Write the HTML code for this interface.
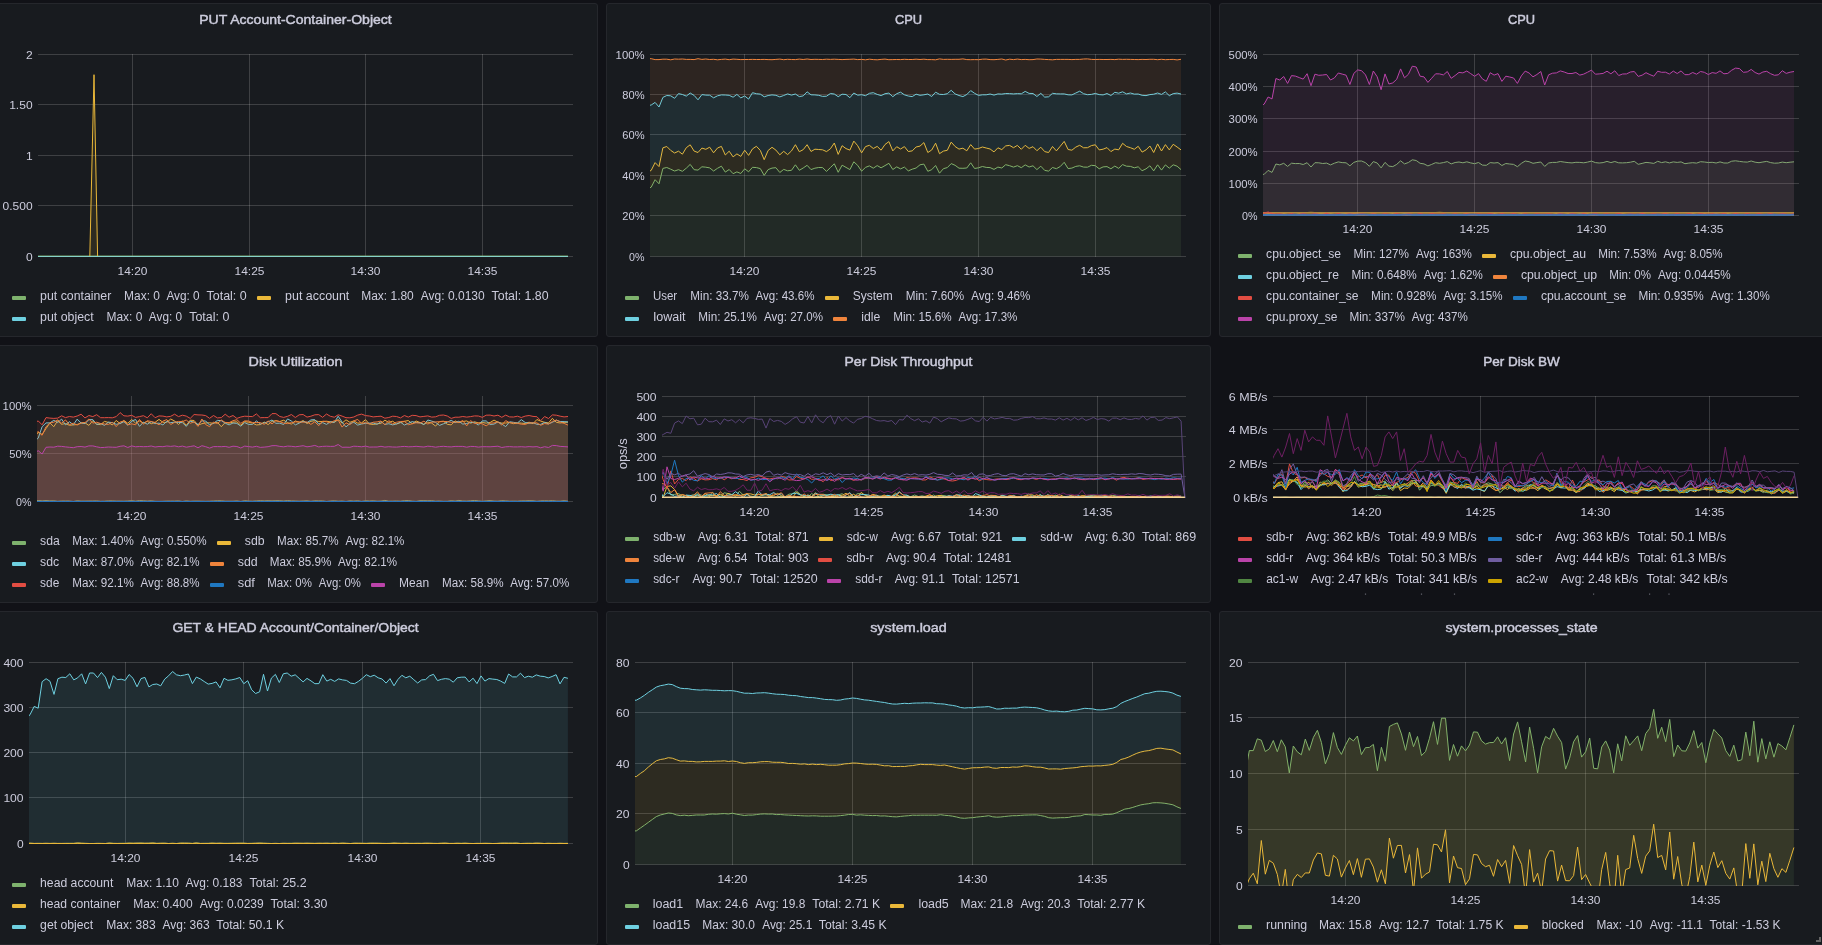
<!DOCTYPE html>
<html><head><meta charset="utf-8"><title>Dashboard</title>
<style>html,body{margin:0;padding:0;background:#111217;overflow:hidden}svg{display:block;will-change:transform}svg{font-family:"Liberation Sans",sans-serif}</style>
</head><body>
<svg width="1822" height="945" viewBox="0 0 1822 945" font-family="Liberation Sans, sans-serif" font-size="12" fill="#ccccdc">
<rect width="1822" height="945" fill="#111217"/>
<rect x="-6.5" y="3.5" width="604" height="333" rx="2.5" fill="#181b1f" stroke="#25272c"/>
<text x="295.5" y="24.4" text-anchor="middle" font-size="13.4" textLength="192.6" lengthAdjust="spacingAndGlyphs" stroke="#ccccdc" stroke-width="0.45">PUT Account-Container-Object</text>
<rect x="132" y="54" width="1" height="203" fill="rgba(255,255,255,0.165)"/>
<rect x="249" y="54" width="1" height="203" fill="rgba(255,255,255,0.165)"/>
<rect x="365" y="54" width="1" height="203" fill="rgba(255,255,255,0.165)"/>
<rect x="482" y="54" width="1" height="203" fill="rgba(255,255,255,0.165)"/>
<rect x="38" y="54" width="535" height="1" fill="rgba(255,255,255,0.165)"/>
<rect x="38" y="104" width="535" height="1" fill="rgba(255,255,255,0.165)"/>
<rect x="38" y="155" width="535" height="1" fill="rgba(255,255,255,0.165)"/>
<rect x="38" y="205" width="535" height="1" fill="rgba(255,255,255,0.165)"/>
<rect x="38" y="256" width="535" height="1" fill="rgba(255,255,255,0.165)"/>
<text x="32.6" y="58.5" text-anchor="end" font-size="11.8" textLength="6.7" lengthAdjust="spacingAndGlyphs">2</text>
<text x="32.6" y="108.5" text-anchor="end" font-size="11.8" textLength="23.4" lengthAdjust="spacingAndGlyphs">1.50</text>
<text x="32.6" y="159.5" text-anchor="end" font-size="11.8" textLength="6.7" lengthAdjust="spacingAndGlyphs">1</text>
<text x="32.6" y="209.5" text-anchor="end" font-size="11.8" textLength="30.1" lengthAdjust="spacingAndGlyphs">0.500</text>
<text x="32.6" y="260.5" text-anchor="end" font-size="11.8" textLength="6.7" lengthAdjust="spacingAndGlyphs">0</text>
<text x="132.5" y="275.1" text-anchor="middle" font-size="11.8" textLength="29.9" lengthAdjust="spacingAndGlyphs">14:20</text>
<text x="249.5" y="275.1" text-anchor="middle" font-size="11.8" textLength="29.9" lengthAdjust="spacingAndGlyphs">14:25</text>
<text x="365.5" y="275.1" text-anchor="middle" font-size="11.8" textLength="29.9" lengthAdjust="spacingAndGlyphs">14:30</text>
<text x="482.5" y="275.1" text-anchor="middle" font-size="11.8" textLength="29.9" lengthAdjust="spacingAndGlyphs">14:35</text>
<clipPath id="c1"><rect x="38" y="53" width="536" height="204"/></clipPath>
<g clip-path="url(#c1)" fill="none" stroke-width="1" stroke-linejoin="round">
<polyline points="31.5,256 568,256" stroke="#7EB26D" stroke-opacity="0.9"/>
<polygon points="31.5,256.5 35.4,256.5 39.2,256.5 43.1,256.5 47,256.5 50.9,256.5 54.8,256.5 58.7,256.5 62.6,256.5 66.5,256.5 70.4,256.5 74.2,256.5 78.1,256.5 82,256.5 85.9,256.5 89.8,256.5 94,74.7 97.6,256.5 101.5,256.5 105.3,256.5 109.2,256.5 113.1,256.5 117,256.5 120.9,256.5 124.8,256.5 128.7,256.5 132.6,256.5 136.4,256.5 140.3,256.5 144.2,256.5 148.1,256.5 152,256.5 155.9,256.5 159.8,256.5 163.7,256.5 167.6,256.5 171.4,256.5 175.3,256.5 179.2,256.5 183.1,256.5 187,256.5 190.9,256.5 194.8,256.5 198.7,256.5 202.5,256.5 206.4,256.5 210.3,256.5 214.2,256.5 218.1,256.5 222,256.5 225.9,256.5 229.8,256.5 233.6,256.5 237.5,256.5 241.4,256.5 245.3,256.5 249.2,256.5 253.1,256.5 257,256.5 260.9,256.5 264.8,256.5 268.6,256.5 272.5,256.5 276.4,256.5 280.3,256.5 284.2,256.5 288.1,256.5 292,256.5 295.9,256.5 299.7,256.5 303.6,256.5 307.5,256.5 311.4,256.5 315.3,256.5 319.2,256.5 323.1,256.5 327,256.5 330.9,256.5 334.7,256.5 338.6,256.5 342.5,256.5 346.4,256.5 350.3,256.5 354.2,256.5 358.1,256.5 362,256.5 365.8,256.5 369.7,256.5 373.6,256.5 377.5,256.5 381.4,256.5 385.3,256.5 389.2,256.5 393.1,256.5 396.9,256.5 400.8,256.5 404.7,256.5 408.6,256.5 412.5,256.5 416.4,256.5 420.3,256.5 424.2,256.5 428.1,256.5 431.9,256.5 435.8,256.5 439.7,256.5 443.6,256.5 447.5,256.5 451.4,256.5 455.3,256.5 459.2,256.5 463,256.5 466.9,256.5 470.8,256.5 474.7,256.5 478.6,256.5 482.5,256.5 486.4,256.5 490.3,256.5 494.2,256.5 498,256.5 501.9,256.5 505.8,256.5 509.7,256.5 513.6,256.5 517.5,256.5 521.4,256.5 525.3,256.5 529.1,256.5 533,256.5 536.9,256.5 540.8,256.5 544.7,256.5 548.6,256.5 552.5,256.5 556.4,256.5 560.2,256.5 564.1,256.5 568,256.5 568,256.5 31.5,256.5" fill="#EAB839" fill-opacity="0.1" stroke="none"/>
<polyline points="31.5,256.5 35.4,256.5 39.2,256.5 43.1,256.5 47,256.5 50.9,256.5 54.8,256.5 58.7,256.5 62.6,256.5 66.5,256.5 70.4,256.5 74.2,256.5 78.1,256.5 82,256.5 85.9,256.5 89.8,256.5 94,74.7 97.6,256.5 101.5,256.5 105.3,256.5 109.2,256.5 113.1,256.5 117,256.5 120.9,256.5 124.8,256.5 128.7,256.5 132.6,256.5 136.4,256.5 140.3,256.5 144.2,256.5 148.1,256.5 152,256.5 155.9,256.5 159.8,256.5 163.7,256.5 167.6,256.5 171.4,256.5 175.3,256.5 179.2,256.5 183.1,256.5 187,256.5 190.9,256.5 194.8,256.5 198.7,256.5 202.5,256.5 206.4,256.5 210.3,256.5 214.2,256.5 218.1,256.5 222,256.5 225.9,256.5 229.8,256.5 233.6,256.5 237.5,256.5 241.4,256.5 245.3,256.5 249.2,256.5 253.1,256.5 257,256.5 260.9,256.5 264.8,256.5 268.6,256.5 272.5,256.5 276.4,256.5 280.3,256.5 284.2,256.5 288.1,256.5 292,256.5 295.9,256.5 299.7,256.5 303.6,256.5 307.5,256.5 311.4,256.5 315.3,256.5 319.2,256.5 323.1,256.5 327,256.5 330.9,256.5 334.7,256.5 338.6,256.5 342.5,256.5 346.4,256.5 350.3,256.5 354.2,256.5 358.1,256.5 362,256.5 365.8,256.5 369.7,256.5 373.6,256.5 377.5,256.5 381.4,256.5 385.3,256.5 389.2,256.5 393.1,256.5 396.9,256.5 400.8,256.5 404.7,256.5 408.6,256.5 412.5,256.5 416.4,256.5 420.3,256.5 424.2,256.5 428.1,256.5 431.9,256.5 435.8,256.5 439.7,256.5 443.6,256.5 447.5,256.5 451.4,256.5 455.3,256.5 459.2,256.5 463,256.5 466.9,256.5 470.8,256.5 474.7,256.5 478.6,256.5 482.5,256.5 486.4,256.5 490.3,256.5 494.2,256.5 498,256.5 501.9,256.5 505.8,256.5 509.7,256.5 513.6,256.5 517.5,256.5 521.4,256.5 525.3,256.5 529.1,256.5 533,256.5 536.9,256.5 540.8,256.5 544.7,256.5 548.6,256.5 552.5,256.5 556.4,256.5 560.2,256.5 564.1,256.5 568,256.5" stroke="#EAB839"/>
<polyline points="31.5,256.5 568,256.5" stroke="#86d2c8"/>
</g>
<rect x="12" y="296" width="14" height="4" rx="1" fill="#7EB26D"/>
<text x="40.1" y="300" textLength="71.2" lengthAdjust="spacingAndGlyphs">put container</text>
<text x="124.1" y="300" textLength="35.8" lengthAdjust="spacingAndGlyphs">Max: 0</text>
<text x="166.4" y="300" textLength="33.3" lengthAdjust="spacingAndGlyphs">Avg: 0</text>
<text x="206.5" y="300" textLength="40.2" lengthAdjust="spacingAndGlyphs">Total: 0</text>
<rect x="257" y="296" width="14" height="4" rx="1" fill="#EAB839"/>
<text x="285.1" y="300" textLength="64.2" lengthAdjust="spacingAndGlyphs">put account</text>
<text x="361.2" y="300" textLength="52.6" lengthAdjust="spacingAndGlyphs">Max: 1.80</text>
<text x="420.8" y="300" textLength="63.9" lengthAdjust="spacingAndGlyphs">Avg: 0.0130</text>
<text x="491.6" y="300" textLength="57" lengthAdjust="spacingAndGlyphs">Total: 1.80</text>
<rect x="12" y="317" width="14" height="4" rx="1" fill="#6ED0E0"/>
<text x="40.1" y="321" textLength="53.6" lengthAdjust="spacingAndGlyphs">put object</text>
<text x="106.5" y="321" textLength="35.8" lengthAdjust="spacingAndGlyphs">Max: 0</text>
<text x="148.8" y="321" textLength="33.3" lengthAdjust="spacingAndGlyphs">Avg: 0</text>
<text x="189.2" y="321" textLength="40.2" lengthAdjust="spacingAndGlyphs">Total: 0</text>
<rect x="606.5" y="3.5" width="604" height="333" rx="2.5" fill="#181b1f" stroke="#25272c"/>
<text x="908.5" y="24.4" text-anchor="middle" font-size="13.4" textLength="27.2" lengthAdjust="spacingAndGlyphs" stroke="#ccccdc" stroke-width="0.45">CPU</text>
<rect x="744" y="54" width="1" height="203" fill="rgba(255,255,255,0.165)"/>
<rect x="861" y="54" width="1" height="203" fill="rgba(255,255,255,0.165)"/>
<rect x="978" y="54" width="1" height="203" fill="rgba(255,255,255,0.165)"/>
<rect x="1095" y="54" width="1" height="203" fill="rgba(255,255,255,0.165)"/>
<rect x="650" y="54" width="536" height="1" fill="rgba(255,255,255,0.165)"/>
<rect x="650" y="94" width="536" height="1" fill="rgba(255,255,255,0.165)"/>
<rect x="650" y="134" width="536" height="1" fill="rgba(255,255,255,0.165)"/>
<rect x="650" y="175" width="536" height="1" fill="rgba(255,255,255,0.165)"/>
<rect x="650" y="215" width="536" height="1" fill="rgba(255,255,255,0.165)"/>
<rect x="650" y="256" width="536" height="1" fill="rgba(255,255,255,0.165)"/>
<text x="644.6" y="58.5" text-anchor="end" font-size="11.8" textLength="29" lengthAdjust="spacingAndGlyphs">100%</text>
<text x="644.6" y="98.5" text-anchor="end" font-size="11.8" textLength="22.3" lengthAdjust="spacingAndGlyphs">80%</text>
<text x="644.6" y="138.5" text-anchor="end" font-size="11.8" textLength="22.3" lengthAdjust="spacingAndGlyphs">60%</text>
<text x="644.6" y="179.5" text-anchor="end" font-size="11.8" textLength="22.3" lengthAdjust="spacingAndGlyphs">40%</text>
<text x="644.6" y="219.5" text-anchor="end" font-size="11.8" textLength="22.3" lengthAdjust="spacingAndGlyphs">20%</text>
<text x="644.6" y="260.5" text-anchor="end" font-size="11.8" textLength="15.5" lengthAdjust="spacingAndGlyphs">0%</text>
<text x="744.5" y="275.1" text-anchor="middle" font-size="11.8" textLength="29.9" lengthAdjust="spacingAndGlyphs">14:20</text>
<text x="861.5" y="275.1" text-anchor="middle" font-size="11.8" textLength="29.9" lengthAdjust="spacingAndGlyphs">14:25</text>
<text x="978.5" y="275.1" text-anchor="middle" font-size="11.8" textLength="29.9" lengthAdjust="spacingAndGlyphs">14:30</text>
<text x="1095.5" y="275.1" text-anchor="middle" font-size="11.8" textLength="29.9" lengthAdjust="spacingAndGlyphs">14:35</text>
<clipPath id="c2"><rect x="650" y="53" width="537" height="204"/></clipPath>
<g clip-path="url(#c2)" fill="none" stroke-width="1" stroke-linejoin="round">
<polygon points="643.5,189.8 647.4,188.8 651.2,187.2 655.1,179.7 659,183.8 662.9,168.4 666.8,167.5 670.7,169.2 674.6,171 678.5,169.7 682.4,171.3 686.3,168.2 690.2,164.4 694.1,169.7 698,170.1 701.9,166.8 705.8,167.2 709.7,167.9 713.6,171 717.5,168.3 721.4,166.2 725.3,172.1 729.2,169.5 733.1,173.7 736.9,171.9 740.8,173.5 744.7,168.8 748.6,171.8 752.5,167.3 756.4,167.6 760.3,168.6 764.2,175.4 768.1,169.6 772,168.1 775.9,167.7 779.8,172.5 783.7,169.4 787.6,170.8 791.5,170.3 795.4,164.8 799.3,170.3 803.2,168 807.1,165.3 811,169.6 814.9,168.2 818.7,167.5 822.6,167.6 826.5,171.4 830.4,167.6 834.3,163.8 838.2,172.3 842.1,165.2 846,167.4 849.9,169.6 853.8,161.8 857.7,165.4 861.6,171.2 865.5,167.4 869.4,165.9 873.3,168.2 877.2,165.6 881.1,167.8 885,165.6 888.9,163.3 892.8,169.5 896.7,166.9 900.6,168.9 904.4,167.1 908.3,170.9 912.2,169.2 916.1,168 920,164.8 923.9,164.1 927.8,171.3 931.7,169.7 935.6,165.5 939.5,173.2 943.4,168.7 947.3,167.6 951.2,163.6 955.1,165.3 959,168.2 962.9,168.3 966.8,168 970.7,162.8 974.6,168.5 978.5,167.8 982.4,166.5 986.2,167.4 990.1,167.6 994,169.4 997.9,167.1 1001.8,168 1005.7,164.7 1009.6,165.7 1013.5,167.1 1017.4,165.7 1021.3,167.7 1025.2,164.9 1029.1,167 1033,165.8 1036.9,169.6 1040.8,166.2 1044.7,170.4 1048.6,171.1 1052.5,167.5 1056.4,168.7 1060.3,166.5 1064.2,162.3 1068.1,168.6 1071.9,168.1 1075.8,166.4 1079.7,165.8 1083.6,167.1 1087.5,167.2 1091.4,165.3 1095.3,165.7 1099.2,168.8 1103.1,166.9 1107,166.6 1110.9,168.8 1114.8,166.1 1118.7,168.4 1122.6,164.6 1126.5,166.2 1130.4,166.4 1134.3,167.8 1138.2,166.8 1142.1,170.7 1146,168.9 1149.9,165.8 1153.7,170.9 1157.6,164.8 1161.5,170.1 1165.4,164.9 1169.3,168.2 1173.2,164.8 1177.1,166.2 1181,169.6 1181,256.5 643.5,256.5" fill="#7EB26D" fill-opacity="0.1" stroke="none"/>
<polyline points="643.5,189.8 647.4,188.8 651.2,187.2 655.1,179.7 659,183.8 662.9,168.4 666.8,167.5 670.7,169.2 674.6,171 678.5,169.7 682.4,171.3 686.3,168.2 690.2,164.4 694.1,169.7 698,170.1 701.9,166.8 705.8,167.2 709.7,167.9 713.6,171 717.5,168.3 721.4,166.2 725.3,172.1 729.2,169.5 733.1,173.7 736.9,171.9 740.8,173.5 744.7,168.8 748.6,171.8 752.5,167.3 756.4,167.6 760.3,168.6 764.2,175.4 768.1,169.6 772,168.1 775.9,167.7 779.8,172.5 783.7,169.4 787.6,170.8 791.5,170.3 795.4,164.8 799.3,170.3 803.2,168 807.1,165.3 811,169.6 814.9,168.2 818.7,167.5 822.6,167.6 826.5,171.4 830.4,167.6 834.3,163.8 838.2,172.3 842.1,165.2 846,167.4 849.9,169.6 853.8,161.8 857.7,165.4 861.6,171.2 865.5,167.4 869.4,165.9 873.3,168.2 877.2,165.6 881.1,167.8 885,165.6 888.9,163.3 892.8,169.5 896.7,166.9 900.6,168.9 904.4,167.1 908.3,170.9 912.2,169.2 916.1,168 920,164.8 923.9,164.1 927.8,171.3 931.7,169.7 935.6,165.5 939.5,173.2 943.4,168.7 947.3,167.6 951.2,163.6 955.1,165.3 959,168.2 962.9,168.3 966.8,168 970.7,162.8 974.6,168.5 978.5,167.8 982.4,166.5 986.2,167.4 990.1,167.6 994,169.4 997.9,167.1 1001.8,168 1005.7,164.7 1009.6,165.7 1013.5,167.1 1017.4,165.7 1021.3,167.7 1025.2,164.9 1029.1,167 1033,165.8 1036.9,169.6 1040.8,166.2 1044.7,170.4 1048.6,171.1 1052.5,167.5 1056.4,168.7 1060.3,166.5 1064.2,162.3 1068.1,168.6 1071.9,168.1 1075.8,166.4 1079.7,165.8 1083.6,167.1 1087.5,167.2 1091.4,165.3 1095.3,165.7 1099.2,168.8 1103.1,166.9 1107,166.6 1110.9,168.8 1114.8,166.1 1118.7,168.4 1122.6,164.6 1126.5,166.2 1130.4,166.4 1134.3,167.8 1138.2,166.8 1142.1,170.7 1146,168.9 1149.9,165.8 1153.7,170.9 1157.6,164.8 1161.5,170.1 1165.4,164.9 1169.3,168.2 1173.2,164.8 1177.1,166.2 1181,169.6" stroke="#7EB26D"/>
<polygon points="643.5,173.3 647.4,172.3 651.2,170.4 655.1,162.6 659,166.6 662.9,147.8 666.8,146.5 670.7,150.4 674.6,153 678.5,151.2 682.4,154.2 686.3,147.7 690.2,144.8 694.1,151.1 698,152.5 701.9,148.1 705.8,149.3 709.7,147.2 713.6,152.8 717.5,148 721.4,146.4 725.3,155 729.2,151.2 733.1,156.9 736.9,153.9 740.8,156.4 744.7,150.2 748.6,155.4 752.5,148.9 756.4,146.3 760.3,150.4 764.2,159.7 768.1,150.5 772,147.3 775.9,150.1 779.8,154.8 783.7,151.3 787.6,154.6 791.5,150.9 795.4,144.7 799.3,151.7 803.2,149.7 807.1,144.7 811,151.5 814.9,149.2 818.7,149.5 822.6,149.8 826.5,151.6 830.4,148.8 834.3,143 838.2,154.4 842.1,145.7 846,148.6 849.9,150.1 853.8,141.1 857.7,145.7 861.6,152.9 865.5,146.6 869.4,145.3 873.3,148.5 877.2,146.4 881.1,150.2 885,144.5 888.9,141.6 892.8,150.9 896.7,146.7 900.6,149 904.4,146.6 908.3,151.5 912.2,150.9 916.1,147 920,146.1 923.9,142.6 927.8,152.5 931.7,150 935.6,143.2 939.5,153.7 943.4,151.1 947.3,150.3 951.2,142.1 955.1,146.5 959,149.1 962.9,148.2 966.8,150.8 970.7,144.6 974.6,149.1 978.5,148.5 982.4,147 986.2,148 990.1,149 994,151.9 997.9,147.8 1001.8,149.6 1005.7,145.9 1009.6,145.4 1013.5,147.7 1017.4,145.4 1021.3,149.3 1025.2,145.3 1029.1,148.4 1033,146.7 1036.9,150.7 1040.8,147.2 1044.7,151.6 1048.6,152.5 1052.5,146.5 1056.4,150.9 1060.3,146.2 1064.2,141.4 1068.1,149.5 1071.9,150.2 1075.8,147.1 1079.7,145.3 1083.6,147.8 1087.5,147.7 1091.4,145.6 1095.3,144.8 1099.2,149.9 1103.1,149.2 1107,147.6 1110.9,151.6 1114.8,149.1 1118.7,149.8 1122.6,143.3 1126.5,146.5 1130.4,147.7 1134.3,149.3 1138.2,146.3 1142.1,152.1 1146,149.9 1149.9,146 1153.7,152.5 1157.6,143.9 1161.5,151 1165.4,144.6 1169.3,149.9 1173.2,144.3 1177.1,147 1181,149.9 1181,169.6 1177.1,166.2 1173.2,164.8 1169.3,168.2 1165.4,164.9 1161.5,170.1 1157.6,164.8 1153.7,170.9 1149.9,165.8 1146,168.9 1142.1,170.7 1138.2,166.8 1134.3,167.8 1130.4,166.4 1126.5,166.2 1122.6,164.6 1118.7,168.4 1114.8,166.1 1110.9,168.8 1107,166.6 1103.1,166.9 1099.2,168.8 1095.3,165.7 1091.4,165.3 1087.5,167.2 1083.6,167.1 1079.7,165.8 1075.8,166.4 1071.9,168.1 1068.1,168.6 1064.2,162.3 1060.3,166.5 1056.4,168.7 1052.5,167.5 1048.6,171.1 1044.7,170.4 1040.8,166.2 1036.9,169.6 1033,165.8 1029.1,167 1025.2,164.9 1021.3,167.7 1017.4,165.7 1013.5,167.1 1009.6,165.7 1005.7,164.7 1001.8,168 997.9,167.1 994,169.4 990.1,167.6 986.2,167.4 982.4,166.5 978.5,167.8 974.6,168.5 970.7,162.8 966.8,168 962.9,168.3 959,168.2 955.1,165.3 951.2,163.6 947.3,167.6 943.4,168.7 939.5,173.2 935.6,165.5 931.7,169.7 927.8,171.3 923.9,164.1 920,164.8 916.1,168 912.2,169.2 908.3,170.9 904.4,167.1 900.6,168.9 896.7,166.9 892.8,169.5 888.9,163.3 885,165.6 881.1,167.8 877.2,165.6 873.3,168.2 869.4,165.9 865.5,167.4 861.6,171.2 857.7,165.4 853.8,161.8 849.9,169.6 846,167.4 842.1,165.2 838.2,172.3 834.3,163.8 830.4,167.6 826.5,171.4 822.6,167.6 818.7,167.5 814.9,168.2 811,169.6 807.1,165.3 803.2,168 799.3,170.3 795.4,164.8 791.5,170.3 787.6,170.8 783.7,169.4 779.8,172.5 775.9,167.7 772,168.1 768.1,169.6 764.2,175.4 760.3,168.6 756.4,167.6 752.5,167.3 748.6,171.8 744.7,168.8 740.8,173.5 736.9,171.9 733.1,173.7 729.2,169.5 725.3,172.1 721.4,166.2 717.5,168.3 713.6,171 709.7,167.9 705.8,167.2 701.9,166.8 698,170.1 694.1,169.7 690.2,164.4 686.3,168.2 682.4,171.3 678.5,169.7 674.6,171 670.7,169.2 666.8,167.5 662.9,168.4 659,183.8 655.1,179.7 651.2,187.2 647.4,188.8 643.5,189.8" fill="#EAB839" fill-opacity="0.1" stroke="none"/>
<polyline points="643.5,173.3 647.4,172.3 651.2,170.4 655.1,162.6 659,166.6 662.9,147.8 666.8,146.5 670.7,150.4 674.6,153 678.5,151.2 682.4,154.2 686.3,147.7 690.2,144.8 694.1,151.1 698,152.5 701.9,148.1 705.8,149.3 709.7,147.2 713.6,152.8 717.5,148 721.4,146.4 725.3,155 729.2,151.2 733.1,156.9 736.9,153.9 740.8,156.4 744.7,150.2 748.6,155.4 752.5,148.9 756.4,146.3 760.3,150.4 764.2,159.7 768.1,150.5 772,147.3 775.9,150.1 779.8,154.8 783.7,151.3 787.6,154.6 791.5,150.9 795.4,144.7 799.3,151.7 803.2,149.7 807.1,144.7 811,151.5 814.9,149.2 818.7,149.5 822.6,149.8 826.5,151.6 830.4,148.8 834.3,143 838.2,154.4 842.1,145.7 846,148.6 849.9,150.1 853.8,141.1 857.7,145.7 861.6,152.9 865.5,146.6 869.4,145.3 873.3,148.5 877.2,146.4 881.1,150.2 885,144.5 888.9,141.6 892.8,150.9 896.7,146.7 900.6,149 904.4,146.6 908.3,151.5 912.2,150.9 916.1,147 920,146.1 923.9,142.6 927.8,152.5 931.7,150 935.6,143.2 939.5,153.7 943.4,151.1 947.3,150.3 951.2,142.1 955.1,146.5 959,149.1 962.9,148.2 966.8,150.8 970.7,144.6 974.6,149.1 978.5,148.5 982.4,147 986.2,148 990.1,149 994,151.9 997.9,147.8 1001.8,149.6 1005.7,145.9 1009.6,145.4 1013.5,147.7 1017.4,145.4 1021.3,149.3 1025.2,145.3 1029.1,148.4 1033,146.7 1036.9,150.7 1040.8,147.2 1044.7,151.6 1048.6,152.5 1052.5,146.5 1056.4,150.9 1060.3,146.2 1064.2,141.4 1068.1,149.5 1071.9,150.2 1075.8,147.1 1079.7,145.3 1083.6,147.8 1087.5,147.7 1091.4,145.6 1095.3,144.8 1099.2,149.9 1103.1,149.2 1107,147.6 1110.9,151.6 1114.8,149.1 1118.7,149.8 1122.6,143.3 1126.5,146.5 1130.4,147.7 1134.3,149.3 1138.2,146.3 1142.1,152.1 1146,149.9 1149.9,146 1153.7,152.5 1157.6,143.9 1161.5,151 1165.4,144.6 1169.3,149.9 1173.2,144.3 1177.1,147 1181,149.9" stroke="#EAB839"/>
<polygon points="643.5,106.4 647.4,105.8 651.2,105 655.1,102.4 659,107 662.9,97.4 666.8,95.5 670.7,95.8 674.6,98.3 678.5,93.6 682.4,94.5 686.3,96.1 690.2,93 694.1,95.4 698,99.8 701.9,94.6 705.8,95.1 709.7,95.2 713.6,97.8 717.5,95.8 721.4,94.9 725.3,95 729.2,95.3 733.1,97.2 736.9,94.4 740.8,97.9 744.7,96 748.6,99.1 752.5,92.7 756.4,93.7 760.3,94.1 764.2,96.8 768.1,95.5 772,94.9 775.9,95.3 779.8,96.9 783.7,95.5 787.6,93.9 791.5,95.1 795.4,94 799.3,96.6 803.2,95.9 807.1,91.8 811,94.8 814.9,94.9 818.7,95.3 822.6,96.4 826.5,96.2 830.4,93.5 834.3,94 838.2,96.7 842.1,94.2 846,94.5 849.9,97.7 853.8,93 857.7,95.2 861.6,94.7 865.5,95.7 869.4,93.3 873.3,92.7 877.2,94.4 881.1,95.6 885,93.7 888.9,93.1 892.8,96.7 896.7,93.7 900.6,92.2 904.4,94.8 908.3,96 912.2,96.6 916.1,94.2 920,95.3 923.9,94.8 927.8,94 931.7,96.5 935.6,92.2 939.5,94.3 943.4,94.5 947.3,93.7 951.2,90.3 955.1,93.9 959,95.5 962.9,96.6 966.8,94.5 970.7,90.6 974.6,93.3 978.5,95.4 982.4,94.8 986.2,94.8 990.1,94 994,95.1 997.9,93.9 1001.8,94.1 1005.7,93.5 1009.6,93.6 1013.5,93.9 1017.4,93.6 1021.3,93.8 1025.2,91.4 1029.1,93.4 1033,93.5 1036.9,96.5 1040.8,93.3 1044.7,97.1 1048.6,96.8 1052.5,93.3 1056.4,93.8 1060.3,93.9 1064.2,93.9 1068.1,94.8 1071.9,94.9 1075.8,93 1079.7,91.2 1083.6,93.7 1087.5,94.7 1091.4,94.4 1095.3,93.4 1099.2,94.6 1103.1,94.9 1107,93.5 1110.9,95.5 1114.8,92.3 1118.7,93.2 1122.6,91.8 1126.5,93.9 1130.4,93 1134.3,94.1 1138.2,94 1142.1,95.3 1146,95.6 1149.9,94.6 1153.7,94.2 1157.6,93 1161.5,94.4 1165.4,91.9 1169.3,95.7 1173.2,93.6 1177.1,93.1 1181,94 1181,149.9 1177.1,147 1173.2,144.3 1169.3,149.9 1165.4,144.6 1161.5,151 1157.6,143.9 1153.7,152.5 1149.9,146 1146,149.9 1142.1,152.1 1138.2,146.3 1134.3,149.3 1130.4,147.7 1126.5,146.5 1122.6,143.3 1118.7,149.8 1114.8,149.1 1110.9,151.6 1107,147.6 1103.1,149.2 1099.2,149.9 1095.3,144.8 1091.4,145.6 1087.5,147.7 1083.6,147.8 1079.7,145.3 1075.8,147.1 1071.9,150.2 1068.1,149.5 1064.2,141.4 1060.3,146.2 1056.4,150.9 1052.5,146.5 1048.6,152.5 1044.7,151.6 1040.8,147.2 1036.9,150.7 1033,146.7 1029.1,148.4 1025.2,145.3 1021.3,149.3 1017.4,145.4 1013.5,147.7 1009.6,145.4 1005.7,145.9 1001.8,149.6 997.9,147.8 994,151.9 990.1,149 986.2,148 982.4,147 978.5,148.5 974.6,149.1 970.7,144.6 966.8,150.8 962.9,148.2 959,149.1 955.1,146.5 951.2,142.1 947.3,150.3 943.4,151.1 939.5,153.7 935.6,143.2 931.7,150 927.8,152.5 923.9,142.6 920,146.1 916.1,147 912.2,150.9 908.3,151.5 904.4,146.6 900.6,149 896.7,146.7 892.8,150.9 888.9,141.6 885,144.5 881.1,150.2 877.2,146.4 873.3,148.5 869.4,145.3 865.5,146.6 861.6,152.9 857.7,145.7 853.8,141.1 849.9,150.1 846,148.6 842.1,145.7 838.2,154.4 834.3,143 830.4,148.8 826.5,151.6 822.6,149.8 818.7,149.5 814.9,149.2 811,151.5 807.1,144.7 803.2,149.7 799.3,151.7 795.4,144.7 791.5,150.9 787.6,154.6 783.7,151.3 779.8,154.8 775.9,150.1 772,147.3 768.1,150.5 764.2,159.7 760.3,150.4 756.4,146.3 752.5,148.9 748.6,155.4 744.7,150.2 740.8,156.4 736.9,153.9 733.1,156.9 729.2,151.2 725.3,155 721.4,146.4 717.5,148 713.6,152.8 709.7,147.2 705.8,149.3 701.9,148.1 698,152.5 694.1,151.1 690.2,144.8 686.3,147.7 682.4,154.2 678.5,151.2 674.6,153 670.7,150.4 666.8,146.5 662.9,147.8 659,166.6 655.1,162.6 651.2,170.4 647.4,172.3 643.5,173.3" fill="#6ED0E0" fill-opacity="0.1" stroke="none"/>
<polyline points="643.5,106.4 647.4,105.8 651.2,105 655.1,102.4 659,107 662.9,97.4 666.8,95.5 670.7,95.8 674.6,98.3 678.5,93.6 682.4,94.5 686.3,96.1 690.2,93 694.1,95.4 698,99.8 701.9,94.6 705.8,95.1 709.7,95.2 713.6,97.8 717.5,95.8 721.4,94.9 725.3,95 729.2,95.3 733.1,97.2 736.9,94.4 740.8,97.9 744.7,96 748.6,99.1 752.5,92.7 756.4,93.7 760.3,94.1 764.2,96.8 768.1,95.5 772,94.9 775.9,95.3 779.8,96.9 783.7,95.5 787.6,93.9 791.5,95.1 795.4,94 799.3,96.6 803.2,95.9 807.1,91.8 811,94.8 814.9,94.9 818.7,95.3 822.6,96.4 826.5,96.2 830.4,93.5 834.3,94 838.2,96.7 842.1,94.2 846,94.5 849.9,97.7 853.8,93 857.7,95.2 861.6,94.7 865.5,95.7 869.4,93.3 873.3,92.7 877.2,94.4 881.1,95.6 885,93.7 888.9,93.1 892.8,96.7 896.7,93.7 900.6,92.2 904.4,94.8 908.3,96 912.2,96.6 916.1,94.2 920,95.3 923.9,94.8 927.8,94 931.7,96.5 935.6,92.2 939.5,94.3 943.4,94.5 947.3,93.7 951.2,90.3 955.1,93.9 959,95.5 962.9,96.6 966.8,94.5 970.7,90.6 974.6,93.3 978.5,95.4 982.4,94.8 986.2,94.8 990.1,94 994,95.1 997.9,93.9 1001.8,94.1 1005.7,93.5 1009.6,93.6 1013.5,93.9 1017.4,93.6 1021.3,93.8 1025.2,91.4 1029.1,93.4 1033,93.5 1036.9,96.5 1040.8,93.3 1044.7,97.1 1048.6,96.8 1052.5,93.3 1056.4,93.8 1060.3,93.9 1064.2,93.9 1068.1,94.8 1071.9,94.9 1075.8,93 1079.7,91.2 1083.6,93.7 1087.5,94.7 1091.4,94.4 1095.3,93.4 1099.2,94.6 1103.1,94.9 1107,93.5 1110.9,95.5 1114.8,92.3 1118.7,93.2 1122.6,91.8 1126.5,93.9 1130.4,93 1134.3,94.1 1138.2,94 1142.1,95.3 1146,95.6 1149.9,94.6 1153.7,94.2 1157.6,93 1161.5,94.4 1165.4,91.9 1169.3,95.7 1173.2,93.6 1177.1,93.1 1181,94" stroke="#6ED0E0"/>
<polygon points="643.5,58.5 647.4,58.5 651.2,58.7 655.1,59.6 659,59.6 662.9,59.2 666.8,59.2 670.7,59.8 674.6,59 678.5,59.2 682.4,59 686.3,59.4 690.2,59.4 694.1,59.6 698,58.7 701.9,59.4 705.8,59 709.7,59.5 713.6,59.3 717.5,59.8 721.4,59.4 725.3,59.1 729.2,59.7 733.1,59.1 736.9,59.3 740.8,59.6 744.7,59.5 748.6,59.5 752.5,59.4 756.4,59.5 760.3,59.5 764.2,59.4 768.1,59.6 772,59.7 775.9,59.4 779.8,59.1 783.7,59.7 787.6,59.3 791.5,59.5 795.4,59.6 799.3,59.1 803.2,59.5 807.1,59 811,59.5 814.9,59.3 818.7,59.4 822.6,59.5 826.5,59.2 830.4,59.4 834.3,59.2 838.2,59.4 842.1,59.6 846,59.4 849.9,59.3 853.8,59.1 857.7,59.6 861.6,59.4 865.5,59.8 869.4,59.2 873.3,59.6 877.2,59.8 881.1,59.4 885,59.1 888.9,59.7 892.8,59.6 896.7,59.5 900.6,59.6 904.4,59.3 908.3,59.5 912.2,59.5 916.1,59.2 920,59.5 923.9,59.2 927.8,59.6 931.7,59.6 935.6,59.8 939.5,58.9 943.4,59.4 947.3,59.3 951.2,59.4 955.1,59.3 959,59.3 962.9,58.9 966.8,59.6 970.7,59.7 974.6,59.6 978.5,59.7 982.4,59.2 986.2,59.1 990.1,59.6 994,59.7 997.9,59.4 1001.8,59 1005.7,60 1009.6,59.2 1013.5,59.6 1017.4,59.1 1021.3,59.6 1025.2,59.4 1029.1,59.7 1033,59.6 1036.9,59 1040.8,59.1 1044.7,59.4 1048.6,59.6 1052.5,59.8 1056.4,59.4 1060.3,59.4 1064.2,59.4 1068.1,59.4 1071.9,59.6 1075.8,59.4 1079.7,59.4 1083.6,59 1087.5,58.9 1091.4,59.4 1095.3,59.5 1099.2,59.4 1103.1,59.5 1107,59.5 1110.9,59.4 1114.8,59.6 1118.7,59.2 1122.6,59.4 1126.5,59.3 1130.4,59.4 1134.3,59.5 1138.2,59.6 1142.1,59.4 1146,59.5 1149.9,59.3 1153.7,59.3 1157.6,59.7 1161.5,59.3 1165.4,59.7 1169.3,59.5 1173.2,59.4 1177.1,59.9 1181,59.3 1181,94 1177.1,93.1 1173.2,93.6 1169.3,95.7 1165.4,91.9 1161.5,94.4 1157.6,93 1153.7,94.2 1149.9,94.6 1146,95.6 1142.1,95.3 1138.2,94 1134.3,94.1 1130.4,93 1126.5,93.9 1122.6,91.8 1118.7,93.2 1114.8,92.3 1110.9,95.5 1107,93.5 1103.1,94.9 1099.2,94.6 1095.3,93.4 1091.4,94.4 1087.5,94.7 1083.6,93.7 1079.7,91.2 1075.8,93 1071.9,94.9 1068.1,94.8 1064.2,93.9 1060.3,93.9 1056.4,93.8 1052.5,93.3 1048.6,96.8 1044.7,97.1 1040.8,93.3 1036.9,96.5 1033,93.5 1029.1,93.4 1025.2,91.4 1021.3,93.8 1017.4,93.6 1013.5,93.9 1009.6,93.6 1005.7,93.5 1001.8,94.1 997.9,93.9 994,95.1 990.1,94 986.2,94.8 982.4,94.8 978.5,95.4 974.6,93.3 970.7,90.6 966.8,94.5 962.9,96.6 959,95.5 955.1,93.9 951.2,90.3 947.3,93.7 943.4,94.5 939.5,94.3 935.6,92.2 931.7,96.5 927.8,94 923.9,94.8 920,95.3 916.1,94.2 912.2,96.6 908.3,96 904.4,94.8 900.6,92.2 896.7,93.7 892.8,96.7 888.9,93.1 885,93.7 881.1,95.6 877.2,94.4 873.3,92.7 869.4,93.3 865.5,95.7 861.6,94.7 857.7,95.2 853.8,93 849.9,97.7 846,94.5 842.1,94.2 838.2,96.7 834.3,94 830.4,93.5 826.5,96.2 822.6,96.4 818.7,95.3 814.9,94.9 811,94.8 807.1,91.8 803.2,95.9 799.3,96.6 795.4,94 791.5,95.1 787.6,93.9 783.7,95.5 779.8,96.9 775.9,95.3 772,94.9 768.1,95.5 764.2,96.8 760.3,94.1 756.4,93.7 752.5,92.7 748.6,99.1 744.7,96 740.8,97.9 736.9,94.4 733.1,97.2 729.2,95.3 725.3,95 721.4,94.9 717.5,95.8 713.6,97.8 709.7,95.2 705.8,95.1 701.9,94.6 698,99.8 694.1,95.4 690.2,93 686.3,96.1 682.4,94.5 678.5,93.6 674.6,98.3 670.7,95.8 666.8,95.5 662.9,97.4 659,107 655.1,102.4 651.2,105 647.4,105.8 643.5,106.4" fill="#EF843C" fill-opacity="0.1" stroke="none"/>
<polyline points="643.5,58.5 647.4,58.5 651.2,58.7 655.1,59.6 659,59.6 662.9,59.2 666.8,59.2 670.7,59.8 674.6,59 678.5,59.2 682.4,59 686.3,59.4 690.2,59.4 694.1,59.6 698,58.7 701.9,59.4 705.8,59 709.7,59.5 713.6,59.3 717.5,59.8 721.4,59.4 725.3,59.1 729.2,59.7 733.1,59.1 736.9,59.3 740.8,59.6 744.7,59.5 748.6,59.5 752.5,59.4 756.4,59.5 760.3,59.5 764.2,59.4 768.1,59.6 772,59.7 775.9,59.4 779.8,59.1 783.7,59.7 787.6,59.3 791.5,59.5 795.4,59.6 799.3,59.1 803.2,59.5 807.1,59 811,59.5 814.9,59.3 818.7,59.4 822.6,59.5 826.5,59.2 830.4,59.4 834.3,59.2 838.2,59.4 842.1,59.6 846,59.4 849.9,59.3 853.8,59.1 857.7,59.6 861.6,59.4 865.5,59.8 869.4,59.2 873.3,59.6 877.2,59.8 881.1,59.4 885,59.1 888.9,59.7 892.8,59.6 896.7,59.5 900.6,59.6 904.4,59.3 908.3,59.5 912.2,59.5 916.1,59.2 920,59.5 923.9,59.2 927.8,59.6 931.7,59.6 935.6,59.8 939.5,58.9 943.4,59.4 947.3,59.3 951.2,59.4 955.1,59.3 959,59.3 962.9,58.9 966.8,59.6 970.7,59.7 974.6,59.6 978.5,59.7 982.4,59.2 986.2,59.1 990.1,59.6 994,59.7 997.9,59.4 1001.8,59 1005.7,60 1009.6,59.2 1013.5,59.6 1017.4,59.1 1021.3,59.6 1025.2,59.4 1029.1,59.7 1033,59.6 1036.9,59 1040.8,59.1 1044.7,59.4 1048.6,59.6 1052.5,59.8 1056.4,59.4 1060.3,59.4 1064.2,59.4 1068.1,59.4 1071.9,59.6 1075.8,59.4 1079.7,59.4 1083.6,59 1087.5,58.9 1091.4,59.4 1095.3,59.5 1099.2,59.4 1103.1,59.5 1107,59.5 1110.9,59.4 1114.8,59.6 1118.7,59.2 1122.6,59.4 1126.5,59.3 1130.4,59.4 1134.3,59.5 1138.2,59.6 1142.1,59.4 1146,59.5 1149.9,59.3 1153.7,59.3 1157.6,59.7 1161.5,59.3 1165.4,59.7 1169.3,59.5 1173.2,59.4 1177.1,59.9 1181,59.3" stroke="#EF843C"/>
</g>
<rect x="625" y="296" width="14" height="4" rx="1" fill="#7EB26D"/>
<text x="652.9" y="300" textLength="24.2" lengthAdjust="spacingAndGlyphs">User</text>
<text x="690.3" y="300" textLength="58.5" lengthAdjust="spacingAndGlyphs">Min: 33.7%</text>
<text x="755.5" y="300" textLength="59" lengthAdjust="spacingAndGlyphs">Avg: 43.6%</text>
<rect x="825" y="296" width="14" height="4" rx="1" fill="#EAB839"/>
<text x="852.8" y="300" textLength="39.9" lengthAdjust="spacingAndGlyphs">System</text>
<text x="905.7" y="300" textLength="58.5" lengthAdjust="spacingAndGlyphs">Min: 7.60%</text>
<text x="971.2" y="300" textLength="59" lengthAdjust="spacingAndGlyphs">Avg: 9.46%</text>
<rect x="625" y="317" width="14" height="4" rx="1" fill="#6ED0E0"/>
<text x="652.9" y="321" textLength="32.7" lengthAdjust="spacingAndGlyphs">Iowait</text>
<text x="698.3" y="321" textLength="58.5" lengthAdjust="spacingAndGlyphs">Min: 25.1%</text>
<text x="764" y="321" textLength="59" lengthAdjust="spacingAndGlyphs">Avg: 27.0%</text>
<rect x="833" y="317" width="14" height="4" rx="1" fill="#EF843C"/>
<text x="861.3" y="321" textLength="19" lengthAdjust="spacingAndGlyphs">idle</text>
<text x="893.2" y="321" textLength="58.5" lengthAdjust="spacingAndGlyphs">Min: 15.6%</text>
<text x="958.4" y="321" textLength="59" lengthAdjust="spacingAndGlyphs">Avg: 17.3%</text>
<rect x="1219.5" y="3.5" width="604" height="333" rx="2.5" fill="#181b1f" stroke="#25272c"/>
<text x="1521.5" y="24.4" text-anchor="middle" font-size="13.4" textLength="27.2" lengthAdjust="spacingAndGlyphs" stroke="#ccccdc" stroke-width="0.45">CPU</text>
<rect x="1357" y="54" width="1" height="162" fill="rgba(255,255,255,0.165)"/>
<rect x="1474" y="54" width="1" height="162" fill="rgba(255,255,255,0.165)"/>
<rect x="1591" y="54" width="1" height="162" fill="rgba(255,255,255,0.165)"/>
<rect x="1708" y="54" width="1" height="162" fill="rgba(255,255,255,0.165)"/>
<rect x="1263" y="54" width="536" height="1" fill="rgba(255,255,255,0.165)"/>
<rect x="1263" y="86" width="536" height="1" fill="rgba(255,255,255,0.165)"/>
<rect x="1263" y="118" width="536" height="1" fill="rgba(255,255,255,0.165)"/>
<rect x="1263" y="151" width="536" height="1" fill="rgba(255,255,255,0.165)"/>
<rect x="1263" y="183" width="536" height="1" fill="rgba(255,255,255,0.165)"/>
<rect x="1263" y="215" width="536" height="1" fill="rgba(255,255,255,0.165)"/>
<text x="1257.6" y="58.5" text-anchor="end" font-size="11.8" textLength="29" lengthAdjust="spacingAndGlyphs">500%</text>
<text x="1257.6" y="90.5" text-anchor="end" font-size="11.8" textLength="29" lengthAdjust="spacingAndGlyphs">400%</text>
<text x="1257.6" y="122.5" text-anchor="end" font-size="11.8" textLength="29" lengthAdjust="spacingAndGlyphs">300%</text>
<text x="1257.6" y="155.5" text-anchor="end" font-size="11.8" textLength="29" lengthAdjust="spacingAndGlyphs">200%</text>
<text x="1257.6" y="187.5" text-anchor="end" font-size="11.8" textLength="29" lengthAdjust="spacingAndGlyphs">100%</text>
<text x="1257.6" y="219.5" text-anchor="end" font-size="11.8" textLength="15.5" lengthAdjust="spacingAndGlyphs">0%</text>
<text x="1357.5" y="233.1" text-anchor="middle" font-size="11.8" textLength="29.9" lengthAdjust="spacingAndGlyphs">14:20</text>
<text x="1474.5" y="233.1" text-anchor="middle" font-size="11.8" textLength="29.9" lengthAdjust="spacingAndGlyphs">14:25</text>
<text x="1591.5" y="233.1" text-anchor="middle" font-size="11.8" textLength="29.9" lengthAdjust="spacingAndGlyphs">14:30</text>
<text x="1708.5" y="233.1" text-anchor="middle" font-size="11.8" textLength="29.9" lengthAdjust="spacingAndGlyphs">14:35</text>
<clipPath id="c3"><rect x="1263" y="53" width="537" height="163"/></clipPath>
<g clip-path="url(#c3)" fill="none" stroke-width="1" stroke-linejoin="round">
<polygon points="1256.5,174.9 1260.4,174.6 1264.2,174.3 1268.1,170.4 1272,172.4 1275.9,164 1279.8,164.9 1283.7,163.3 1287.6,166.4 1291.5,163.2 1295.4,163.6 1299.3,163.5 1303.2,164.5 1307.1,162.7 1311,167 1314.9,162.7 1318.8,162.8 1322.7,163.5 1326.6,163.1 1330.5,164.9 1334.4,163.2 1338.3,161.9 1342.2,162.6 1346.1,162.8 1349.9,165.8 1353.8,162.4 1357.7,161.1 1361.6,161 1365.5,162.7 1369.4,166.3 1373.3,161.6 1377.2,163 1381.1,167.9 1385,162.4 1388.9,166.1 1392.8,166.6 1396.7,164.4 1400.6,160.8 1404.5,163.9 1408.4,162.5 1412.3,159.8 1416.2,160.5 1420.1,163.3 1424,163.9 1427.9,165.9 1431.7,164.4 1435.6,162.7 1439.5,163.3 1443.4,162.6 1447.3,161.6 1451.2,163.9 1455.1,162.5 1459,162 1462.9,162.8 1466.8,161.8 1470.7,162.9 1474.6,163.7 1478.5,162.5 1482.4,165.1 1486.3,165.3 1490.2,162.6 1494.1,163 1498,162.6 1501.9,165.5 1505.8,163.5 1509.7,164 1513.6,164.4 1517.4,166.7 1521.3,163.4 1525.2,161 1529.1,161.7 1533,163.3 1536.9,162.6 1540.8,162 1544.7,166.4 1548.6,163 1552.5,162.4 1556.4,162.4 1560.3,161.5 1564.2,162.1 1568.1,162.6 1572,162.9 1575.9,162.3 1579.8,162.4 1583.7,162.8 1587.6,162.1 1591.5,161.1 1595.4,162.6 1599.2,163 1603.1,162.6 1607,161.4 1610.9,162.6 1614.8,161.5 1618.7,162.8 1622.6,162.9 1626.5,162.7 1630.4,162.2 1634.3,161.3 1638.2,164.3 1642.1,163.4 1646,162.4 1649.9,162.8 1653.8,163.4 1657.7,161.3 1661.6,162.6 1665.5,161.8 1669.4,162.9 1673.3,161.9 1677.2,162.4 1681.1,161.9 1684.9,163.7 1688.8,163.1 1692.7,162.7 1696.6,163.1 1700.5,161.7 1704.4,162 1708.3,162.5 1712.2,162.3 1716.1,163 1720,161.9 1723.9,163 1727.8,163 1731.7,161.2 1735.6,160.8 1739.5,161.4 1743.4,161.9 1747.3,162.1 1751.2,161 1755.1,162.2 1759,162.7 1762.9,162 1766.7,161.4 1770.6,162.6 1774.5,163.2 1778.4,163 1782.3,162.1 1786.2,162.7 1790.1,162.2 1794,161.8 1794,215.5 1256.5,215.5" fill="#7EB26D" fill-opacity="0.1" stroke="none"/>
<polyline points="1256.5,174.9 1260.4,174.6 1264.2,174.3 1268.1,170.4 1272,172.4 1275.9,164 1279.8,164.9 1283.7,163.3 1287.6,166.4 1291.5,163.2 1295.4,163.6 1299.3,163.5 1303.2,164.5 1307.1,162.7 1311,167 1314.9,162.7 1318.8,162.8 1322.7,163.5 1326.6,163.1 1330.5,164.9 1334.4,163.2 1338.3,161.9 1342.2,162.6 1346.1,162.8 1349.9,165.8 1353.8,162.4 1357.7,161.1 1361.6,161 1365.5,162.7 1369.4,166.3 1373.3,161.6 1377.2,163 1381.1,167.9 1385,162.4 1388.9,166.1 1392.8,166.6 1396.7,164.4 1400.6,160.8 1404.5,163.9 1408.4,162.5 1412.3,159.8 1416.2,160.5 1420.1,163.3 1424,163.9 1427.9,165.9 1431.7,164.4 1435.6,162.7 1439.5,163.3 1443.4,162.6 1447.3,161.6 1451.2,163.9 1455.1,162.5 1459,162 1462.9,162.8 1466.8,161.8 1470.7,162.9 1474.6,163.7 1478.5,162.5 1482.4,165.1 1486.3,165.3 1490.2,162.6 1494.1,163 1498,162.6 1501.9,165.5 1505.8,163.5 1509.7,164 1513.6,164.4 1517.4,166.7 1521.3,163.4 1525.2,161 1529.1,161.7 1533,163.3 1536.9,162.6 1540.8,162 1544.7,166.4 1548.6,163 1552.5,162.4 1556.4,162.4 1560.3,161.5 1564.2,162.1 1568.1,162.6 1572,162.9 1575.9,162.3 1579.8,162.4 1583.7,162.8 1587.6,162.1 1591.5,161.1 1595.4,162.6 1599.2,163 1603.1,162.6 1607,161.4 1610.9,162.6 1614.8,161.5 1618.7,162.8 1622.6,162.9 1626.5,162.7 1630.4,162.2 1634.3,161.3 1638.2,164.3 1642.1,163.4 1646,162.4 1649.9,162.8 1653.8,163.4 1657.7,161.3 1661.6,162.6 1665.5,161.8 1669.4,162.9 1673.3,161.9 1677.2,162.4 1681.1,161.9 1684.9,163.7 1688.8,163.1 1692.7,162.7 1696.6,163.1 1700.5,161.7 1704.4,162 1708.3,162.5 1712.2,162.3 1716.1,163 1720,161.9 1723.9,163 1727.8,163 1731.7,161.2 1735.6,160.8 1739.5,161.4 1743.4,161.9 1747.3,162.1 1751.2,161 1755.1,162.2 1759,162.7 1762.9,162 1766.7,161.4 1770.6,162.6 1774.5,163.2 1778.4,163 1782.3,162.1 1786.2,162.7 1790.1,162.2 1794,161.8" stroke="#7EB26D"/>
<polygon points="1256.5,213 1260.4,212.8 1264.2,212.9 1268.1,213 1272,213 1275.9,212.9 1279.8,212.9 1283.7,213 1287.6,212.9 1291.5,212.9 1295.4,212.9 1299.3,213 1303.2,212.9 1307.1,212.8 1311,212.7 1314.9,213 1318.8,212.9 1322.7,213 1326.6,212.9 1330.5,213 1334.4,212.9 1338.3,212.9 1342.2,213 1346.1,213 1349.9,212.9 1353.8,213 1357.7,213 1361.6,212.9 1365.5,212.9 1369.4,212.9 1373.3,213 1377.2,212.9 1381.1,212.9 1385,212.9 1388.9,212.9 1392.8,213 1396.7,212.9 1400.6,212.9 1404.5,213 1408.4,213 1412.3,212.8 1416.2,212.9 1420.1,212.8 1424,212.9 1427.9,212.8 1431.7,212.9 1435.6,212.9 1439.5,212.7 1443.4,212.9 1447.3,212.9 1451.2,212.9 1455.1,212.9 1459,212.8 1462.9,212.9 1466.8,213 1470.7,212.9 1474.6,212.9 1478.5,212.9 1482.4,212.8 1486.3,212.9 1490.2,212.9 1494.1,213 1498,212.9 1501.9,212.8 1505.8,212.9 1509.7,212.9 1513.6,212.9 1517.4,212.8 1521.3,213 1525.2,212.9 1529.1,212.9 1533,212.9 1536.9,212.9 1540.8,212.9 1544.7,212.9 1548.6,212.9 1552.5,212.9 1556.4,213 1560.3,212.9 1564.2,212.9 1568.1,213 1572,212.9 1575.9,212.9 1579.8,213 1583.7,212.9 1587.6,213 1591.5,212.8 1595.4,212.8 1599.2,212.8 1603.1,212.9 1607,212.9 1610.9,212.9 1614.8,212.9 1618.7,212.8 1622.6,213 1626.5,212.8 1630.4,212.9 1634.3,212.8 1638.2,212.9 1642.1,213 1646,212.9 1649.9,212.9 1653.8,212.9 1657.7,212.9 1661.6,212.9 1665.5,213 1669.4,212.8 1673.3,212.9 1677.2,212.9 1681.1,212.9 1684.9,212.8 1688.8,212.9 1692.7,213 1696.6,212.9 1700.5,212.8 1704.4,213 1708.3,212.8 1712.2,212.9 1716.1,213 1720,212.8 1723.9,212.9 1727.8,213 1731.7,212.9 1735.6,212.8 1739.5,212.8 1743.4,212.9 1747.3,212.9 1751.2,212.9 1755.1,212.9 1759,212.9 1762.9,212.9 1766.7,212.9 1770.6,212.9 1774.5,212.9 1778.4,212.9 1782.3,212.9 1786.2,212.9 1790.1,212.8 1794,212.9 1794,215.5 1256.5,215.5" fill="#EAB839" fill-opacity="0.1" stroke="none"/>
<polyline points="1256.5,213 1260.4,212.8 1264.2,212.9 1268.1,213 1272,213 1275.9,212.9 1279.8,212.9 1283.7,213 1287.6,212.9 1291.5,212.9 1295.4,212.9 1299.3,213 1303.2,212.9 1307.1,212.8 1311,212.7 1314.9,213 1318.8,212.9 1322.7,213 1326.6,212.9 1330.5,213 1334.4,212.9 1338.3,212.9 1342.2,213 1346.1,213 1349.9,212.9 1353.8,213 1357.7,213 1361.6,212.9 1365.5,212.9 1369.4,212.9 1373.3,213 1377.2,212.9 1381.1,212.9 1385,212.9 1388.9,212.9 1392.8,213 1396.7,212.9 1400.6,212.9 1404.5,213 1408.4,213 1412.3,212.8 1416.2,212.9 1420.1,212.8 1424,212.9 1427.9,212.8 1431.7,212.9 1435.6,212.9 1439.5,212.7 1443.4,212.9 1447.3,212.9 1451.2,212.9 1455.1,212.9 1459,212.8 1462.9,212.9 1466.8,213 1470.7,212.9 1474.6,212.9 1478.5,212.9 1482.4,212.8 1486.3,212.9 1490.2,212.9 1494.1,213 1498,212.9 1501.9,212.8 1505.8,212.9 1509.7,212.9 1513.6,212.9 1517.4,212.8 1521.3,213 1525.2,212.9 1529.1,212.9 1533,212.9 1536.9,212.9 1540.8,212.9 1544.7,212.9 1548.6,212.9 1552.5,212.9 1556.4,213 1560.3,212.9 1564.2,212.9 1568.1,213 1572,212.9 1575.9,212.9 1579.8,213 1583.7,212.9 1587.6,213 1591.5,212.8 1595.4,212.8 1599.2,212.8 1603.1,212.9 1607,212.9 1610.9,212.9 1614.8,212.9 1618.7,212.8 1622.6,213 1626.5,212.8 1630.4,212.9 1634.3,212.8 1638.2,212.9 1642.1,213 1646,212.9 1649.9,212.9 1653.8,212.9 1657.7,212.9 1661.6,212.9 1665.5,213 1669.4,212.8 1673.3,212.9 1677.2,212.9 1681.1,212.9 1684.9,212.8 1688.8,212.9 1692.7,213 1696.6,212.9 1700.5,212.8 1704.4,213 1708.3,212.8 1712.2,212.9 1716.1,213 1720,212.8 1723.9,212.9 1727.8,213 1731.7,212.9 1735.6,212.8 1739.5,212.8 1743.4,212.9 1747.3,212.9 1751.2,212.9 1755.1,212.9 1759,212.9 1762.9,212.9 1766.7,212.9 1770.6,212.9 1774.5,212.9 1778.4,212.9 1782.3,212.9 1786.2,212.9 1790.1,212.8 1794,212.9" stroke="#EAB839" stroke-width="1.8" stroke-opacity="0.72"/>
<polygon points="1256.5,214.9 1260.4,214.9 1264.2,214.9 1268.1,214.8 1272,215.1 1275.9,214.9 1279.8,215 1283.7,214.8 1287.6,214.8 1291.5,215.2 1295.4,215.1 1299.3,214.9 1303.2,214.9 1307.1,214.9 1311,215 1314.9,214.9 1318.8,214.9 1322.7,215 1326.6,214.9 1330.5,215.2 1334.4,214.9 1338.3,215.1 1342.2,214.9 1346.1,215 1349.9,215.1 1353.8,214.9 1357.7,215.1 1361.6,215.1 1365.5,215.1 1369.4,215 1373.3,214.9 1377.2,214.9 1381.1,215 1385,214.9 1388.9,215 1392.8,215 1396.7,214.9 1400.6,214.9 1404.5,215 1408.4,215 1412.3,215 1416.2,215 1420.1,215.1 1424,214.9 1427.9,215 1431.7,214.9 1435.6,215.1 1439.5,214.9 1443.4,214.9 1447.3,215 1451.2,214.8 1455.1,214.9 1459,214.8 1462.9,214.9 1466.8,215 1470.7,215 1474.6,214.9 1478.5,215 1482.4,215 1486.3,215 1490.2,215.2 1494.1,215 1498,215.2 1501.9,214.9 1505.8,215 1509.7,215 1513.6,215 1517.4,215 1521.3,215.1 1525.2,215.1 1529.1,215.1 1533,215.2 1536.9,215.1 1540.8,214.8 1544.7,215.1 1548.6,214.9 1552.5,215.1 1556.4,214.9 1560.3,215 1564.2,215 1568.1,214.9 1572,214.8 1575.9,215 1579.8,215 1583.7,215.1 1587.6,214.9 1591.5,215 1595.4,214.9 1599.2,215 1603.1,214.8 1607,215.2 1610.9,215 1614.8,214.9 1618.7,215 1622.6,215.1 1626.5,215 1630.4,215.1 1634.3,215 1638.2,214.7 1642.1,214.9 1646,215.1 1649.9,215.1 1653.8,215 1657.7,214.9 1661.6,215.1 1665.5,215 1669.4,214.9 1673.3,214.9 1677.2,215 1681.1,215.1 1684.9,215.1 1688.8,215 1692.7,215.2 1696.6,214.9 1700.5,215 1704.4,214.9 1708.3,214.8 1712.2,214.9 1716.1,215.1 1720,214.9 1723.9,214.9 1727.8,215.1 1731.7,215.1 1735.6,215 1739.5,215.1 1743.4,214.8 1747.3,215.2 1751.2,215.1 1755.1,215 1759,215 1762.9,215 1766.7,215 1770.6,215 1774.5,214.9 1778.4,215.2 1782.3,215 1786.2,215 1790.1,215 1794,215 1794,215.5 1256.5,215.5" fill="#6ED0E0" fill-opacity="0.1" stroke="none"/>
<polyline points="1256.5,214.9 1260.4,214.9 1264.2,214.9 1268.1,214.8 1272,215.1 1275.9,214.9 1279.8,215 1283.7,214.8 1287.6,214.8 1291.5,215.2 1295.4,215.1 1299.3,214.9 1303.2,214.9 1307.1,214.9 1311,215 1314.9,214.9 1318.8,214.9 1322.7,215 1326.6,214.9 1330.5,215.2 1334.4,214.9 1338.3,215.1 1342.2,214.9 1346.1,215 1349.9,215.1 1353.8,214.9 1357.7,215.1 1361.6,215.1 1365.5,215.1 1369.4,215 1373.3,214.9 1377.2,214.9 1381.1,215 1385,214.9 1388.9,215 1392.8,215 1396.7,214.9 1400.6,214.9 1404.5,215 1408.4,215 1412.3,215 1416.2,215 1420.1,215.1 1424,214.9 1427.9,215 1431.7,214.9 1435.6,215.1 1439.5,214.9 1443.4,214.9 1447.3,215 1451.2,214.8 1455.1,214.9 1459,214.8 1462.9,214.9 1466.8,215 1470.7,215 1474.6,214.9 1478.5,215 1482.4,215 1486.3,215 1490.2,215.2 1494.1,215 1498,215.2 1501.9,214.9 1505.8,215 1509.7,215 1513.6,215 1517.4,215 1521.3,215.1 1525.2,215.1 1529.1,215.1 1533,215.2 1536.9,215.1 1540.8,214.8 1544.7,215.1 1548.6,214.9 1552.5,215.1 1556.4,214.9 1560.3,215 1564.2,215 1568.1,214.9 1572,214.8 1575.9,215 1579.8,215 1583.7,215.1 1587.6,214.9 1591.5,215 1595.4,214.9 1599.2,215 1603.1,214.8 1607,215.2 1610.9,215 1614.8,214.9 1618.7,215 1622.6,215.1 1626.5,215 1630.4,215.1 1634.3,215 1638.2,214.7 1642.1,214.9 1646,215.1 1649.9,215.1 1653.8,215 1657.7,214.9 1661.6,215.1 1665.5,215 1669.4,214.9 1673.3,214.9 1677.2,215 1681.1,215.1 1684.9,215.1 1688.8,215 1692.7,215.2 1696.6,214.9 1700.5,215 1704.4,214.9 1708.3,214.8 1712.2,214.9 1716.1,215.1 1720,214.9 1723.9,214.9 1727.8,215.1 1731.7,215.1 1735.6,215 1739.5,215.1 1743.4,214.8 1747.3,215.2 1751.2,215.1 1755.1,215 1759,215 1762.9,215 1766.7,215 1770.6,215 1774.5,214.9 1778.4,215.2 1782.3,215 1786.2,215 1790.1,215 1794,215" stroke="#6ED0E0"/>
<polygon points="1256.5,215.5 1260.4,215.5 1264.2,215.5 1268.1,215.5 1272,215.5 1275.9,215.5 1279.8,215.4 1283.7,215.5 1287.6,215.5 1291.5,215.4 1295.4,215.5 1299.3,215.5 1303.2,215.5 1307.1,215.5 1311,215.5 1314.9,215.5 1318.8,215.5 1322.7,215.5 1326.6,215.5 1330.5,215.5 1334.4,215.5 1338.3,215.5 1342.2,215.5 1346.1,215.5 1349.9,215.5 1353.8,215.5 1357.7,215.5 1361.6,215.5 1365.5,215.5 1369.4,215.5 1373.3,215.5 1377.2,215.5 1381.1,215.5 1385,215.5 1388.9,215.5 1392.8,215.5 1396.7,215.5 1400.6,215.5 1404.5,215.5 1408.4,215.5 1412.3,215.5 1416.2,215.5 1420.1,215.5 1424,215.5 1427.9,215.5 1431.7,215.5 1435.6,215.5 1439.5,215.5 1443.4,215.5 1447.3,215.5 1451.2,215.5 1455.1,215.5 1459,215.5 1462.9,215.4 1466.8,215.5 1470.7,215.5 1474.6,215.5 1478.5,215.5 1482.4,215.5 1486.3,215.5 1490.2,215.5 1494.1,215.5 1498,215.5 1501.9,215.5 1505.8,215.4 1509.7,215.5 1513.6,215.5 1517.4,215.5 1521.3,215.5 1525.2,215.5 1529.1,215.5 1533,215.5 1536.9,215.5 1540.8,215.5 1544.7,215.5 1548.6,215.5 1552.5,215.5 1556.4,215.5 1560.3,215.5 1564.2,215.5 1568.1,215.5 1572,215.5 1575.9,215.5 1579.8,215.5 1583.7,215.5 1587.6,215.5 1591.5,215.5 1595.4,215.5 1599.2,215.5 1603.1,215.5 1607,215.5 1610.9,215.5 1614.8,215.5 1618.7,215.5 1622.6,215.5 1626.5,215.5 1630.4,215.5 1634.3,215.5 1638.2,215.5 1642.1,215.5 1646,215.5 1649.9,215.5 1653.8,215.5 1657.7,215.5 1661.6,215.5 1665.5,215.5 1669.4,215.5 1673.3,215.5 1677.2,215.5 1681.1,215.5 1684.9,215.5 1688.8,215.5 1692.7,215.5 1696.6,215.5 1700.5,215.5 1704.4,215.5 1708.3,215.5 1712.2,215.5 1716.1,215.5 1720,215.5 1723.9,215.5 1727.8,215.5 1731.7,215.5 1735.6,215.5 1739.5,215.5 1743.4,215.5 1747.3,215.5 1751.2,215.5 1755.1,215.5 1759,215.5 1762.9,215.5 1766.7,215.5 1770.6,215.5 1774.5,215.5 1778.4,215.5 1782.3,215.5 1786.2,215.5 1790.1,215.5 1794,215.5 1794,215.5 1256.5,215.5" fill="#EF843C" fill-opacity="0.1" stroke="none"/>
<polyline points="1256.5,215.5 1260.4,215.5 1264.2,215.5 1268.1,215.5 1272,215.5 1275.9,215.5 1279.8,215.4 1283.7,215.5 1287.6,215.5 1291.5,215.4 1295.4,215.5 1299.3,215.5 1303.2,215.5 1307.1,215.5 1311,215.5 1314.9,215.5 1318.8,215.5 1322.7,215.5 1326.6,215.5 1330.5,215.5 1334.4,215.5 1338.3,215.5 1342.2,215.5 1346.1,215.5 1349.9,215.5 1353.8,215.5 1357.7,215.5 1361.6,215.5 1365.5,215.5 1369.4,215.5 1373.3,215.5 1377.2,215.5 1381.1,215.5 1385,215.5 1388.9,215.5 1392.8,215.5 1396.7,215.5 1400.6,215.5 1404.5,215.5 1408.4,215.5 1412.3,215.5 1416.2,215.5 1420.1,215.5 1424,215.5 1427.9,215.5 1431.7,215.5 1435.6,215.5 1439.5,215.5 1443.4,215.5 1447.3,215.5 1451.2,215.5 1455.1,215.5 1459,215.5 1462.9,215.4 1466.8,215.5 1470.7,215.5 1474.6,215.5 1478.5,215.5 1482.4,215.5 1486.3,215.5 1490.2,215.5 1494.1,215.5 1498,215.5 1501.9,215.5 1505.8,215.4 1509.7,215.5 1513.6,215.5 1517.4,215.5 1521.3,215.5 1525.2,215.5 1529.1,215.5 1533,215.5 1536.9,215.5 1540.8,215.5 1544.7,215.5 1548.6,215.5 1552.5,215.5 1556.4,215.5 1560.3,215.5 1564.2,215.5 1568.1,215.5 1572,215.5 1575.9,215.5 1579.8,215.5 1583.7,215.5 1587.6,215.5 1591.5,215.5 1595.4,215.5 1599.2,215.5 1603.1,215.5 1607,215.5 1610.9,215.5 1614.8,215.5 1618.7,215.5 1622.6,215.5 1626.5,215.5 1630.4,215.5 1634.3,215.5 1638.2,215.5 1642.1,215.5 1646,215.5 1649.9,215.5 1653.8,215.5 1657.7,215.5 1661.6,215.5 1665.5,215.5 1669.4,215.5 1673.3,215.5 1677.2,215.5 1681.1,215.5 1684.9,215.5 1688.8,215.5 1692.7,215.5 1696.6,215.5 1700.5,215.5 1704.4,215.5 1708.3,215.5 1712.2,215.5 1716.1,215.5 1720,215.5 1723.9,215.5 1727.8,215.5 1731.7,215.5 1735.6,215.5 1739.5,215.5 1743.4,215.5 1747.3,215.5 1751.2,215.5 1755.1,215.5 1759,215.5 1762.9,215.5 1766.7,215.5 1770.6,215.5 1774.5,215.5 1778.4,215.5 1782.3,215.5 1786.2,215.5 1790.1,215.5 1794,215.5" stroke="#EF843C"/>
<polygon points="1256.5,214.5 1260.4,214.5 1264.2,213.2 1268.1,212 1272,213.6 1275.9,214.5 1279.8,213.8 1283.7,214.6 1287.6,214.6 1291.5,213.7 1295.4,214.6 1299.3,214.5 1303.2,213.6 1307.1,214.6 1311,214.6 1314.9,213.7 1318.8,214.5 1322.7,214.6 1326.6,213.5 1330.5,214.6 1334.4,214.6 1338.3,213.7 1342.2,214.6 1346.1,214.5 1349.9,213.8 1353.8,214.5 1357.7,214.4 1361.6,213.8 1365.5,214.5 1369.4,214.6 1373.3,213.8 1377.2,214.6 1381.1,214.6 1385,213.8 1388.9,214.5 1392.8,214.6 1396.7,213.7 1400.6,214.6 1404.5,214.6 1408.4,213.8 1412.3,214.3 1416.2,214.6 1420.1,213.6 1424,214.7 1427.9,214.6 1431.7,213.7 1435.6,214.5 1439.5,214.5 1443.4,213.8 1447.3,214.6 1451.2,214.6 1455.1,213.8 1459,214.6 1462.9,214.5 1466.8,213.8 1470.7,214.5 1474.6,214.5 1478.5,213.8 1482.4,214.5 1486.3,214.5 1490.2,213.6 1494.1,214.5 1498,214.6 1501.9,213.7 1505.8,214.6 1509.7,214.4 1513.6,213.7 1517.4,214.6 1521.3,214.6 1525.2,213.8 1529.1,214.6 1533,214.6 1536.9,213.8 1540.8,214.5 1544.7,214.4 1548.6,213.8 1552.5,214.5 1556.4,214.6 1560.3,213.7 1564.2,214.7 1568.1,214.6 1572,213.6 1575.9,214.5 1579.8,214.6 1583.7,213.7 1587.6,214.6 1591.5,214.3 1595.4,213.7 1599.2,214.6 1603.1,214.5 1607,213.8 1610.9,214.6 1614.8,214.5 1618.7,213.6 1622.6,214.4 1626.5,214.7 1630.4,213.8 1634.3,214.5 1638.2,214.5 1642.1,213.5 1646,214.6 1649.9,214.5 1653.8,213.8 1657.7,214.5 1661.6,214.5 1665.5,213.7 1669.4,214.6 1673.3,214.6 1677.2,213.7 1681.1,214.6 1684.9,214.6 1688.8,213.7 1692.7,214.5 1696.6,214.7 1700.5,213.7 1704.4,214.5 1708.3,214.5 1712.2,213.8 1716.1,214.4 1720,214.5 1723.9,213.6 1727.8,214.6 1731.7,214.6 1735.6,213.6 1739.5,214.5 1743.4,214.6 1747.3,213.7 1751.2,214.6 1755.1,214.6 1759,213.6 1762.9,214.6 1766.7,214.5 1770.6,213.7 1774.5,214.6 1778.4,214.6 1782.3,213.6 1786.2,214.5 1790.1,214.6 1794,213.8 1794,215.5 1256.5,215.5" fill="#E24D42" fill-opacity="0.1" stroke="none"/>
<polyline points="1256.5,214.5 1260.4,214.5 1264.2,213.2 1268.1,212 1272,213.6 1275.9,214.5 1279.8,213.8 1283.7,214.6 1287.6,214.6 1291.5,213.7 1295.4,214.6 1299.3,214.5 1303.2,213.6 1307.1,214.6 1311,214.6 1314.9,213.7 1318.8,214.5 1322.7,214.6 1326.6,213.5 1330.5,214.6 1334.4,214.6 1338.3,213.7 1342.2,214.6 1346.1,214.5 1349.9,213.8 1353.8,214.5 1357.7,214.4 1361.6,213.8 1365.5,214.5 1369.4,214.6 1373.3,213.8 1377.2,214.6 1381.1,214.6 1385,213.8 1388.9,214.5 1392.8,214.6 1396.7,213.7 1400.6,214.6 1404.5,214.6 1408.4,213.8 1412.3,214.3 1416.2,214.6 1420.1,213.6 1424,214.7 1427.9,214.6 1431.7,213.7 1435.6,214.5 1439.5,214.5 1443.4,213.8 1447.3,214.6 1451.2,214.6 1455.1,213.8 1459,214.6 1462.9,214.5 1466.8,213.8 1470.7,214.5 1474.6,214.5 1478.5,213.8 1482.4,214.5 1486.3,214.5 1490.2,213.6 1494.1,214.5 1498,214.6 1501.9,213.7 1505.8,214.6 1509.7,214.4 1513.6,213.7 1517.4,214.6 1521.3,214.6 1525.2,213.8 1529.1,214.6 1533,214.6 1536.9,213.8 1540.8,214.5 1544.7,214.4 1548.6,213.8 1552.5,214.5 1556.4,214.6 1560.3,213.7 1564.2,214.7 1568.1,214.6 1572,213.6 1575.9,214.5 1579.8,214.6 1583.7,213.7 1587.6,214.6 1591.5,214.3 1595.4,213.7 1599.2,214.6 1603.1,214.5 1607,213.8 1610.9,214.6 1614.8,214.5 1618.7,213.6 1622.6,214.4 1626.5,214.7 1630.4,213.8 1634.3,214.5 1638.2,214.5 1642.1,213.5 1646,214.6 1649.9,214.5 1653.8,213.8 1657.7,214.5 1661.6,214.5 1665.5,213.7 1669.4,214.6 1673.3,214.6 1677.2,213.7 1681.1,214.6 1684.9,214.6 1688.8,213.7 1692.7,214.5 1696.6,214.7 1700.5,213.7 1704.4,214.5 1708.3,214.5 1712.2,213.8 1716.1,214.4 1720,214.5 1723.9,213.6 1727.8,214.6 1731.7,214.6 1735.6,213.6 1739.5,214.5 1743.4,214.6 1747.3,213.7 1751.2,214.6 1755.1,214.6 1759,213.6 1762.9,214.6 1766.7,214.5 1770.6,213.7 1774.5,214.6 1778.4,214.6 1782.3,213.6 1786.2,214.5 1790.1,214.6 1794,213.8" stroke="#E24D42" stroke-width="1.3" stroke-opacity="0.85"/>
<polygon points="1256.5,214.9 1260.4,214.9 1264.2,214.9 1268.1,214.9 1272,214.9 1275.9,214.9 1279.8,214.9 1283.7,215 1287.6,214.9 1291.5,214.9 1295.4,214.8 1299.3,215 1303.2,214.8 1307.1,214.9 1311,214.9 1314.9,214.8 1318.8,214.9 1322.7,214.9 1326.6,214.9 1330.5,214.9 1334.4,214.9 1338.3,215 1342.2,214.8 1346.1,214.9 1349.9,214.8 1353.8,214.9 1357.7,214.8 1361.6,214.8 1365.5,214.8 1369.4,214.9 1373.3,214.9 1377.2,214.9 1381.1,215 1385,214.9 1388.9,214.9 1392.8,214.9 1396.7,214.9 1400.6,214.9 1404.5,214.8 1408.4,214.8 1412.3,214.9 1416.2,214.8 1420.1,214.9 1424,214.9 1427.9,214.9 1431.7,214.9 1435.6,214.9 1439.5,214.9 1443.4,214.9 1447.3,214.8 1451.2,214.9 1455.1,214.9 1459,214.9 1462.9,214.9 1466.8,214.9 1470.7,214.8 1474.6,214.8 1478.5,214.9 1482.4,214.9 1486.3,214.9 1490.2,214.9 1494.1,214.9 1498,214.9 1501.9,214.9 1505.8,214.9 1509.7,214.9 1513.6,214.9 1517.4,214.9 1521.3,214.9 1525.2,214.9 1529.1,214.9 1533,214.9 1536.9,214.9 1540.8,214.9 1544.7,214.9 1548.6,214.9 1552.5,214.9 1556.4,214.9 1560.3,214.8 1564.2,214.9 1568.1,214.9 1572,214.8 1575.9,214.9 1579.8,214.8 1583.7,214.9 1587.6,215 1591.5,214.8 1595.4,214.8 1599.2,214.9 1603.1,214.9 1607,214.9 1610.9,214.9 1614.8,214.9 1618.7,214.9 1622.6,214.9 1626.5,214.9 1630.4,214.8 1634.3,214.9 1638.2,214.8 1642.1,214.9 1646,214.9 1649.9,214.9 1653.8,214.9 1657.7,214.8 1661.6,214.9 1665.5,214.9 1669.4,214.9 1673.3,214.9 1677.2,214.9 1681.1,214.9 1684.9,214.9 1688.8,214.9 1692.7,214.9 1696.6,214.9 1700.5,214.9 1704.4,214.9 1708.3,214.9 1712.2,214.9 1716.1,214.8 1720,214.9 1723.9,214.9 1727.8,214.9 1731.7,214.9 1735.6,214.9 1739.5,214.9 1743.4,214.9 1747.3,214.9 1751.2,214.9 1755.1,214.9 1759,214.9 1762.9,214.9 1766.7,214.8 1770.6,214.9 1774.5,214.8 1778.4,214.9 1782.3,214.8 1786.2,214.9 1790.1,214.9 1794,214.8 1794,215.5 1256.5,215.5" fill="#1F78C1" fill-opacity="0.1" stroke="none"/>
<polyline points="1256.5,214.9 1260.4,214.9 1264.2,214.9 1268.1,214.9 1272,214.9 1275.9,214.9 1279.8,214.9 1283.7,215 1287.6,214.9 1291.5,214.9 1295.4,214.8 1299.3,215 1303.2,214.8 1307.1,214.9 1311,214.9 1314.9,214.8 1318.8,214.9 1322.7,214.9 1326.6,214.9 1330.5,214.9 1334.4,214.9 1338.3,215 1342.2,214.8 1346.1,214.9 1349.9,214.8 1353.8,214.9 1357.7,214.8 1361.6,214.8 1365.5,214.8 1369.4,214.9 1373.3,214.9 1377.2,214.9 1381.1,215 1385,214.9 1388.9,214.9 1392.8,214.9 1396.7,214.9 1400.6,214.9 1404.5,214.8 1408.4,214.8 1412.3,214.9 1416.2,214.8 1420.1,214.9 1424,214.9 1427.9,214.9 1431.7,214.9 1435.6,214.9 1439.5,214.9 1443.4,214.9 1447.3,214.8 1451.2,214.9 1455.1,214.9 1459,214.9 1462.9,214.9 1466.8,214.9 1470.7,214.8 1474.6,214.8 1478.5,214.9 1482.4,214.9 1486.3,214.9 1490.2,214.9 1494.1,214.9 1498,214.9 1501.9,214.9 1505.8,214.9 1509.7,214.9 1513.6,214.9 1517.4,214.9 1521.3,214.9 1525.2,214.9 1529.1,214.9 1533,214.9 1536.9,214.9 1540.8,214.9 1544.7,214.9 1548.6,214.9 1552.5,214.9 1556.4,214.9 1560.3,214.8 1564.2,214.9 1568.1,214.9 1572,214.8 1575.9,214.9 1579.8,214.8 1583.7,214.9 1587.6,215 1591.5,214.8 1595.4,214.8 1599.2,214.9 1603.1,214.9 1607,214.9 1610.9,214.9 1614.8,214.9 1618.7,214.9 1622.6,214.9 1626.5,214.9 1630.4,214.8 1634.3,214.9 1638.2,214.8 1642.1,214.9 1646,214.9 1649.9,214.9 1653.8,214.9 1657.7,214.8 1661.6,214.9 1665.5,214.9 1669.4,214.9 1673.3,214.9 1677.2,214.9 1681.1,214.9 1684.9,214.9 1688.8,214.9 1692.7,214.9 1696.6,214.9 1700.5,214.9 1704.4,214.9 1708.3,214.9 1712.2,214.9 1716.1,214.8 1720,214.9 1723.9,214.9 1727.8,214.9 1731.7,214.9 1735.6,214.9 1739.5,214.9 1743.4,214.9 1747.3,214.9 1751.2,214.9 1755.1,214.9 1759,214.9 1762.9,214.9 1766.7,214.8 1770.6,214.9 1774.5,214.8 1778.4,214.9 1782.3,214.8 1786.2,214.9 1790.1,214.9 1794,214.8" stroke="#1F78C1" stroke-width="2" stroke-opacity="0.8"/>
<polygon points="1256.5,107.6 1260.4,106 1264.2,104.1 1268.1,97 1272,98.9 1275.9,78.5 1279.8,80 1283.7,76.5 1287.6,83.4 1291.5,75.6 1295.4,76.1 1299.3,77.6 1303.2,79.1 1307.1,73.7 1311,85.7 1314.9,74.2 1318.8,75.3 1322.7,75 1326.6,74.5 1330.5,80 1334.4,77.9 1338.3,73 1342.2,74.1 1346.1,75.2 1349.9,84.5 1353.8,73.4 1357.7,69.9 1361.6,70.7 1365.5,74.9 1369.4,84.5 1373.3,71 1377.2,76.8 1381.1,89.7 1385,73.9 1388.9,84 1392.8,82.9 1396.7,79.3 1400.6,68.9 1404.5,77.8 1408.4,74.3 1412.3,66.2 1416.2,67 1420.1,76.2 1424,76.9 1427.9,82.4 1431.7,78.2 1435.6,73.8 1439.5,73.9 1443.4,74.9 1447.3,71.5 1451.2,78.3 1455.1,75.5 1459,72.4 1462.9,72.9 1466.8,71 1470.7,73.6 1474.6,76.3 1478.5,73.6 1482.4,78.9 1486.3,81.3 1490.2,72.7 1494.1,75.1 1498,73.6 1501.9,81.4 1505.8,76.2 1509.7,77 1513.6,78 1517.4,83.4 1521.3,75.9 1525.2,71.1 1529.1,73 1533,76.8 1536.9,74.5 1540.8,71.5 1544.7,85 1548.6,74.8 1552.5,73.2 1556.4,72.9 1560.3,70.9 1564.2,72 1568.1,73.5 1572,73.5 1575.9,72.5 1579.8,75.1 1583.7,74.1 1587.6,72.2 1591.5,70.1 1595.4,74.2 1599.2,73.9 1603.1,73.4 1607,71.2 1610.9,73.8 1614.8,70.8 1618.7,75.5 1622.6,74 1626.5,73.9 1630.4,72 1634.3,71.5 1638.2,76.4 1642.1,75.2 1646,72.7 1649.9,74.6 1653.8,76.2 1657.7,71.2 1661.6,72.3 1665.5,72.2 1669.4,74 1673.3,71.1 1677.2,73.5 1681.1,70.9 1684.9,74.7 1688.8,74.6 1692.7,72.5 1696.6,74.2 1700.5,71.5 1704.4,72.3 1708.3,74.5 1712.2,72.6 1716.1,73.3 1720,70.9 1723.9,73.8 1727.8,73.4 1731.7,70.2 1735.6,68.1 1739.5,68.6 1743.4,72.3 1747.3,71.9 1751.2,69.4 1755.1,72.5 1759,74.1 1762.9,72 1766.7,71.3 1770.6,73.7 1774.5,75.3 1778.4,74.8 1782.3,70.7 1786.2,73.4 1790.1,72.2 1794,71.5 1794,215.5 1256.5,215.5" fill="#BA43A9" fill-opacity="0.1" stroke="none"/>
<polyline points="1256.5,107.6 1260.4,106 1264.2,104.1 1268.1,97 1272,98.9 1275.9,78.5 1279.8,80 1283.7,76.5 1287.6,83.4 1291.5,75.6 1295.4,76.1 1299.3,77.6 1303.2,79.1 1307.1,73.7 1311,85.7 1314.9,74.2 1318.8,75.3 1322.7,75 1326.6,74.5 1330.5,80 1334.4,77.9 1338.3,73 1342.2,74.1 1346.1,75.2 1349.9,84.5 1353.8,73.4 1357.7,69.9 1361.6,70.7 1365.5,74.9 1369.4,84.5 1373.3,71 1377.2,76.8 1381.1,89.7 1385,73.9 1388.9,84 1392.8,82.9 1396.7,79.3 1400.6,68.9 1404.5,77.8 1408.4,74.3 1412.3,66.2 1416.2,67 1420.1,76.2 1424,76.9 1427.9,82.4 1431.7,78.2 1435.6,73.8 1439.5,73.9 1443.4,74.9 1447.3,71.5 1451.2,78.3 1455.1,75.5 1459,72.4 1462.9,72.9 1466.8,71 1470.7,73.6 1474.6,76.3 1478.5,73.6 1482.4,78.9 1486.3,81.3 1490.2,72.7 1494.1,75.1 1498,73.6 1501.9,81.4 1505.8,76.2 1509.7,77 1513.6,78 1517.4,83.4 1521.3,75.9 1525.2,71.1 1529.1,73 1533,76.8 1536.9,74.5 1540.8,71.5 1544.7,85 1548.6,74.8 1552.5,73.2 1556.4,72.9 1560.3,70.9 1564.2,72 1568.1,73.5 1572,73.5 1575.9,72.5 1579.8,75.1 1583.7,74.1 1587.6,72.2 1591.5,70.1 1595.4,74.2 1599.2,73.9 1603.1,73.4 1607,71.2 1610.9,73.8 1614.8,70.8 1618.7,75.5 1622.6,74 1626.5,73.9 1630.4,72 1634.3,71.5 1638.2,76.4 1642.1,75.2 1646,72.7 1649.9,74.6 1653.8,76.2 1657.7,71.2 1661.6,72.3 1665.5,72.2 1669.4,74 1673.3,71.1 1677.2,73.5 1681.1,70.9 1684.9,74.7 1688.8,74.6 1692.7,72.5 1696.6,74.2 1700.5,71.5 1704.4,72.3 1708.3,74.5 1712.2,72.6 1716.1,73.3 1720,70.9 1723.9,73.8 1727.8,73.4 1731.7,70.2 1735.6,68.1 1739.5,68.6 1743.4,72.3 1747.3,71.9 1751.2,69.4 1755.1,72.5 1759,74.1 1762.9,72 1766.7,71.3 1770.6,73.7 1774.5,75.3 1778.4,74.8 1782.3,70.7 1786.2,73.4 1790.1,72.2 1794,71.5" stroke="#BA43A9"/>
</g>
<rect x="1238" y="254" width="14" height="4" rx="1" fill="#7EB26D"/>
<text x="1266.1" y="258" textLength="74.9" lengthAdjust="spacingAndGlyphs">cpu.object_se</text>
<text x="1353.5" y="258" textLength="55.5" lengthAdjust="spacingAndGlyphs">Min: 127%</text>
<text x="1415.9" y="258" textLength="56" lengthAdjust="spacingAndGlyphs">Avg: 163%</text>
<rect x="1482" y="254" width="14" height="4" rx="1" fill="#EAB839"/>
<text x="1509.9" y="258" textLength="76.2" lengthAdjust="spacingAndGlyphs">cpu.object_au</text>
<text x="1598.2" y="258" textLength="58.5" lengthAdjust="spacingAndGlyphs">Min: 7.53%</text>
<text x="1663.6" y="258" textLength="59" lengthAdjust="spacingAndGlyphs">Avg: 8.05%</text>
<rect x="1238" y="275" width="14" height="4" rx="1" fill="#6ED0E0"/>
<text x="1266.1" y="279" textLength="72.8" lengthAdjust="spacingAndGlyphs">cpu.object_re</text>
<text x="1351.4" y="279" textLength="65.4" lengthAdjust="spacingAndGlyphs">Min: 0.648%</text>
<text x="1423.8" y="279" textLength="59" lengthAdjust="spacingAndGlyphs">Avg: 1.62%</text>
<rect x="1493" y="275" width="14" height="4" rx="1" fill="#EF843C"/>
<text x="1520.9" y="279" textLength="76.3" lengthAdjust="spacingAndGlyphs">cpu.object_up</text>
<text x="1609.3" y="279" textLength="41.7" lengthAdjust="spacingAndGlyphs">Min: 0%</text>
<text x="1657.9" y="279" textLength="72.8" lengthAdjust="spacingAndGlyphs">Avg: 0.0445%</text>
<rect x="1238" y="296" width="14" height="4" rx="1" fill="#E24D42"/>
<text x="1266.1" y="300" textLength="92.5" lengthAdjust="spacingAndGlyphs">cpu.container_se</text>
<text x="1371.1" y="300" textLength="65.4" lengthAdjust="spacingAndGlyphs">Min: 0.928%</text>
<text x="1443.6" y="300" textLength="59" lengthAdjust="spacingAndGlyphs">Avg: 3.15%</text>
<rect x="1513" y="296" width="14" height="4" rx="1" fill="#1F78C1"/>
<text x="1540.9" y="300" textLength="85.4" lengthAdjust="spacingAndGlyphs">cpu.account_se</text>
<text x="1638.4" y="300" textLength="65.4" lengthAdjust="spacingAndGlyphs">Min: 0.935%</text>
<text x="1710.8" y="300" textLength="59" lengthAdjust="spacingAndGlyphs">Avg: 1.30%</text>
<rect x="1238" y="317" width="14" height="4" rx="1" fill="#BA43A9"/>
<text x="1266.1" y="321" textLength="71.4" lengthAdjust="spacingAndGlyphs">cpu.proxy_se</text>
<text x="1349.4" y="321" textLength="55.5" lengthAdjust="spacingAndGlyphs">Min: 337%</text>
<text x="1411.8" y="321" textLength="56" lengthAdjust="spacingAndGlyphs">Avg: 437%</text>
<rect x="-6.5" y="345.5" width="604" height="257" rx="2.5" fill="#181b1f" stroke="#25272c"/>
<text x="295.5" y="366.4" text-anchor="middle" font-size="13.4" textLength="93.9" lengthAdjust="spacingAndGlyphs" stroke="#ccccdc" stroke-width="0.45">Disk Utilization</text>
<rect x="131" y="396" width="1" height="106" fill="rgba(255,255,255,0.165)"/>
<rect x="248" y="396" width="1" height="106" fill="rgba(255,255,255,0.165)"/>
<rect x="365" y="396" width="1" height="106" fill="rgba(255,255,255,0.165)"/>
<rect x="482" y="396" width="1" height="106" fill="rgba(255,255,255,0.165)"/>
<rect x="37" y="405" width="536" height="1" fill="rgba(255,255,255,0.165)"/>
<rect x="37" y="453" width="536" height="1" fill="rgba(255,255,255,0.165)"/>
<rect x="37" y="501" width="536" height="1" fill="rgba(255,255,255,0.165)"/>
<text x="31.6" y="409.5" text-anchor="end" font-size="11.8" textLength="29" lengthAdjust="spacingAndGlyphs">100%</text>
<text x="31.6" y="457.5" text-anchor="end" font-size="11.8" textLength="22.3" lengthAdjust="spacingAndGlyphs">50%</text>
<text x="31.6" y="505.5" text-anchor="end" font-size="11.8" textLength="15.5" lengthAdjust="spacingAndGlyphs">0%</text>
<text x="131.5" y="520.1" text-anchor="middle" font-size="11.8" textLength="29.9" lengthAdjust="spacingAndGlyphs">14:20</text>
<text x="248.5" y="520.1" text-anchor="middle" font-size="11.8" textLength="29.9" lengthAdjust="spacingAndGlyphs">14:25</text>
<text x="365.5" y="520.1" text-anchor="middle" font-size="11.8" textLength="29.9" lengthAdjust="spacingAndGlyphs">14:30</text>
<text x="482.5" y="520.1" text-anchor="middle" font-size="11.8" textLength="29.9" lengthAdjust="spacingAndGlyphs">14:35</text>
<clipPath id="c4"><rect x="37" y="395" width="537" height="107"/></clipPath>
<g clip-path="url(#c4)" fill="none" stroke-width="1" stroke-linejoin="round">
<polygon points="30.5,500.8 34.4,500.9 38.2,500.5 42.1,500.9 46,500.6 49.9,500.9 53.8,500.8 57.7,501.3 61.6,501 65.5,501 69.4,501 73.3,501.5 77.2,500.8 81.1,501.1 85,501.1 88.9,501 92.8,501 96.7,500.9 100.6,501.3 104.5,501.2 108.4,500.9 112.3,500.9 116.2,501.1 120.1,501.1 123.9,501.2 127.8,501 131.7,500.7 135.6,501.2 139.5,500.6 143.4,500.8 147.3,501.1 151.2,500.8 155.1,501.3 159,501.4 162.9,501.3 166.8,501.1 170.7,501.1 174.6,501.1 178.5,500.9 182.4,501.5 186.3,500.9 190.2,501.3 194.1,501.1 198,501.1 201.9,501.2 205.7,501.3 209.6,501.2 213.5,501 217.4,500.8 221.3,500.8 225.2,501.2 229.1,501.2 233,501.2 236.9,500.9 240.8,501.5 244.7,500.7 248.6,501.1 252.5,501.2 256.4,500.9 260.3,500.7 264.2,500.9 268.1,500.7 272,500.9 275.9,500.7 279.8,500.7 283.7,501 287.6,500.6 291.4,500.9 295.3,501 299.2,501.2 303.1,501 307,500.8 310.9,501.3 314.8,500.8 318.7,500.9 322.6,500.9 326.5,501.5 330.4,501 334.3,500.8 338.2,501.2 342.1,501 346,501.5 349.9,500.8 353.8,501.1 357.7,500.8 361.6,501.4 365.5,500.8 369.4,501 373.2,500.8 377.1,501.2 381,501.1 384.9,500.4 388.8,501.2 392.7,501.1 396.6,501 400.5,501.2 404.4,500.7 408.3,500.6 412.2,501.1 416.1,501.4 420,500.7 423.9,500.7 427.8,500.8 431.7,500.7 435.6,501.2 439.5,501 443.4,501.3 447.3,501.3 451.2,500.7 455.1,501.1 458.9,500.4 462.8,501 466.7,501.1 470.6,500.8 474.5,500.5 478.4,500.9 482.3,501.3 486.2,500.9 490.1,500.6 494,501.1 497.9,501.2 501.8,500.7 505.7,500.9 509.6,501.2 513.5,501.1 517.4,501.2 521.3,500.9 525.2,500.9 529.1,500.7 533,500.8 536.9,501.3 540.7,500.9 544.6,500.8 548.5,500.9 552.4,500.7 556.3,501.1 560.2,501.2 564.1,500.7 568,501.2 568,501.5 30.5,501.5" fill="#7EB26D" fill-opacity="0.1" stroke="none"/>
<polyline points="30.5,500.8 34.4,500.9 38.2,500.5 42.1,500.9 46,500.6 49.9,500.9 53.8,500.8 57.7,501.3 61.6,501 65.5,501 69.4,501 73.3,501.5 77.2,500.8 81.1,501.1 85,501.1 88.9,501 92.8,501 96.7,500.9 100.6,501.3 104.5,501.2 108.4,500.9 112.3,500.9 116.2,501.1 120.1,501.1 123.9,501.2 127.8,501 131.7,500.7 135.6,501.2 139.5,500.6 143.4,500.8 147.3,501.1 151.2,500.8 155.1,501.3 159,501.4 162.9,501.3 166.8,501.1 170.7,501.1 174.6,501.1 178.5,500.9 182.4,501.5 186.3,500.9 190.2,501.3 194.1,501.1 198,501.1 201.9,501.2 205.7,501.3 209.6,501.2 213.5,501 217.4,500.8 221.3,500.8 225.2,501.2 229.1,501.2 233,501.2 236.9,500.9 240.8,501.5 244.7,500.7 248.6,501.1 252.5,501.2 256.4,500.9 260.3,500.7 264.2,500.9 268.1,500.7 272,500.9 275.9,500.7 279.8,500.7 283.7,501 287.6,500.6 291.4,500.9 295.3,501 299.2,501.2 303.1,501 307,500.8 310.9,501.3 314.8,500.8 318.7,500.9 322.6,500.9 326.5,501.5 330.4,501 334.3,500.8 338.2,501.2 342.1,501 346,501.5 349.9,500.8 353.8,501.1 357.7,500.8 361.6,501.4 365.5,500.8 369.4,501 373.2,500.8 377.1,501.2 381,501.1 384.9,500.4 388.8,501.2 392.7,501.1 396.6,501 400.5,501.2 404.4,500.7 408.3,500.6 412.2,501.1 416.1,501.4 420,500.7 423.9,500.7 427.8,500.8 431.7,500.7 435.6,501.2 439.5,501 443.4,501.3 447.3,501.3 451.2,500.7 455.1,501.1 458.9,500.4 462.8,501 466.7,501.1 470.6,500.8 474.5,500.5 478.4,500.9 482.3,501.3 486.2,500.9 490.1,500.6 494,501.1 497.9,501.2 501.8,500.7 505.7,500.9 509.6,501.2 513.5,501.1 517.4,501.2 521.3,500.9 525.2,500.9 529.1,500.7 533,500.8 536.9,501.3 540.7,500.9 544.6,500.8 548.5,500.9 552.4,500.7 556.3,501.1 560.2,501.2 564.1,500.7 568,501.2" stroke="#7EB26D"/>
<polygon points="30.5,438.2 34.4,437.2 38.2,432.4 42.1,434.4 46,428.6 49.9,422.9 53.8,426.7 57.7,420.6 61.6,424.3 65.5,423.5 69.4,425.3 73.3,424.9 77.2,424.5 81.1,422.9 85,422.8 88.9,425.4 92.8,420.6 96.7,424.2 100.6,424.6 104.5,421.4 108.4,422.4 112.3,425 116.2,420.4 120.1,423.6 123.9,420.4 127.8,423.3 131.7,419.5 135.6,423.1 139.5,420.9 143.4,423 147.3,421.3 151.2,423.8 155.1,422.3 159,419.4 162.9,422.3 166.8,422.3 170.7,419 174.6,421 178.5,424.5 182.4,420.8 186.3,425.3 190.2,420.2 194.1,420.5 198,425.1 201.9,423.7 205.7,422.9 209.6,422.8 213.5,423.3 217.4,422.2 221.3,426.7 225.2,422.5 229.1,423.2 233,422.1 236.9,421.8 240.8,425.2 244.7,421.6 248.6,422.2 252.5,423.1 256.4,424.9 260.3,424.6 264.2,422 268.1,424.6 272,421.3 275.9,420.7 279.8,421.5 283.7,420.2 287.6,422.6 291.4,424.1 295.3,420.9 299.2,422.4 303.1,420.6 307,423.5 310.9,421.3 314.8,420.6 318.7,421.6 322.6,421.5 326.5,421.2 330.4,421.8 334.3,422.2 338.2,419.6 342.1,423.1 346,419.8 349.9,422.3 353.8,420.9 357.7,423.1 361.6,422.9 365.5,419.7 369.4,424 373.2,424.5 377.1,423.8 381,423.3 384.9,420.2 388.8,422.4 392.7,421.2 396.6,424 400.5,422.6 404.4,421.3 408.3,420.5 412.2,423.7 416.1,421 420,422.5 423.9,424.3 427.8,422.1 431.7,423.1 435.6,426.1 439.5,421.6 443.4,421.2 447.3,424.3 451.2,424.9 455.1,420.9 458.9,422.7 462.8,421.5 466.7,420.9 470.6,423.2 474.5,421.8 478.4,422.9 482.3,422.5 486.2,423.1 490.1,422.5 494,420.1 497.9,422.2 501.8,423.1 505.7,423 509.6,422.5 513.5,423.7 517.4,422.9 521.3,423.1 525.2,423.5 529.1,422.2 533,423.7 536.9,419.5 540.7,421.1 544.6,422.3 548.5,422.9 552.4,418.3 556.3,422.3 560.2,423 564.1,422.4 568,422.2 568,501.5 30.5,501.5" fill="#EAB839" fill-opacity="0.1" stroke="none"/>
<polyline points="30.5,438.2 34.4,437.2 38.2,432.4 42.1,434.4 46,428.6 49.9,422.9 53.8,426.7 57.7,420.6 61.6,424.3 65.5,423.5 69.4,425.3 73.3,424.9 77.2,424.5 81.1,422.9 85,422.8 88.9,425.4 92.8,420.6 96.7,424.2 100.6,424.6 104.5,421.4 108.4,422.4 112.3,425 116.2,420.4 120.1,423.6 123.9,420.4 127.8,423.3 131.7,419.5 135.6,423.1 139.5,420.9 143.4,423 147.3,421.3 151.2,423.8 155.1,422.3 159,419.4 162.9,422.3 166.8,422.3 170.7,419 174.6,421 178.5,424.5 182.4,420.8 186.3,425.3 190.2,420.2 194.1,420.5 198,425.1 201.9,423.7 205.7,422.9 209.6,422.8 213.5,423.3 217.4,422.2 221.3,426.7 225.2,422.5 229.1,423.2 233,422.1 236.9,421.8 240.8,425.2 244.7,421.6 248.6,422.2 252.5,423.1 256.4,424.9 260.3,424.6 264.2,422 268.1,424.6 272,421.3 275.9,420.7 279.8,421.5 283.7,420.2 287.6,422.6 291.4,424.1 295.3,420.9 299.2,422.4 303.1,420.6 307,423.5 310.9,421.3 314.8,420.6 318.7,421.6 322.6,421.5 326.5,421.2 330.4,421.8 334.3,422.2 338.2,419.6 342.1,423.1 346,419.8 349.9,422.3 353.8,420.9 357.7,423.1 361.6,422.9 365.5,419.7 369.4,424 373.2,424.5 377.1,423.8 381,423.3 384.9,420.2 388.8,422.4 392.7,421.2 396.6,424 400.5,422.6 404.4,421.3 408.3,420.5 412.2,423.7 416.1,421 420,422.5 423.9,424.3 427.8,422.1 431.7,423.1 435.6,426.1 439.5,421.6 443.4,421.2 447.3,424.3 451.2,424.9 455.1,420.9 458.9,422.7 462.8,421.5 466.7,420.9 470.6,423.2 474.5,421.8 478.4,422.9 482.3,422.5 486.2,423.1 490.1,422.5 494,420.1 497.9,422.2 501.8,423.1 505.7,423 509.6,422.5 513.5,423.7 517.4,422.9 521.3,423.1 525.2,423.5 529.1,422.2 533,423.7 536.9,419.5 540.7,421.1 544.6,422.3 548.5,422.9 552.4,418.3 556.3,422.3 560.2,423 564.1,422.4 568,422.2" stroke="#EAB839"/>
<polygon points="30.5,440.1 34.4,441.1 38.2,438.2 42.1,426.7 46,422.9 49.9,422.9 53.8,420.3 57.7,422.5 61.6,419.1 65.5,424.8 69.4,421.7 73.3,424.7 77.2,419.1 81.1,423 85,423.6 88.9,419.7 92.8,419.6 96.7,424.4 100.6,423.5 104.5,425.4 108.4,422.1 112.3,422.6 116.2,424.3 120.1,423.5 123.9,421.7 127.8,425.2 131.7,421.1 135.6,419.5 139.5,426.4 143.4,422.1 147.3,424.2 151.2,421.6 155.1,423.6 159,423.1 162.9,424.9 166.8,421.3 170.7,422.7 174.6,422.1 178.5,422.5 182.4,422.6 186.3,426.4 190.2,421.1 194.1,422.2 198,424.5 201.9,420.8 205.7,421 209.6,425 213.5,423.3 217.4,420.4 221.3,420.6 225.2,423.2 229.1,424.9 233,423 236.9,423.4 240.8,426.2 244.7,422.6 248.6,424.4 252.5,424.4 256.4,420.9 260.3,423.9 264.2,422.9 268.1,421.8 272,420 275.9,423.3 279.8,423.2 283.7,424.5 287.6,418.9 291.4,421 295.3,424.9 299.2,423.1 303.1,421.3 307,422.7 310.9,419.9 314.8,419.6 318.7,424 322.6,422.6 326.5,424.4 330.4,421.8 334.3,422.4 338.2,416.2 342.1,422.1 346,426.9 349.9,423.5 353.8,422.3 357.7,425.1 361.6,424 365.5,423.3 369.4,423.1 373.2,423 377.1,424.3 381,421.6 384.9,424.4 388.8,423.7 392.7,424.9 396.6,423.9 400.5,422.2 404.4,425 408.3,423.4 412.2,421.6 416.1,422.6 420,422.6 423.9,424.7 427.8,420 431.7,421.1 435.6,422.4 439.5,425.4 443.4,423.8 447.3,422.2 451.2,420.3 455.1,422.7 458.9,421.2 462.8,424.1 466.7,423.4 470.6,422.5 474.5,422.4 478.4,425.1 482.3,420.9 486.2,420.9 490.1,424.5 494,424.1 497.9,421.9 501.8,424 505.7,426.6 509.6,421.8 513.5,422.3 517.4,423 521.3,419.6 525.2,422.5 529.1,423.3 533,422.7 536.9,424.3 540.7,424.4 544.6,422.4 548.5,423.8 552.4,422.3 556.3,420.1 560.2,421.5 564.1,421.6 568,421.9 568,501.5 30.5,501.5" fill="#6ED0E0" fill-opacity="0.1" stroke="none"/>
<polyline points="30.5,440.1 34.4,441.1 38.2,438.2 42.1,426.7 46,422.9 49.9,422.9 53.8,420.3 57.7,422.5 61.6,419.1 65.5,424.8 69.4,421.7 73.3,424.7 77.2,419.1 81.1,423 85,423.6 88.9,419.7 92.8,419.6 96.7,424.4 100.6,423.5 104.5,425.4 108.4,422.1 112.3,422.6 116.2,424.3 120.1,423.5 123.9,421.7 127.8,425.2 131.7,421.1 135.6,419.5 139.5,426.4 143.4,422.1 147.3,424.2 151.2,421.6 155.1,423.6 159,423.1 162.9,424.9 166.8,421.3 170.7,422.7 174.6,422.1 178.5,422.5 182.4,422.6 186.3,426.4 190.2,421.1 194.1,422.2 198,424.5 201.9,420.8 205.7,421 209.6,425 213.5,423.3 217.4,420.4 221.3,420.6 225.2,423.2 229.1,424.9 233,423 236.9,423.4 240.8,426.2 244.7,422.6 248.6,424.4 252.5,424.4 256.4,420.9 260.3,423.9 264.2,422.9 268.1,421.8 272,420 275.9,423.3 279.8,423.2 283.7,424.5 287.6,418.9 291.4,421 295.3,424.9 299.2,423.1 303.1,421.3 307,422.7 310.9,419.9 314.8,419.6 318.7,424 322.6,422.6 326.5,424.4 330.4,421.8 334.3,422.4 338.2,416.2 342.1,422.1 346,426.9 349.9,423.5 353.8,422.3 357.7,425.1 361.6,424 365.5,423.3 369.4,423.1 373.2,423 377.1,424.3 381,421.6 384.9,424.4 388.8,423.7 392.7,424.9 396.6,423.9 400.5,422.2 404.4,425 408.3,423.4 412.2,421.6 416.1,422.6 420,422.6 423.9,424.7 427.8,420 431.7,421.1 435.6,422.4 439.5,425.4 443.4,423.8 447.3,422.2 451.2,420.3 455.1,422.7 458.9,421.2 462.8,424.1 466.7,423.4 470.6,422.5 474.5,422.4 478.4,425.1 482.3,420.9 486.2,420.9 490.1,424.5 494,424.1 497.9,421.9 501.8,424 505.7,426.6 509.6,421.8 513.5,422.3 517.4,423 521.3,419.6 525.2,422.5 529.1,423.3 533,422.7 536.9,424.3 540.7,424.4 544.6,422.4 548.5,423.8 552.4,422.3 556.3,420.1 560.2,421.5 564.1,421.6 568,421.9" stroke="#6ED0E0"/>
<polygon points="30.5,439.2 34.4,434.4 38.2,431.5 42.1,435.3 46,426.7 49.9,422.9 53.8,422.2 57.7,419.9 61.6,423.2 65.5,419.9 69.4,424.7 73.3,423.2 77.2,425 81.1,423 85,422.6 88.9,419 92.8,423.1 96.7,422.2 100.6,423.5 104.5,424 108.4,424.4 112.3,422.3 116.2,426.6 120.1,422 123.9,420.9 127.8,424.9 131.7,423.8 135.6,424.8 139.5,419.5 143.4,424.2 147.3,420.7 151.2,421.5 155.1,422.4 159,424.8 162.9,421.1 166.8,419.6 170.7,424.5 174.6,422.3 178.5,421.4 182.4,421.6 186.3,420 190.2,423.3 194.1,421.8 198,426.4 201.9,419 205.7,424.6 209.6,426.7 213.5,422 217.4,423.6 221.3,420 225.2,422.4 229.1,422.6 233,420.7 236.9,419.7 240.8,423.3 244.7,420.9 248.6,421 252.5,422.6 256.4,422.5 260.3,422.6 264.2,424.3 268.1,420.9 272,423.9 275.9,420.6 279.8,421.7 283.7,423.1 287.6,423.6 291.4,422.7 295.3,421.9 299.2,421.8 303.1,422.2 307,421.9 310.9,424.4 314.8,421.8 318.7,425.7 322.6,421.1 326.5,421.7 330.4,423 334.3,420.6 338.2,420.2 342.1,427.1 346,422.8 349.9,424.7 353.8,420.9 357.7,419.4 361.6,423.4 365.5,422.6 369.4,424 373.2,422.2 377.1,421.9 381,421 384.9,424.9 388.8,420.5 392.7,424 396.6,422.2 400.5,421.5 404.4,421.3 408.3,424.7 412.2,423.8 416.1,422.7 420,423.1 423.9,421.2 427.8,424 431.7,422.2 435.6,421.9 439.5,421.7 443.4,421.5 447.3,421.5 451.2,422.4 455.1,421.9 458.9,422.4 462.8,420.5 466.7,425.9 470.6,420.6 474.5,423.5 478.4,423 482.3,423.9 486.2,425.8 490.1,423.2 494,422.9 497.9,421.8 501.8,425.1 505.7,420.6 509.6,422.7 513.5,422.9 517.4,423.3 521.3,424.2 525.2,424.4 529.1,422.9 533,422.9 536.9,422.8 540.7,425.3 544.6,423.5 548.5,424.2 552.4,421.4 556.3,420.1 560.2,422 564.1,423.4 568,425.1 568,501.5 30.5,501.5" fill="#EF843C" fill-opacity="0.1" stroke="none"/>
<polyline points="30.5,439.2 34.4,434.4 38.2,431.5 42.1,435.3 46,426.7 49.9,422.9 53.8,422.2 57.7,419.9 61.6,423.2 65.5,419.9 69.4,424.7 73.3,423.2 77.2,425 81.1,423 85,422.6 88.9,419 92.8,423.1 96.7,422.2 100.6,423.5 104.5,424 108.4,424.4 112.3,422.3 116.2,426.6 120.1,422 123.9,420.9 127.8,424.9 131.7,423.8 135.6,424.8 139.5,419.5 143.4,424.2 147.3,420.7 151.2,421.5 155.1,422.4 159,424.8 162.9,421.1 166.8,419.6 170.7,424.5 174.6,422.3 178.5,421.4 182.4,421.6 186.3,420 190.2,423.3 194.1,421.8 198,426.4 201.9,419 205.7,424.6 209.6,426.7 213.5,422 217.4,423.6 221.3,420 225.2,422.4 229.1,422.6 233,420.7 236.9,419.7 240.8,423.3 244.7,420.9 248.6,421 252.5,422.6 256.4,422.5 260.3,422.6 264.2,424.3 268.1,420.9 272,423.9 275.9,420.6 279.8,421.7 283.7,423.1 287.6,423.6 291.4,422.7 295.3,421.9 299.2,421.8 303.1,422.2 307,421.9 310.9,424.4 314.8,421.8 318.7,425.7 322.6,421.1 326.5,421.7 330.4,423 334.3,420.6 338.2,420.2 342.1,427.1 346,422.8 349.9,424.7 353.8,420.9 357.7,419.4 361.6,423.4 365.5,422.6 369.4,424 373.2,422.2 377.1,421.9 381,421 384.9,424.9 388.8,420.5 392.7,424 396.6,422.2 400.5,421.5 404.4,421.3 408.3,424.7 412.2,423.8 416.1,422.7 420,423.1 423.9,421.2 427.8,424 431.7,422.2 435.6,421.9 439.5,421.7 443.4,421.5 447.3,421.5 451.2,422.4 455.1,421.9 458.9,422.4 462.8,420.5 466.7,425.9 470.6,420.6 474.5,423.5 478.4,423 482.3,423.9 486.2,425.8 490.1,423.2 494,422.9 497.9,421.8 501.8,425.1 505.7,420.6 509.6,422.7 513.5,422.9 517.4,423.3 521.3,424.2 525.2,424.4 529.1,422.9 533,422.9 536.9,422.8 540.7,425.3 544.6,423.5 548.5,424.2 552.4,421.4 556.3,420.1 560.2,422 564.1,423.4 568,425.1" stroke="#EF843C"/>
<polygon points="30.5,424.8 34.4,422.9 38.2,420.9 42.1,424.8 46,417.6 49.9,418.1 53.8,418.4 57.7,418.1 61.6,415.8 65.5,417.6 69.4,416.5 73.3,417.1 77.2,416 81.1,414.2 85,417.9 88.9,415.5 92.8,416.6 96.7,414.7 100.6,417.7 104.5,417.7 108.4,417.6 112.3,417.8 116.2,416.6 120.1,412.6 123.9,415.8 127.8,416.1 131.7,415.3 135.6,417.4 139.5,416.6 143.4,415.7 147.3,417.8 151.2,413.7 155.1,417.7 159,415.9 162.9,416.1 166.8,416.9 170.7,416.3 174.6,414.2 178.5,416.6 182.4,415.2 186.3,416.1 190.2,418.4 194.1,414.5 198,414.9 201.9,415 205.7,415.6 209.6,418.3 213.5,415.5 217.4,417.9 221.3,417.6 225.2,414.2 229.1,417.2 233,415.5 236.9,418.4 240.8,417 244.7,416.2 248.6,416.4 252.5,416.6 256.4,413.9 260.3,417.7 264.2,417.6 268.1,417.6 272,413.6 275.9,413.6 279.8,416.5 283.7,417.4 287.6,416.3 291.4,414.5 295.3,417.5 299.2,414.8 303.1,414.5 307,417.1 310.9,416.2 314.8,414.8 318.7,414.6 322.6,417.3 326.5,414 330.4,416.3 334.3,417.2 338.2,414.8 342.1,416.1 346,417.7 349.9,417.8 353.8,417 357.7,415.1 361.6,414.1 365.5,415.6 369.4,416 373.2,416.9 377.1,416.5 381,416.2 384.9,418.2 388.8,417.5 392.7,416.2 396.6,416.5 400.5,417.9 404.4,415.5 408.3,417.1 412.2,415.3 416.1,415.6 420,416.9 423.9,416.4 427.8,415.9 431.7,417.1 435.6,416.8 439.5,415.3 443.4,415 447.3,416 451.2,418.4 455.1,417.2 458.9,417.2 462.8,416.5 466.7,417.1 470.6,416.6 474.5,415.9 478.4,416 482.3,417.3 486.2,415.2 490.1,415.1 494,416 497.9,415.2 501.8,417.3 505.7,415.1 509.6,416.9 513.5,417 517.4,416.2 521.3,417.5 525.2,416.1 529.1,415.5 533,416.4 536.9,416.7 540.7,420.6 544.6,416.5 548.5,418.5 552.4,414.9 556.3,415.2 560.2,416.2 564.1,416.9 568,416.5 568,501.5 30.5,501.5" fill="#E24D42" fill-opacity="0.1" stroke="none"/>
<polyline points="30.5,424.8 34.4,422.9 38.2,420.9 42.1,424.8 46,417.6 49.9,418.1 53.8,418.4 57.7,418.1 61.6,415.8 65.5,417.6 69.4,416.5 73.3,417.1 77.2,416 81.1,414.2 85,417.9 88.9,415.5 92.8,416.6 96.7,414.7 100.6,417.7 104.5,417.7 108.4,417.6 112.3,417.8 116.2,416.6 120.1,412.6 123.9,415.8 127.8,416.1 131.7,415.3 135.6,417.4 139.5,416.6 143.4,415.7 147.3,417.8 151.2,413.7 155.1,417.7 159,415.9 162.9,416.1 166.8,416.9 170.7,416.3 174.6,414.2 178.5,416.6 182.4,415.2 186.3,416.1 190.2,418.4 194.1,414.5 198,414.9 201.9,415 205.7,415.6 209.6,418.3 213.5,415.5 217.4,417.9 221.3,417.6 225.2,414.2 229.1,417.2 233,415.5 236.9,418.4 240.8,417 244.7,416.2 248.6,416.4 252.5,416.6 256.4,413.9 260.3,417.7 264.2,417.6 268.1,417.6 272,413.6 275.9,413.6 279.8,416.5 283.7,417.4 287.6,416.3 291.4,414.5 295.3,417.5 299.2,414.8 303.1,414.5 307,417.1 310.9,416.2 314.8,414.8 318.7,414.6 322.6,417.3 326.5,414 330.4,416.3 334.3,417.2 338.2,414.8 342.1,416.1 346,417.7 349.9,417.8 353.8,417 357.7,415.1 361.6,414.1 365.5,415.6 369.4,416 373.2,416.9 377.1,416.5 381,416.2 384.9,418.2 388.8,417.5 392.7,416.2 396.6,416.5 400.5,417.9 404.4,415.5 408.3,417.1 412.2,415.3 416.1,415.6 420,416.9 423.9,416.4 427.8,415.9 431.7,417.1 435.6,416.8 439.5,415.3 443.4,415 447.3,416 451.2,418.4 455.1,417.2 458.9,417.2 462.8,416.5 466.7,417.1 470.6,416.6 474.5,415.9 478.4,416 482.3,417.3 486.2,415.2 490.1,415.1 494,416 497.9,415.2 501.8,417.3 505.7,415.1 509.6,416.9 513.5,417 517.4,416.2 521.3,417.5 525.2,416.1 529.1,415.5 533,416.4 536.9,416.7 540.7,420.6 544.6,416.5 548.5,418.5 552.4,414.9 556.3,415.2 560.2,416.2 564.1,416.9 568,416.5" stroke="#E24D42"/>
<polygon points="30.5,501.5 34.4,501.5 38.2,501.5 42.1,501.5 46,501.5 49.9,501.5 53.8,501.5 57.7,501.5 61.6,501.5 65.5,501.5 69.4,501.5 73.3,501.5 77.2,501.5 81.1,501.5 85,501.5 88.9,501.5 92.8,501.5 96.7,501.5 100.6,501.5 104.5,501.5 108.4,501.5 112.3,501.5 116.2,501.5 120.1,501.5 123.9,501.5 127.8,501.5 131.7,501.5 135.6,501.5 139.5,501.5 143.4,501.5 147.3,501.5 151.2,501.5 155.1,501.5 159,501.5 162.9,501.5 166.8,501.5 170.7,501.5 174.6,501.5 178.5,501.5 182.4,501.5 186.3,501.5 190.2,501.5 194.1,501.5 198,501.5 201.9,501.5 205.7,501.5 209.6,501.5 213.5,501.5 217.4,501.5 221.3,501.5 225.2,501.5 229.1,501.5 233,501.5 236.9,501.5 240.8,501.5 244.7,501.5 248.6,501.5 252.5,501.5 256.4,501.5 260.3,501.5 264.2,501.5 268.1,501.5 272,501.5 275.9,501.5 279.8,501.5 283.7,501.5 287.6,501.5 291.4,501.5 295.3,501.5 299.2,501.5 303.1,501.5 307,501.5 310.9,501.5 314.8,501.5 318.7,501.5 322.6,501.5 326.5,501.5 330.4,501.5 334.3,501.5 338.2,501.5 342.1,501.5 346,501.5 349.9,501.5 353.8,501.5 357.7,501.5 361.6,501.5 365.5,501.5 369.4,501.5 373.2,501.5 377.1,501.5 381,501.5 384.9,501.5 388.8,501.5 392.7,501.5 396.6,501.5 400.5,501.5 404.4,501.5 408.3,501.5 412.2,501.5 416.1,501.5 420,501.5 423.9,501.5 427.8,501.5 431.7,501.5 435.6,501.5 439.5,501.5 443.4,501.5 447.3,501.5 451.2,501.5 455.1,501.5 458.9,501.5 462.8,501.5 466.7,501.5 470.6,501.5 474.5,501.5 478.4,501.5 482.3,501.5 486.2,501.5 490.1,501.5 494,501.5 497.9,501.5 501.8,501.5 505.7,501.5 509.6,501.5 513.5,501.5 517.4,501.5 521.3,501.5 525.2,501.5 529.1,501.5 533,501.5 536.9,501.5 540.7,501.5 544.6,501.5 548.5,501.5 552.4,501.5 556.3,501.5 560.2,501.5 564.1,501.5 568,501.5 568,501.5 30.5,501.5" fill="#1F78C1" fill-opacity="0.1" stroke="none"/>
<polyline points="30.5,501.5 34.4,501.5 38.2,501.5 42.1,501.5 46,501.5 49.9,501.5 53.8,501.5 57.7,501.5 61.6,501.5 65.5,501.5 69.4,501.5 73.3,501.5 77.2,501.5 81.1,501.5 85,501.5 88.9,501.5 92.8,501.5 96.7,501.5 100.6,501.5 104.5,501.5 108.4,501.5 112.3,501.5 116.2,501.5 120.1,501.5 123.9,501.5 127.8,501.5 131.7,501.5 135.6,501.5 139.5,501.5 143.4,501.5 147.3,501.5 151.2,501.5 155.1,501.5 159,501.5 162.9,501.5 166.8,501.5 170.7,501.5 174.6,501.5 178.5,501.5 182.4,501.5 186.3,501.5 190.2,501.5 194.1,501.5 198,501.5 201.9,501.5 205.7,501.5 209.6,501.5 213.5,501.5 217.4,501.5 221.3,501.5 225.2,501.5 229.1,501.5 233,501.5 236.9,501.5 240.8,501.5 244.7,501.5 248.6,501.5 252.5,501.5 256.4,501.5 260.3,501.5 264.2,501.5 268.1,501.5 272,501.5 275.9,501.5 279.8,501.5 283.7,501.5 287.6,501.5 291.4,501.5 295.3,501.5 299.2,501.5 303.1,501.5 307,501.5 310.9,501.5 314.8,501.5 318.7,501.5 322.6,501.5 326.5,501.5 330.4,501.5 334.3,501.5 338.2,501.5 342.1,501.5 346,501.5 349.9,501.5 353.8,501.5 357.7,501.5 361.6,501.5 365.5,501.5 369.4,501.5 373.2,501.5 377.1,501.5 381,501.5 384.9,501.5 388.8,501.5 392.7,501.5 396.6,501.5 400.5,501.5 404.4,501.5 408.3,501.5 412.2,501.5 416.1,501.5 420,501.5 423.9,501.5 427.8,501.5 431.7,501.5 435.6,501.5 439.5,501.5 443.4,501.5 447.3,501.5 451.2,501.5 455.1,501.5 458.9,501.5 462.8,501.5 466.7,501.5 470.6,501.5 474.5,501.5 478.4,501.5 482.3,501.5 486.2,501.5 490.1,501.5 494,501.5 497.9,501.5 501.8,501.5 505.7,501.5 509.6,501.5 513.5,501.5 517.4,501.5 521.3,501.5 525.2,501.5 529.1,501.5 533,501.5 536.9,501.5 540.7,501.5 544.6,501.5 548.5,501.5 552.4,501.5 556.3,501.5 560.2,501.5 564.1,501.5 568,501.5" stroke="#1F78C1"/>
<polygon points="30.5,454 34.4,453.1 38.2,450.7 42.1,454 46,447.3 49.9,447 53.8,447.2 57.7,446.2 61.6,446.4 65.5,446.9 69.4,447.3 73.3,447.7 77.2,446.7 81.1,446.5 85,447.1 88.9,445.9 92.8,445.9 96.7,446.8 100.6,447.6 104.5,447.4 108.4,447 112.3,447.2 116.2,447.3 120.1,446.3 123.9,445.8 127.8,447.5 131.7,445.9 135.6,446.8 139.5,446.5 143.4,446.7 147.3,446.6 151.2,446 155.1,447 159,446.5 162.9,446.7 166.8,446 170.7,446.4 174.6,445.9 178.5,446.8 182.4,446.1 186.3,447.2 190.2,446.5 194.1,445.8 198,447.8 201.9,445.7 205.7,446.7 209.6,448.1 213.5,446.6 217.4,446.6 221.3,446.7 225.2,446.4 229.1,447.3 233,446.2 236.9,446.5 240.8,448 244.7,446.1 248.6,446.6 252.5,447.1 256.4,446.3 260.3,447.4 264.2,447.1 268.1,446.7 272,445.7 275.9,445.6 279.8,446.4 283.7,446.8 287.6,446.1 291.4,446.3 295.3,446.8 299.2,446.3 303.1,445.7 307,446.8 310.9,446.3 314.8,445.4 318.7,446.9 322.6,446.4 326.5,446.2 330.4,446.4 334.3,446.3 338.2,444.5 342.1,447.3 346,447.2 349.9,447.3 353.8,446.2 357.7,446.4 361.6,446.8 365.5,446.1 369.4,447.1 373.2,447 377.1,447 381,446.3 384.9,447.1 388.8,446.7 392.7,447 396.6,447.1 400.5,446.7 404.4,446.4 408.3,446.8 412.2,446.7 416.1,446.3 420,446.7 423.9,447 427.8,446.2 431.7,446.5 435.6,447.2 439.5,446.6 443.4,446.3 447.3,446.7 451.2,446.9 455.1,446.4 458.9,446.4 462.8,446.4 466.7,447.2 470.6,446.4 474.5,446.5 478.4,447.1 482.3,446.7 486.2,446.7 490.1,446.8 494,446.5 497.9,446.2 501.8,447.5 505.7,446.8 509.6,446.6 513.5,446.9 517.4,446.9 521.3,446.7 525.2,447 529.1,446.6 533,446.9 536.9,446.6 540.7,447.8 544.6,446.7 548.5,447.5 552.4,445.4 556.3,445.6 560.2,446.4 564.1,446.6 568,446.9 568,501.5 30.5,501.5" fill="#BA43A9" fill-opacity="0.1" stroke="none"/>
<polyline points="30.5,454 34.4,453.1 38.2,450.7 42.1,454 46,447.3 49.9,447 53.8,447.2 57.7,446.2 61.6,446.4 65.5,446.9 69.4,447.3 73.3,447.7 77.2,446.7 81.1,446.5 85,447.1 88.9,445.9 92.8,445.9 96.7,446.8 100.6,447.6 104.5,447.4 108.4,447 112.3,447.2 116.2,447.3 120.1,446.3 123.9,445.8 127.8,447.5 131.7,445.9 135.6,446.8 139.5,446.5 143.4,446.7 147.3,446.6 151.2,446 155.1,447 159,446.5 162.9,446.7 166.8,446 170.7,446.4 174.6,445.9 178.5,446.8 182.4,446.1 186.3,447.2 190.2,446.5 194.1,445.8 198,447.8 201.9,445.7 205.7,446.7 209.6,448.1 213.5,446.6 217.4,446.6 221.3,446.7 225.2,446.4 229.1,447.3 233,446.2 236.9,446.5 240.8,448 244.7,446.1 248.6,446.6 252.5,447.1 256.4,446.3 260.3,447.4 264.2,447.1 268.1,446.7 272,445.7 275.9,445.6 279.8,446.4 283.7,446.8 287.6,446.1 291.4,446.3 295.3,446.8 299.2,446.3 303.1,445.7 307,446.8 310.9,446.3 314.8,445.4 318.7,446.9 322.6,446.4 326.5,446.2 330.4,446.4 334.3,446.3 338.2,444.5 342.1,447.3 346,447.2 349.9,447.3 353.8,446.2 357.7,446.4 361.6,446.8 365.5,446.1 369.4,447.1 373.2,447 377.1,447 381,446.3 384.9,447.1 388.8,446.7 392.7,447 396.6,447.1 400.5,446.7 404.4,446.4 408.3,446.8 412.2,446.7 416.1,446.3 420,446.7 423.9,447 427.8,446.2 431.7,446.5 435.6,447.2 439.5,446.6 443.4,446.3 447.3,446.7 451.2,446.9 455.1,446.4 458.9,446.4 462.8,446.4 466.7,447.2 470.6,446.4 474.5,446.5 478.4,447.1 482.3,446.7 486.2,446.7 490.1,446.8 494,446.5 497.9,446.2 501.8,447.5 505.7,446.8 509.6,446.6 513.5,446.9 517.4,446.9 521.3,446.7 525.2,447 529.1,446.6 533,446.9 536.9,446.6 540.7,447.8 544.6,446.7 548.5,447.5 552.4,445.4 556.3,445.6 560.2,446.4 564.1,446.6 568,446.9" stroke="#BA43A9"/>
</g>
<rect x="12" y="541" width="14" height="4" rx="1" fill="#7EB26D"/>
<text x="40.1" y="545" textLength="19.7" lengthAdjust="spacingAndGlyphs">sda</text>
<text x="72.3" y="545" textLength="61.5" lengthAdjust="spacingAndGlyphs">Max: 1.40%</text>
<text x="140.6" y="545" textLength="65.9" lengthAdjust="spacingAndGlyphs">Avg: 0.550%</text>
<rect x="217" y="541" width="14" height="4" rx="1" fill="#EAB839"/>
<text x="244.8" y="545" textLength="19.8" lengthAdjust="spacingAndGlyphs">sdb</text>
<text x="277.1" y="545" textLength="61.5" lengthAdjust="spacingAndGlyphs">Max: 85.7%</text>
<text x="345.4" y="545" textLength="59" lengthAdjust="spacingAndGlyphs">Avg: 82.1%</text>
<rect x="12" y="562" width="14" height="4" rx="1" fill="#6ED0E0"/>
<text x="40.1" y="566" textLength="19.1" lengthAdjust="spacingAndGlyphs">sdc</text>
<text x="72.3" y="566" textLength="61.5" lengthAdjust="spacingAndGlyphs">Max: 87.0%</text>
<text x="140.6" y="566" textLength="59" lengthAdjust="spacingAndGlyphs">Avg: 82.1%</text>
<rect x="210" y="562" width="14" height="4" rx="1" fill="#EF843C"/>
<text x="237.8" y="566" textLength="19.9" lengthAdjust="spacingAndGlyphs">sdd</text>
<text x="269.8" y="566" textLength="61.5" lengthAdjust="spacingAndGlyphs">Max: 85.9%</text>
<text x="338.1" y="566" textLength="59" lengthAdjust="spacingAndGlyphs">Avg: 82.1%</text>
<rect x="12" y="583" width="14" height="4" rx="1" fill="#E24D42"/>
<text x="40.1" y="587" textLength="19.2" lengthAdjust="spacingAndGlyphs">sde</text>
<text x="72.3" y="587" textLength="61.5" lengthAdjust="spacingAndGlyphs">Max: 92.1%</text>
<text x="140.6" y="587" textLength="59" lengthAdjust="spacingAndGlyphs">Avg: 88.8%</text>
<rect x="210" y="583" width="14" height="4" rx="1" fill="#1F78C1"/>
<text x="237.8" y="587" textLength="17.1" lengthAdjust="spacingAndGlyphs">sdf</text>
<text x="267.2" y="587" textLength="44.7" lengthAdjust="spacingAndGlyphs">Max: 0%</text>
<text x="318.8" y="587" textLength="42.2" lengthAdjust="spacingAndGlyphs">Avg: 0%</text>
<rect x="371" y="583" width="14" height="4" rx="1" fill="#BA43A9"/>
<text x="399.1" y="587" textLength="30" lengthAdjust="spacingAndGlyphs">Mean</text>
<text x="442" y="587" textLength="61.5" lengthAdjust="spacingAndGlyphs">Max: 58.9%</text>
<text x="510.2" y="587" textLength="59" lengthAdjust="spacingAndGlyphs">Avg: 57.0%</text>
<rect x="606.5" y="345.5" width="604" height="257" rx="2.5" fill="#181b1f" stroke="#25272c"/>
<text x="908.5" y="366.4" text-anchor="middle" font-size="13.4" textLength="127.9" lengthAdjust="spacingAndGlyphs" stroke="#ccccdc" stroke-width="0.45">Per Disk Throughput</text>
<rect x="754" y="396" width="1" height="102" fill="rgba(255,255,255,0.165)"/>
<rect x="868" y="396" width="1" height="102" fill="rgba(255,255,255,0.165)"/>
<rect x="983" y="396" width="1" height="102" fill="rgba(255,255,255,0.165)"/>
<rect x="1097" y="396" width="1" height="102" fill="rgba(255,255,255,0.165)"/>
<rect x="662" y="396" width="524" height="1" fill="rgba(255,255,255,0.165)"/>
<rect x="662" y="416" width="524" height="1" fill="rgba(255,255,255,0.165)"/>
<rect x="662" y="436" width="524" height="1" fill="rgba(255,255,255,0.165)"/>
<rect x="662" y="456" width="524" height="1" fill="rgba(255,255,255,0.165)"/>
<rect x="662" y="476" width="524" height="1" fill="rgba(255,255,255,0.165)"/>
<rect x="662" y="497" width="524" height="1" fill="rgba(255,255,255,0.165)"/>
<text x="656.6" y="400.5" text-anchor="end" font-size="11.8" textLength="20.2" lengthAdjust="spacingAndGlyphs">500</text>
<text x="656.6" y="420.5" text-anchor="end" font-size="11.8" textLength="20.2" lengthAdjust="spacingAndGlyphs">400</text>
<text x="656.6" y="440.5" text-anchor="end" font-size="11.8" textLength="20.2" lengthAdjust="spacingAndGlyphs">300</text>
<text x="656.6" y="460.5" text-anchor="end" font-size="11.8" textLength="20.2" lengthAdjust="spacingAndGlyphs">200</text>
<text x="656.6" y="480.5" text-anchor="end" font-size="11.8" textLength="20.2" lengthAdjust="spacingAndGlyphs">100</text>
<text x="656.6" y="501.5" text-anchor="end" font-size="11.8" textLength="6.7" lengthAdjust="spacingAndGlyphs">0</text>
<text x="754.5" y="516.1" text-anchor="middle" font-size="11.8" textLength="29.9" lengthAdjust="spacingAndGlyphs">14:20</text>
<text x="868.5" y="516.1" text-anchor="middle" font-size="11.8" textLength="29.9" lengthAdjust="spacingAndGlyphs">14:25</text>
<text x="983.5" y="516.1" text-anchor="middle" font-size="11.8" textLength="29.9" lengthAdjust="spacingAndGlyphs">14:30</text>
<text x="1097.5" y="516.1" text-anchor="middle" font-size="11.8" textLength="29.9" lengthAdjust="spacingAndGlyphs">14:35</text>
<text x="626.8" y="453.8" text-anchor="middle" textLength="30.9" lengthAdjust="spacingAndGlyphs" transform="rotate(-90 626.8 453.8)">ops/s</text>
<clipPath id="c5"><rect x="662" y="395" width="525" height="103"/></clipPath>
<g clip-path="url(#c5)" fill="none" stroke-width="1" stroke-linejoin="round">
<polyline points="655.6,486.2 659.4,489.2 663.2,489.3 667,486.7 670.8,495.1 674.6,494.4 678.5,493.5 682.3,496 686.1,495.3 689.9,495.8 693.7,494.6 697.5,493.9 701.3,495.1 705.1,496.9 708.9,497.1 712.7,492.3 716.5,496.1 720.3,496.1 724.2,492.8 728,493.5 731.8,494.6 735.6,496.4 739.4,491.3 743.2,494.9 747,494.7 750.8,496 754.6,496.7 758.4,496.9 762.2,495 766,495 769.8,496.2 773.7,497.2 777.5,496.7 781.3,496.3 785.1,496.7 788.9,494.2 792.7,493.8 796.5,491 800.3,494.3 804.1,496.8 807.9,497.3 811.7,493.4 815.5,496.8 819.4,496.2 823.2,494.3 827,494.9 830.8,495 834.6,495.6 838.4,494.9 842.2,493.7 846,497.4 849.8,496.7 853.6,496.9 857.4,493.5 861.2,494 865.1,494.9 868.9,497.2 872.7,495.8 876.5,496.4 880.3,495.9 884.1,496.3 887.9,495.3 891.7,496.6 895.5,494.9 899.3,495.8 903.1,496.5 906.9,496.3 910.7,496.7 914.6,495 918.4,496.5 922.2,495.8 926,496.7 929.8,496.9 933.6,495 937.4,497.4 941.2,495.3 945,495.7 948.8,496.7 952.6,497.4 956.4,496.9 960.3,497.3 964.1,497.3 967.9,495.4 971.7,496.6 975.5,495.9 979.3,496.8 983.1,496 986.9,497.2 990.7,496.4 994.5,495.7 998.3,496.3 1002.1,496.9 1006,497.4 1009.8,496.2 1013.6,496 1017.4,496.7 1021.2,497.3 1025,495.9 1028.8,493.9 1032.6,496.8 1036.4,496.1 1040.2,496.1 1044,495.9 1047.8,496.4 1051.7,497.2 1055.5,495.2 1059.3,496.8 1063.1,497.3 1066.9,496.8 1070.7,496.4 1074.5,497.1 1078.3,496.7 1082.1,497.2 1085.9,496.8 1089.7,496 1093.5,495 1097.3,496.1 1101.2,496.4 1105,495.7 1108.8,495.9 1112.6,495.4 1116.4,495.9 1120.2,496.8 1124,496.5 1127.8,496.6 1131.6,496.5 1135.4,496.6 1139.2,497.3 1143,496.7 1146.9,497.3 1150.7,496.8 1154.5,496.8 1158.3,496.8 1162.1,497.1 1165.9,496.4 1169.7,496.3 1173.5,496.8 1177.3,495.9 1181.1,495.8" stroke="#7EB26D"/>
<polyline points="655.6,487.4 659.4,494.7 663.2,497.3 667,486.4 670.8,485.9 674.6,489.6 678.5,495.6 682.3,494.7 686.1,495.7 689.9,497.1 693.7,496.6 697.5,495.5 701.3,496.7 705.1,493.7 708.9,495.7 712.7,495.5 716.5,495.5 720.3,494.2 724.2,496.5 728,493.5 731.8,494.7 735.6,495.3 739.4,495.6 743.2,494.7 747,493.8 750.8,493.9 754.6,495 758.4,494.1 762.2,495.5 766,493.5 769.8,495.8 773.7,495.6 777.5,493.4 781.3,495.6 785.1,497.2 788.9,496.1 792.7,497.3 796.5,492.2 800.3,495 804.1,496.5 807.9,494.9 811.7,496.5 815.5,492.7 819.4,497.4 823.2,495.5 827,495.8 830.8,496.5 834.6,496.6 838.4,495.7 842.2,495.3 846,493.3 849.8,496.1 853.6,494.2 857.4,496.8 861.2,492.4 865.1,495.3 868.9,496.3 872.7,494.4 876.5,495.3 880.3,496.9 884.1,495 887.9,496.8 891.7,496.4 895.5,493.2 899.3,496.6 903.1,497 906.9,495.6 910.7,496.7 914.6,497 918.4,496.8 922.2,496.9 926,496.1 929.8,494.7 933.6,496.8 937.4,495.6 941.2,495.4 945,497.4 948.8,495.9 952.6,497.4 956.4,494.9 960.3,495.7 964.1,496.3 967.9,497.1 971.7,496.2 975.5,497.2 979.3,495.5 983.1,496.5 986.9,497.3 990.7,495.3 994.5,495.5 998.3,497 1002.1,495.1 1006,496.7 1009.8,496.7 1013.6,496.3 1017.4,497.2 1021.2,496.9 1025,496.6 1028.8,494.9 1032.6,494.9 1036.4,496.7 1040.2,494.9 1044,496.6 1047.8,496.1 1051.7,495.7 1055.5,496.3 1059.3,494.3 1063.1,496.3 1066.9,497.3 1070.7,495.4 1074.5,497 1078.3,496.9 1082.1,495.7 1085.9,495.8 1089.7,495.9 1093.5,496 1097.3,495.8 1101.2,495.3 1105,496.7 1108.8,495.9 1112.6,497.3 1116.4,497 1120.2,495.9 1124,496.4 1127.8,497.2 1131.6,496.5 1135.4,496.9 1139.2,497.4 1143,496.5 1146.9,497.1 1150.7,497.1 1154.5,497.4 1158.3,495.7 1162.1,497.2 1165.9,496.7 1169.7,496.5 1173.5,496.5 1177.3,497.4 1181.1,497.1" stroke="#EAB839"/>
<polyline points="655.6,490.3 659.4,490.3 663.2,496.5 667,492.7 670.8,494.1 674.6,496.3 678.5,495.8 682.3,497.3 686.1,495.1 689.9,495.4 693.7,496.3 697.5,494.7 701.3,496.7 705.1,495.6 708.9,494.7 712.7,495 716.5,493.5 720.3,497.1 724.2,496.5 728,495.2 731.8,494.8 735.6,491.7 739.4,494.5 743.2,497.3 747,494.2 750.8,497.2 754.6,496.6 758.4,491 762.2,495.1 766,494.4 769.8,494.7 773.7,492.5 777.5,495.2 781.3,493.6 785.1,497.5 788.9,496.8 792.7,493.4 796.5,493.3 800.3,494.9 804.1,495.4 807.9,495.6 811.7,497 815.5,493.3 819.4,494.8 823.2,495.1 827,495.3 830.8,494.2 834.6,495.1 838.4,494.7 842.2,497.2 846,495.1 849.8,492.6 853.6,496.8 857.4,496.2 861.2,494.6 865.1,494.6 868.9,495.1 872.7,496.6 876.5,495.3 880.3,497.2 884.1,497.2 887.9,495.3 891.7,496.5 895.5,494.9 899.3,491.7 903.1,495 906.9,495.1 910.7,497.4 914.6,497 918.4,497.4 922.2,496.9 926,497.4 929.8,497.1 933.6,496.5 937.4,497.5 941.2,497 945,497 948.8,495.7 952.6,496.2 956.4,495 960.3,495 964.1,496.7 967.9,495.5 971.7,497 975.5,493.6 979.3,494.9 983.1,496.6 986.9,497.3 990.7,495.9 994.5,496.5 998.3,497.3 1002.1,495.6 1006,496.3 1009.8,496.9 1013.6,495.4 1017.4,497.5 1021.2,496.1 1025,497 1028.8,497.3 1032.6,496 1036.4,497.5 1040.2,494.6 1044,497.1 1047.8,494.6 1051.7,497.4 1055.5,496 1059.3,497.3 1063.1,497.2 1066.9,496.4 1070.7,496 1074.5,497.3 1078.3,495.5 1082.1,497.3 1085.9,496.5 1089.7,496.3 1093.5,496.1 1097.3,496.8 1101.2,495.3 1105,496.2 1108.8,497 1112.6,497.5 1116.4,497 1120.2,497.2 1124,496.3 1127.8,497 1131.6,497.4 1135.4,497.2 1139.2,495.7 1143,497 1146.9,497.2 1150.7,495.9 1154.5,496.5 1158.3,496.8 1162.1,497.2 1165.9,497.1 1169.7,497.4 1173.5,497.2 1177.3,497 1181.1,496.7" stroke="#6ED0E0"/>
<polyline points="655.6,490.5 659.4,484.2 663.2,483.6 667,486.8 670.8,492.6 674.6,489.6 678.5,496.8 682.3,494.5 686.1,495.9 689.9,497.5 693.7,495.4 697.5,491.8 701.3,496.9 705.1,493.3 708.9,492.9 712.7,492.7 716.5,497.2 720.3,491.7 724.2,495.4 728,496.1 731.8,496.1 735.6,494.5 739.4,495.5 743.2,496 747,493.3 750.8,497 754.6,497.4 758.4,494.3 762.2,494.4 766,493.8 769.8,497.4 773.7,493.8 777.5,494.9 781.3,492.7 785.1,497.1 788.9,495.4 792.7,496.3 796.5,496.5 800.3,497 804.1,493.9 807.9,496.6 811.7,497 815.5,494.4 819.4,494.3 823.2,494.3 827,497.2 830.8,496 834.6,494.3 838.4,497 842.2,497.1 846,494.7 849.8,493.5 853.6,497.3 857.4,495.1 861.2,496.8 865.1,497.5 868.9,496.2 872.7,495.1 876.5,496.2 880.3,497.1 884.1,495.8 887.9,497.4 891.7,496.1 895.5,497 899.3,492.3 903.1,495 906.9,497.3 910.7,497.5 914.6,496.7 918.4,496.6 922.2,497.1 926,497.2 929.8,495 933.6,496.8 937.4,497.2 941.2,497.1 945,497.3 948.8,496.3 952.6,496.5 956.4,494.8 960.3,497 964.1,495 967.9,496 971.7,496.3 975.5,496.3 979.3,497.2 983.1,495.5 986.9,494.7 990.7,496.1 994.5,495.5 998.3,496.8 1002.1,496.8 1006,497.1 1009.8,495.3 1013.6,496.1 1017.4,496.7 1021.2,496.8 1025,495.9 1028.8,496.1 1032.6,497.3 1036.4,494.7 1040.2,496.2 1044,496.5 1047.8,495.1 1051.7,495.5 1055.5,496.6 1059.3,496 1063.1,497.4 1066.9,497.2 1070.7,496.3 1074.5,495.5 1078.3,496.7 1082.1,496 1085.9,497.4 1089.7,497.5 1093.5,496.8 1097.3,496.4 1101.2,496.2 1105,495.2 1108.8,496.4 1112.6,496 1116.4,497.2 1120.2,496.2 1124,496.6 1127.8,497.1 1131.6,496.8 1135.4,496.8 1139.2,496.6 1143,496.5 1146.9,497.2 1150.7,497.3 1154.5,496.3 1158.3,497 1162.1,497.2 1165.9,495.9 1169.7,496.4 1173.5,497.3 1177.3,496.5 1181.1,497.1" stroke="#EF843C"/>
<polyline points="655.6,487 659.4,467.6 663.2,479.7 667,488.5 670.8,470.9 674.6,484 678.5,479.3 682.3,478.5 686.1,480.7 689.9,476.9 693.7,478.2 697.5,481 701.3,478.8 705.1,479.9 708.9,479.7 712.7,478.6 716.5,479.8 720.3,477.3 724.2,479.8 728,477.2 731.8,478.8 735.6,477.4 739.4,479.5 743.2,479.5 747,480.5 750.8,477.8 754.6,477.3 758.4,475.5 762.2,476.8 766,478.3 769.8,479 773.7,478.1 777.5,478.8 781.3,476.5 785.1,477.3 788.9,480 792.7,479.8 796.5,476.6 800.3,478.2 804.1,479.1 807.9,476.9 811.7,479.3 815.5,479.1 819.4,479.4 823.2,481.7 827,477.4 830.8,480.5 834.6,479.6 838.4,479.8 842.2,477.6 846,478.8 849.8,478.7 853.6,480.4 857.4,478.8 861.2,480.2 865.1,478.4 868.9,478.3 872.7,478.7 876.5,476.7 880.3,478.2 884.1,478.1 887.9,478.6 891.7,478.9 895.5,477.7 899.3,477.6 903.1,480 906.9,477.6 910.7,478.2 914.6,477.7 918.4,478.2 922.2,480 926,479.9 929.8,476.9 933.6,478.5 937.4,480.1 941.2,478.4 945,479.1 948.8,480.6 952.6,481 956.4,480.3 960.3,478.4 964.1,478.8 967.9,479 971.7,478.4 975.5,478.1 979.3,480.8 983.1,479 986.9,479.6 990.7,480 994.5,479.3 998.3,478.8 1002.1,478.9 1006,479.6 1009.8,479 1013.6,477.5 1017.4,479.4 1021.2,479.7 1025,478.5 1028.8,478.4 1032.6,478.4 1036.4,479.4 1040.2,478.1 1044,479.2 1047.8,479.4 1051.7,479.1 1055.5,478.8 1059.3,478.3 1063.1,478.3 1066.9,478.7 1070.7,478.1 1074.5,478.7 1078.3,478.2 1082.1,479.6 1085.9,479.7 1089.7,478.2 1093.5,479.6 1097.3,478.9 1101.2,478.8 1105,479 1108.8,479 1112.6,477.9 1116.4,480.2 1120.2,478.2 1124,477.3 1127.8,478.7 1131.6,478.7 1135.4,478.3 1139.2,477.6 1143,479.4 1146.9,478.7 1150.7,478.8 1154.5,478.4 1158.3,478.6 1162.1,478.3 1165.9,479 1169.7,478.7 1173.5,479.1 1177.3,479.1 1181.1,478.8" stroke="#E24D42"/>
<polyline points="655.6,477.2 659.4,474.1 663.2,472.2 667,483.7 670.8,475.2 674.6,460.2 678.5,475.6 682.3,482.1 686.1,478.6 689.9,478.1 693.7,480.3 697.5,480.8 701.3,475.4 705.1,479.3 708.9,475.6 712.7,477.9 716.5,478.6 720.3,478 724.2,477.8 728,476.9 731.8,478.1 735.6,478.5 739.4,478.4 743.2,476.7 747,477.5 750.8,480.2 754.6,479.7 758.4,478.2 762.2,479.7 766,479.3 769.8,480.2 773.7,479.1 777.5,478.1 781.3,477.2 785.1,478.7 788.9,475.6 792.7,478.8 796.5,473.9 800.3,477.2 804.1,478 807.9,479.5 811.7,483 815.5,478.9 819.4,478.4 823.2,475.8 827,480.8 830.8,475.8 834.6,479.1 838.4,477.6 842.2,482.6 846,478.6 849.8,479.1 853.6,478 857.4,478.6 861.2,479.9 865.1,477.8 868.9,478 872.7,478.1 876.5,477.7 880.3,477.6 884.1,478.7 887.9,480.1 891.7,480.1 895.5,477.4 899.3,478 903.1,478.6 906.9,479.2 910.7,478.7 914.6,478.7 918.4,479.1 922.2,479.4 926,476.5 929.8,478.5 933.6,479.3 937.4,480 941.2,479.4 945,478 948.8,477.9 952.6,478.9 956.4,478.7 960.3,479 964.1,479.8 967.9,477.4 971.7,478.3 975.5,476.2 979.3,479.5 983.1,478.9 986.9,477.8 990.7,479 994.5,480.1 998.3,479.3 1002.1,478.7 1006,478.5 1009.8,478.8 1013.6,478.1 1017.4,478.1 1021.2,478.5 1025,478.7 1028.8,478.9 1032.6,478.4 1036.4,478.2 1040.2,478.7 1044,478.4 1047.8,478.9 1051.7,479.6 1055.5,479.3 1059.3,478.2 1063.1,478.4 1066.9,477.8 1070.7,478.7 1074.5,478.2 1078.3,477.9 1082.1,478.1 1085.9,479.1 1089.7,478.8 1093.5,478.6 1097.3,479.3 1101.2,478.4 1105,478.1 1108.8,479 1112.6,477.5 1116.4,478.9 1120.2,478.8 1124,478.9 1127.8,479.1 1131.6,478.5 1135.4,478.7 1139.2,477.7 1143,478.3 1146.9,478.4 1150.7,478.8 1154.5,479.6 1158.3,478.8 1162.1,479.2 1165.9,478.1 1169.7,478.7 1173.5,477.7 1177.3,478.3 1181.1,478.2" stroke="#1F78C1"/>
<polyline points="655.6,477 659.4,475 663.2,491.2 667,466.8 670.8,478.5 674.6,479.5 678.5,478.3 682.3,475.9 686.1,474.9 689.9,480.1 693.7,477.1 697.5,477.8 701.3,478.1 705.1,478 708.9,478.7 712.7,476.3 716.5,477.8 720.3,478.2 724.2,476.8 728,477.4 731.8,478 735.6,478.2 739.4,476 743.2,477.9 747,478.8 750.8,480 754.6,479.2 758.4,480.3 762.2,478.5 766,478.3 769.8,481.8 773.7,478.7 777.5,477.7 781.3,478.5 785.1,480.2 788.9,476.8 792.7,479.8 796.5,480.6 800.3,480.3 804.1,478.7 807.9,477.2 811.7,476.9 815.5,478.4 819.4,480.5 823.2,479.7 827,480.1 830.8,479 834.6,481.4 838.4,478.5 842.2,477.7 846,478.9 849.8,478.2 853.6,479.7 857.4,480.2 861.2,479.4 865.1,477.5 868.9,477.7 872.7,479.2 876.5,477.5 880.3,479 884.1,477.2 887.9,478.2 891.7,479.2 895.5,477.9 899.3,479.5 903.1,479.7 906.9,480.2 910.7,478.5 914.6,478.8 918.4,478.8 922.2,479.1 926,477.3 929.8,479.1 933.6,479.4 937.4,477.5 941.2,477.3 945,478.4 948.8,480.5 952.6,479.3 956.4,478.1 960.3,478.7 964.1,477.1 967.9,480.1 971.7,478 975.5,479.3 979.3,477.4 983.1,478.8 986.9,477.7 990.7,479.4 994.5,480.1 998.3,479.4 1002.1,479.1 1006,479.3 1009.8,478 1013.6,477.9 1017.4,478.5 1021.2,479.3 1025,478.8 1028.8,479.1 1032.6,477.8 1036.4,478.5 1040.2,478.4 1044,479 1047.8,479.9 1051.7,479.2 1055.5,479.4 1059.3,478.5 1063.1,478.7 1066.9,479.2 1070.7,478.9 1074.5,477.8 1078.3,479.3 1082.1,479.3 1085.9,478.9 1089.7,479.1 1093.5,479 1097.3,478.4 1101.2,477.7 1105,479.8 1108.8,478.7 1112.6,478.7 1116.4,478.8 1120.2,478.8 1124,478.9 1127.8,478.1 1131.6,479 1135.4,478.8 1139.2,478.7 1143,478.6 1146.9,478.8 1150.7,478.1 1154.5,478.7 1158.3,478.6 1162.1,478.7 1165.9,479.3 1169.7,479.2 1173.5,479.4 1177.3,478.6 1181.1,479.1" stroke="#BA43A9"/>
<polyline points="655.6,467.2 659.4,478.3 663.2,472.2 667,479.3 670.8,473.3 674.6,474.8 678.5,473.3 682.3,476.5 686.1,474.8 689.9,474 693.7,470.7 697.5,476.2 701.3,474.8 705.1,473.6 708.9,474.5 712.7,476.7 716.5,474 720.3,474.5 724.2,473.9 728,472.8 731.8,473 735.6,474 739.4,474.2 743.2,476.5 747,474.9 750.8,474.3 754.6,475.3 758.4,474.5 762.2,476 766,472.1 769.8,471.1 773.7,475.3 777.5,474 781.3,475.1 785.1,472.6 788.9,473.9 792.7,474.5 796.5,475 800.3,474.5 804.1,476.3 807.9,473.5 811.7,475.9 815.5,473.8 819.4,474.5 823.2,472.8 827,474.7 830.8,473 834.6,476.2 838.4,473.7 842.2,475 846,474.5 849.8,474.6 853.6,473.6 857.4,476.9 861.2,474.3 865.1,476.3 868.9,473.3 872.7,476.9 876.5,475.8 880.3,476.5 884.1,472.9 887.9,476.1 891.7,474.5 895.5,475.3 899.3,476.7 903.1,475 906.9,473.9 910.7,474.9 914.6,473.6 918.4,475.1 922.2,474.7 926,475.1 929.8,474.3 933.6,472.6 937.4,474.3 941.2,474.5 945,475.4 948.8,475.5 952.6,473 956.4,475.9 960.3,475.7 964.1,474.8 967.9,475.1 971.7,472.5 975.5,477.3 979.3,474.3 983.1,473.9 986.9,475.9 990.7,475.4 994.5,474.2 998.3,473.6 1002.1,475.3 1006,475.7 1009.8,474 1013.6,473.7 1017.4,474.9 1021.2,476.1 1025,473.7 1028.8,474.8 1032.6,473.9 1036.4,474.7 1040.2,474.9 1044,475 1047.8,473.7 1051.7,473.7 1055.5,476.1 1059.3,475.3 1063.1,473.5 1066.9,474.9 1070.7,475.6 1074.5,474.7 1078.3,474.7 1082.1,474.7 1085.9,475 1089.7,474.9 1093.5,475 1097.3,474.5 1101.2,475.2 1105,474.9 1108.8,474.8 1112.6,473.8 1116.4,474.4 1120.2,474.7 1124,474.3 1127.8,474.4 1131.6,473.9 1135.4,474.3 1139.2,473.5 1143,473.8 1146.9,474.7 1150.7,475 1154.5,474.1 1158.3,474.3 1162.1,474.7 1165.9,475.7 1169.7,475.9 1173.5,474.4 1177.3,474.2 1181.1,474.1 1184.9,497.5" stroke="#705DA0"/>
<polyline points="655.6,473.3 659.4,483.4 663.2,469.2 667,485.4 670.8,482.4 674.6,488.2 678.5,481.8 682.3,486.9 686.1,483.2 689.9,489.1 693.7,490.8 697.5,487.2 701.3,489.6 705.1,488.5 708.9,489.8 712.7,489.6 716.5,488.8 720.3,490.1 724.2,487.4 728,491.4 731.8,491.3 735.6,490.3 739.4,488 743.2,484.8 747,490.2 750.8,490.3 754.6,483 758.4,491.3 762.2,490.1 766,483.7 769.8,490.8 773.7,489.7 777.5,489.3 781.3,490.7 785.1,488.5 788.9,489.3 792.7,486.7 796.5,491.1 800.3,485.3 804.1,492.1 807.9,490.7 811.7,491.9 815.5,488.4 819.4,492.3 823.2,491.1 827,489.1 830.8,491.4 834.6,488.5 838.4,489.1 842.2,487.5 846,489.6 849.8,487.6 853.6,489.4 857.4,490.9 861.2,490.7 865.1,490.2 868.9,489.4 872.7,492.8 876.5,492.8 880.3,490.6 884.1,492.7 887.9,491.3 891.7,492.6 895.5,490.3 899.3,487.3 903.1,492.6 906.9,493 910.7,492.7 914.6,492.3 918.4,491.6 922.2,491.6 926,493.5 929.8,493.3 933.6,491.1 937.4,492.1 941.2,493.4 945,491.3 948.8,490.7 952.6,493.1 956.4,491 960.3,493.5 964.1,490.5 967.9,493.8 971.7,493.4 975.5,490.9 979.3,492.9 983.1,491 986.9,493.6 990.7,492.7 994.5,492.8 998.3,494.4 1002.1,494 1006,494.3 1009.8,493.1 1013.6,493.6 1017.4,493.6 1021.2,494.4 1025,493.2 1028.8,494.2 1032.6,493 1036.4,492.9 1040.2,490.9 1044,494.5 1047.8,490.6 1051.7,494.4 1055.5,493 1059.3,495.1 1063.1,492.9 1066.9,494.9 1070.7,494.2 1074.5,495.1 1078.3,494.7 1082.1,490.3 1085.9,495.3 1089.7,494.6 1093.5,494.7 1097.3,494.9 1101.2,495 1105,494.5 1108.8,495.4 1112.6,493.7 1116.4,495 1120.2,495.4 1124,495.4 1127.8,493.9 1131.6,495.2 1135.4,495 1139.2,495.9 1143,494.3 1146.9,496 1150.7,496 1154.5,494.9 1158.3,495.5 1162.1,495.3 1165.9,495.3 1169.7,493.8 1173.5,496 1177.3,494.8 1181.1,496" stroke="#6D1F62"/>
<polyline points="655.6,437.7 659.4,436.9 663.2,434.5 667,432.3 670.8,433.3 674.6,423.1 678.5,420.9 682.3,423.6 686.1,416 689.9,418.8 693.7,418.2 697.5,424.8 701.3,424.2 705.1,418.2 708.9,421.7 712.7,421.8 716.5,420.2 720.3,424.5 724.2,418.9 728,421 731.8,419.7 735.6,422.8 739.4,419.5 743.2,422.8 747,418.3 750.8,417.8 754.6,418.4 758.4,419.4 762.2,419.1 766,428.1 769.8,418.5 773.7,421.5 777.5,420.4 781.3,421.4 785.1,424.4 788.9,422.1 792.7,418.8 796.5,416.7 800.3,422.2 804.1,423 807.9,416.5 811.7,422.9 815.5,414.8 819.4,420.3 823.2,422.8 827,417.7 830.8,415.7 834.6,424.2 838.4,416.1 842.2,421.1 846,417.6 849.8,420.9 853.6,423.1 857.4,419.3 861.2,418.5 865.1,416.3 868.9,417 872.7,418.8 876.5,420.5 880.3,421 884.1,420.6 887.9,421.5 891.7,420.5 895.5,424.6 899.3,419.6 903.1,420 906.9,415.2 910.7,418.5 914.6,420.7 918.4,418.8 922.2,422 926,420.8 929.8,423.1 933.6,417.1 937.4,418.6 941.2,421.8 945,419.7 948.8,417.9 952.6,418.7 956.4,418.9 960.3,421.1 964.1,420.7 967.9,419.3 971.7,417.8 975.5,420.9 979.3,421.5 983.1,417.3 986.9,421.1 990.7,417.4 994.5,418.9 998.3,418.3 1002.1,417.4 1006,418.5 1009.8,418.4 1013.6,420.2 1017.4,419.9 1021.2,418.4 1025,417.5 1028.8,417.6 1032.6,416.6 1036.4,418.7 1040.2,418.8 1044,417.9 1047.8,419 1051.7,419 1055.5,420.1 1059.3,417.8 1063.1,420.1 1066.9,418.3 1070.7,420.4 1074.5,417.6 1078.3,419.9 1082.1,417.8 1085.9,420.5 1089.7,419.2 1093.5,417.4 1097.3,419.5 1101.2,418.6 1105,419.1 1108.8,421.1 1112.6,418.2 1116.4,418.1 1120.2,419.7 1124,417.9 1127.8,419.3 1131.6,419.5 1135.4,418.4 1139.2,419.1 1143,415.9 1146.9,420.1 1150.7,417.5 1154.5,417.2 1158.3,420.4 1162.1,420.1 1165.9,417.6 1169.7,418.7 1173.5,417.8 1177.3,416.9 1181.1,421.1 1184.9,497.5" stroke="#584477"/>
<polyline points="655.6,497.4 659.4,497.4 663.2,497.4 667,497.4 670.8,497.4 674.6,497.4 678.5,497.4 682.3,497.4 686.1,497.4 689.9,497.4 693.7,497.4 697.5,497.4 701.3,497.4 705.1,497.4 708.9,497.4 712.7,497.4 716.5,497.4 720.3,497.4 724.2,497.4 728,497.4 731.8,497.4 735.6,497.4 739.4,497.4 743.2,497.4 747,497.4 750.8,497.4 754.6,497.4 758.4,497.4 762.2,497.4 766,497.4 769.8,497.4 773.7,497.4 777.5,497.4 781.3,497.4 785.1,497.4 788.9,497.4 792.7,497.4 796.5,497.4 800.3,497.4 804.1,497.4 807.9,497.4 811.7,497.4 815.5,497.4 819.4,497.4 823.2,497.4 827,497.4 830.8,497.4 834.6,497.4 838.4,497.4 842.2,497.4 846,497.4 849.8,497.4 853.6,497.4 857.4,497.4 861.2,497.4 865.1,497.4 868.9,497.4 872.7,497.4 876.5,497.4 880.3,497.4 884.1,497.4 887.9,497.4 891.7,497.4 895.5,497.4 899.3,497.4 903.1,497.4 906.9,497.4 910.7,497.4 914.6,497.4 918.4,497.4 922.2,497.4 926,497.4 929.8,497.4 933.6,497.4 937.4,497.4 941.2,497.4 945,497.4 948.8,497.4 952.6,497.4 956.4,497.4 960.3,497.4 964.1,497.4 967.9,497.4 971.7,497.4 975.5,497.4 979.3,497.4 983.1,497.4 986.9,497.4 990.7,497.4 994.5,497.4 998.3,497.4 1002.1,497.4 1006,497.4 1009.8,497.4 1013.6,497.4 1017.4,497.4 1021.2,497.4 1025,497.4 1028.8,497.4 1032.6,497.4 1036.4,497.4 1040.2,497.4 1044,497.4 1047.8,497.4 1051.7,497.4 1055.5,497.4 1059.3,497.4 1063.1,497.4 1066.9,497.4 1070.7,497.4 1074.5,497.4 1078.3,497.4 1082.1,497.4 1085.9,497.4 1089.7,497.4 1093.5,497.4 1097.3,497.4 1101.2,497.4 1105,497.4 1108.8,497.4 1112.6,497.4 1116.4,497.4 1120.2,497.4 1124,497.4 1127.8,497.4 1131.6,497.4 1135.4,497.4 1139.2,497.4 1143,497.4 1146.9,497.4 1150.7,497.4 1154.5,497.4 1158.3,497.4 1162.1,497.4 1165.9,497.4 1169.7,497.4 1173.5,497.4 1177.3,497.4 1181.1,497.4 1184.9,497.4" stroke="#F4D598" stroke-width="1.6"/>
</g>
<rect x="625" y="537" width="14" height="4" rx="1" fill="#7EB26D"/>
<text x="653.2" y="541" textLength="32" lengthAdjust="spacingAndGlyphs">sdb-w</text>
<text x="697.7" y="541" textLength="50.1" lengthAdjust="spacingAndGlyphs">Avg: 6.31</text>
<text x="754.8" y="541" textLength="54" lengthAdjust="spacingAndGlyphs">Total: 871</text>
<rect x="819" y="537" width="14" height="4" rx="1" fill="#EAB839"/>
<text x="846.7" y="541" textLength="31.3" lengthAdjust="spacingAndGlyphs">sdc-w</text>
<text x="891.1" y="541" textLength="50.1" lengthAdjust="spacingAndGlyphs">Avg: 6.67</text>
<text x="948.3" y="541" textLength="54" lengthAdjust="spacingAndGlyphs">Total: 921</text>
<rect x="1012" y="537" width="14" height="4" rx="1" fill="#6ED0E0"/>
<text x="1040.3" y="541" textLength="32" lengthAdjust="spacingAndGlyphs">sdd-w</text>
<text x="1084.8" y="541" textLength="50.1" lengthAdjust="spacingAndGlyphs">Avg: 6.30</text>
<text x="1142.1" y="541" textLength="54" lengthAdjust="spacingAndGlyphs">Total: 869</text>
<rect x="625" y="558" width="14" height="4" rx="1" fill="#EF843C"/>
<text x="653.2" y="562" textLength="31.3" lengthAdjust="spacingAndGlyphs">sde-w</text>
<text x="697.4" y="562" textLength="50.1" lengthAdjust="spacingAndGlyphs">Avg: 6.54</text>
<text x="754.8" y="562" textLength="54" lengthAdjust="spacingAndGlyphs">Total: 903</text>
<rect x="818" y="558" width="14" height="4" rx="1" fill="#E24D42"/>
<text x="846.4" y="562" textLength="27" lengthAdjust="spacingAndGlyphs">sdb-r</text>
<text x="886.1" y="562" textLength="50.1" lengthAdjust="spacingAndGlyphs">Avg: 90.4</text>
<text x="943.6" y="562" textLength="67.7" lengthAdjust="spacingAndGlyphs">Total: 12481</text>
<rect x="625" y="579" width="14" height="4" rx="1" fill="#1F78C1"/>
<text x="653.2" y="583" textLength="26.3" lengthAdjust="spacingAndGlyphs">sdc-r</text>
<text x="692.4" y="583" textLength="50.1" lengthAdjust="spacingAndGlyphs">Avg: 90.7</text>
<text x="749.9" y="583" textLength="67.7" lengthAdjust="spacingAndGlyphs">Total: 12520</text>
<rect x="827" y="579" width="14" height="4" rx="1" fill="#BA43A9"/>
<text x="855.3" y="583" textLength="27.1" lengthAdjust="spacingAndGlyphs">sdd-r</text>
<text x="894.8" y="583" textLength="50.1" lengthAdjust="spacingAndGlyphs">Avg: 91.1</text>
<text x="951.9" y="583" textLength="67.7" lengthAdjust="spacingAndGlyphs">Total: 12571</text>
<text x="1521.5" y="366.4" text-anchor="middle" font-size="13.4" textLength="76.7" lengthAdjust="spacingAndGlyphs" stroke="#ccccdc" stroke-width="0.45">Per Disk BW</text>
<rect x="1366" y="396" width="1" height="102" fill="rgba(255,255,255,0.165)"/>
<rect x="1480" y="396" width="1" height="102" fill="rgba(255,255,255,0.165)"/>
<rect x="1595" y="396" width="1" height="102" fill="rgba(255,255,255,0.165)"/>
<rect x="1709" y="396" width="1" height="102" fill="rgba(255,255,255,0.165)"/>
<rect x="1273" y="396" width="526" height="1" fill="rgba(255,255,255,0.165)"/>
<rect x="1273" y="429" width="526" height="1" fill="rgba(255,255,255,0.165)"/>
<rect x="1273" y="463" width="526" height="1" fill="rgba(255,255,255,0.165)"/>
<rect x="1273" y="497" width="526" height="1" fill="rgba(255,255,255,0.165)"/>
<text x="1267.6" y="400.5" text-anchor="end" font-size="11.8" textLength="38.8" lengthAdjust="spacingAndGlyphs">6 MB/s</text>
<text x="1267.6" y="433.5" text-anchor="end" font-size="11.8" textLength="38.8" lengthAdjust="spacingAndGlyphs">4 MB/s</text>
<text x="1267.6" y="467.5" text-anchor="end" font-size="11.8" textLength="38.8" lengthAdjust="spacingAndGlyphs">2 MB/s</text>
<text x="1267.6" y="501.5" text-anchor="end" font-size="11.8" textLength="34.4" lengthAdjust="spacingAndGlyphs">0 kB/s</text>
<text x="1366.5" y="516.1" text-anchor="middle" font-size="11.8" textLength="29.9" lengthAdjust="spacingAndGlyphs">14:20</text>
<text x="1480.5" y="516.1" text-anchor="middle" font-size="11.8" textLength="29.9" lengthAdjust="spacingAndGlyphs">14:25</text>
<text x="1595.5" y="516.1" text-anchor="middle" font-size="11.8" textLength="29.9" lengthAdjust="spacingAndGlyphs">14:30</text>
<text x="1709.5" y="516.1" text-anchor="middle" font-size="11.8" textLength="29.9" lengthAdjust="spacingAndGlyphs">14:35</text>
<clipPath id="c6"><rect x="1273" y="395" width="527" height="103"/></clipPath>
<g clip-path="url(#c6)" fill="none" stroke-width="1" stroke-linejoin="round">
<polyline points="1266.6,497.4 1270.4,497.5 1274.2,497.2 1278,497.4 1281.9,497.3 1285.7,497.1 1289.5,497.5 1293.3,497.5 1297.2,497.3 1301,497.4 1304.8,497.3 1308.6,497.3 1312.5,497.5 1316.3,497.4 1320.1,497.4 1323.9,497.4 1327.7,497.3 1331.6,497.3 1335.4,497.2 1339.2,497.4 1343,497.3 1346.9,497.4 1350.7,497.3 1354.5,497.4 1358.3,497.4 1362.1,497.4 1366,497.2 1369.8,497.3 1373.6,496.7 1377.4,495 1381.3,495.8 1385.1,495.5 1388.9,496.5 1392.7,497.2 1396.6,497.3 1400.4,497.3 1404.2,497.4 1408,497.2 1411.8,497.1 1415.7,497.5 1419.5,497.5 1423.3,497.4 1427.1,497.3 1431,497.1 1434.8,497.5 1438.6,497.1 1442.4,497.4 1446.2,497.5 1450.1,497.4 1453.9,497.4 1457.7,497.5 1461.5,497.3 1465.4,497.5 1469.2,497.4 1473,497.4 1476.8,497.4 1480.6,497.5 1484.5,497.3 1488.3,497.4 1492.1,497.5 1495.9,497.1 1499.8,497.4 1503.6,497.4 1507.4,497.3 1511.2,497.2 1515.1,497.3 1518.9,497.3 1522.7,497.3 1526.5,497.4 1530.3,497.5 1534.2,497.3 1538,497.5 1541.8,497.5 1545.6,497.4 1549.5,497.2 1553.3,497.3 1557.1,497.5 1560.9,497.3 1564.7,497.4 1568.6,497.4 1572.4,497.4 1576.2,497.3 1580,497.4 1583.9,497.5 1587.7,497.4 1591.5,497.4 1595.3,497.4 1599.2,497.4 1603,497.1 1606.8,497.3 1610.6,497.4 1614.4,497.3 1618.3,497.5 1622.1,497.4 1625.9,497.3 1629.7,497.4 1633.6,497.3 1637.4,497.3 1641.2,497.5 1645,497.3 1648.8,497.3 1652.7,497.5 1656.5,497.4 1660.3,497.5 1664.1,497.4 1668,497.3 1671.8,497.3 1675.6,497.3 1679.4,497.4 1683.3,497.3 1687.1,497.5 1690.9,497.3 1694.7,497.5 1698.5,497.5 1702.4,497.5 1706.2,497.4 1710,497.4 1713.8,497.5 1717.7,497.3 1721.5,497.5 1725.3,497.4 1729.1,497.4 1732.9,497.5 1736.8,497.5 1740.6,497.2 1744.4,497.2 1748.2,497.4 1752.1,497.4 1755.9,497.4 1759.7,497.3 1763.5,497.3 1767.3,497.4 1771.2,497.5 1775,497.3 1778.8,497.3 1782.6,497.4 1786.5,497.5 1790.3,497.5 1794.1,497.5" stroke="#508642"/>
<polyline points="1266.6,487.6 1270.4,484.9 1274.2,486.6 1278,483.7 1281.9,485.1 1285.7,490.1 1289.5,479.8 1293.3,480.5 1297.2,482.3 1301,488 1304.8,481.5 1308.6,487.6 1312.5,486.2 1316.3,487 1320.1,486 1323.9,483.5 1327.7,479.8 1331.6,483.7 1335.4,479.9 1339.2,482.2 1343,488.3 1346.9,485.1 1350.7,485.1 1354.5,482.6 1358.3,484.4 1362.1,483.1 1366,485.5 1369.8,481.6 1373.6,489.3 1377.4,484 1381.3,482.3 1385.1,481.2 1388.9,486.7 1392.7,490.6 1396.6,483.7 1400.4,488.6 1404.2,483.4 1408,485.4 1411.8,480.8 1415.7,480.4 1419.5,490.2 1423.3,485.9 1427.1,490.2 1431,485.2 1434.8,485.8 1438.6,483.4 1442.4,484.9 1446.2,492.5 1450.1,482.3 1453.9,482.9 1457.7,485.5 1461.5,485.8 1465.4,485.6 1469.2,487.5 1473,489.3 1476.8,484.7 1480.6,486.8 1484.5,484.4 1488.3,482.8 1492.1,484.3 1495.9,485.3 1499.8,492.7 1503.6,489.4 1507.4,487 1511.2,488.5 1515.1,489 1518.9,490 1522.7,487.8 1526.5,485.5 1530.3,485 1534.2,486.2 1538,488 1541.8,486.5 1545.6,488.4 1549.5,488.3 1553.3,487.5 1557.1,484 1560.9,485.1 1564.7,484.8 1568.6,490 1572.4,488.2 1576.2,492.5 1580,488.2 1583.9,487.7 1587.7,483.4 1591.5,485.4 1595.3,485.8 1599.2,488.6 1603,491.7 1606.8,487 1610.6,488.2 1614.4,488.4 1618.3,487.1 1622.1,489.7 1625.9,489.5 1629.7,490.9 1633.6,490.2 1637.4,493.8 1641.2,486.9 1645,489.8 1648.8,489.3 1652.7,487.7 1656.5,486.9 1660.3,488.1 1664.1,489.9 1668,488.8 1671.8,490.5 1675.6,487.8 1679.4,492.4 1683.3,490.9 1687.1,490.8 1690.9,488.4 1694.7,489.4 1698.5,490.8 1702.4,488.8 1706.2,489.5 1710,488.5 1713.8,487.4 1717.7,491.2 1721.5,489.7 1725.3,492.2 1729.1,492.8 1732.9,492.8 1736.8,489 1740.6,490.6 1744.4,492.1 1748.2,490.4 1752.1,487.7 1755.9,491 1759.7,490.6 1763.5,492.6 1767.3,489.9 1771.2,494.1 1775,491.9 1778.8,488 1782.6,492.2 1786.5,490.7 1790.3,492.6 1794.1,491.5" stroke="#7EB26D"/>
<polyline points="1266.6,490.8 1270.4,484.2 1274.2,487 1278,482.6 1281.9,481.8 1285.7,489 1289.5,483.9 1293.3,481 1297.2,479 1301,486.2 1304.8,485.9 1308.6,481.9 1312.5,488.1 1316.3,486.1 1320.1,485.2 1323.9,484 1327.7,483.6 1331.6,482.9 1335.4,483.4 1339.2,484.8 1343,491.8 1346.9,486.3 1350.7,486 1354.5,481.4 1358.3,487.1 1362.1,485.9 1366,484.4 1369.8,483.7 1373.6,484.6 1377.4,485.6 1381.3,487.8 1385.1,487 1388.9,484.6 1392.7,488.9 1396.6,482.8 1400.4,490.7 1404.2,488 1408,488.3 1411.8,484.5 1415.7,481.4 1419.5,486 1423.3,486.8 1427.1,489 1431,481.9 1434.8,485.6 1438.6,482.7 1442.4,486.7 1446.2,493.4 1450.1,485 1453.9,484.3 1457.7,487.4 1461.5,487.2 1465.4,486.8 1469.2,486.7 1473,488.6 1476.8,486 1480.6,489.8 1484.5,491.5 1488.3,485.1 1492.1,488.2 1495.9,490.6 1499.8,489.6 1503.6,486.9 1507.4,489.5 1511.2,486.6 1515.1,489.6 1518.9,490.9 1522.7,489.5 1526.5,490.3 1530.3,488.2 1534.2,488 1538,490.7 1541.8,486.7 1545.6,489 1549.5,490.7 1553.3,490 1557.1,484.4 1560.9,488 1564.7,485.6 1568.6,490 1572.4,490.3 1576.2,492.2 1580,489.2 1583.9,488 1587.7,484.7 1591.5,483.9 1595.3,488.2 1599.2,488.6 1603,488.3 1606.8,490.4 1610.6,489.3 1614.4,491.7 1618.3,487.5 1622.1,490.1 1625.9,492.2 1629.7,491.5 1633.6,490.6 1637.4,491.1 1641.2,489.9 1645,489.8 1648.8,489.3 1652.7,487.1 1656.5,487.9 1660.3,491.1 1664.1,488.5 1668,491.1 1671.8,489.9 1675.6,490.1 1679.4,491.6 1683.3,492.7 1687.1,491.1 1690.9,490.5 1694.7,491.9 1698.5,489.9 1702.4,489.6 1706.2,487.8 1710,490.3 1713.8,488.5 1717.7,492.6 1721.5,491.6 1725.3,490.9 1729.1,490.5 1732.9,491.3 1736.8,488.9 1740.6,490 1744.4,492 1748.2,490.1 1752.1,488 1755.9,490.8 1759.7,490 1763.5,491.4 1767.3,492.5 1771.2,492.1 1775,490.9 1778.8,488.9 1782.6,493.1 1786.5,491.3 1790.3,492.9 1794.1,492.5" stroke="#EAB839"/>
<polyline points="1266.6,490.1 1270.4,486.4 1274.2,486.5 1278,486 1281.9,485.1 1285.7,485.6 1289.5,479.1 1293.3,481.1 1297.2,482.4 1301,489.6 1304.8,485.7 1308.6,486.7 1312.5,486.1 1316.3,489.2 1320.1,484.6 1323.9,484.9 1327.7,483.6 1331.6,483.6 1335.4,481.5 1339.2,487.3 1343,490.9 1346.9,490.6 1350.7,487.1 1354.5,481.7 1358.3,484.7 1362.1,486.8 1366,486.3 1369.8,485.2 1373.6,488.8 1377.4,489.6 1381.3,489.1 1385.1,482 1388.9,489.2 1392.7,487.4 1396.6,482.7 1400.4,487.8 1404.2,485.6 1408,486.3 1411.8,483.5 1415.7,482.6 1419.5,487.3 1423.3,485.5 1427.1,487.6 1431,483.1 1434.8,485 1438.6,484 1442.4,486.8 1446.2,492.3 1450.1,484.2 1453.9,486.5 1457.7,488.5 1461.5,484.2 1465.4,487.8 1469.2,487.7 1473,490.2 1476.8,488.9 1480.6,489.7 1484.5,491.1 1488.3,486.1 1492.1,485.9 1495.9,487.8 1499.8,489.5 1503.6,487.1 1507.4,485.4 1511.2,487.3 1515.1,491.2 1518.9,488.5 1522.7,491.5 1526.5,489.2 1530.3,484.8 1534.2,485.3 1538,489.2 1541.8,487.2 1545.6,486.4 1549.5,491.2 1553.3,489.2 1557.1,486.6 1560.9,487.7 1564.7,488.1 1568.6,487.6 1572.4,488.3 1576.2,492.8 1580,489.6 1583.9,488.7 1587.7,485.4 1591.5,486 1595.3,487.4 1599.2,491.4 1603,490.7 1606.8,489.2 1610.6,488.2 1614.4,489.2 1618.3,489.8 1622.1,490.4 1625.9,493 1629.7,491.5 1633.6,491.8 1637.4,491.5 1641.2,489.2 1645,489.8 1648.8,491 1652.7,489.9 1656.5,487.4 1660.3,490.6 1664.1,490.1 1668,490.3 1671.8,490.1 1675.6,488 1679.4,491.2 1683.3,491 1687.1,492.7 1690.9,489.8 1694.7,490.5 1698.5,490.4 1702.4,488.9 1706.2,488.8 1710,487.6 1713.8,487.4 1717.7,491.2 1721.5,492.3 1725.3,488.5 1729.1,491.9 1732.9,490.5 1736.8,487.2 1740.6,492 1744.4,492.1 1748.2,491.1 1752.1,488.5 1755.9,490.6 1759.7,488.1 1763.5,491.3 1767.3,492.3 1771.2,491.6 1775,492.3 1778.8,490.2 1782.6,491.1 1786.5,491.1 1790.3,493.4 1794.1,492.5" stroke="#6ED0E0"/>
<polyline points="1266.6,492.5 1270.4,483 1274.2,488.5 1278,485.1 1281.9,484.5 1285.7,489.9 1289.5,482.5 1293.3,480.6 1297.2,476.8 1301,485.5 1304.8,484.3 1308.6,488.9 1312.5,485.6 1316.3,489.8 1320.1,482 1323.9,483.9 1327.7,483 1331.6,485.5 1335.4,482 1339.2,486.2 1343,487.2 1346.9,489.6 1350.7,487 1354.5,482.1 1358.3,485.8 1362.1,484.1 1366,483.9 1369.8,482.1 1373.6,484.8 1377.4,486 1381.3,485 1385.1,487.1 1388.9,485.2 1392.7,490.7 1396.6,486.3 1400.4,486.6 1404.2,485.2 1408,483.1 1411.8,480.2 1415.7,486 1419.5,486.6 1423.3,482.7 1427.1,487.3 1431,479.9 1434.8,484.3 1438.6,485.2 1442.4,488.3 1446.2,488.7 1450.1,482.1 1453.9,487.1 1457.7,486.7 1461.5,486.1 1465.4,488.2 1469.2,486 1473,487.4 1476.8,481.5 1480.6,487.9 1484.5,485.2 1488.3,484.4 1492.1,485.9 1495.9,490.5 1499.8,489 1503.6,488.1 1507.4,482.6 1511.2,486.8 1515.1,489.6 1518.9,492.1 1522.7,488 1526.5,488.1 1530.3,486.2 1534.2,488.3 1538,487.4 1541.8,486 1545.6,487.6 1549.5,488.5 1553.3,487.7 1557.1,482.6 1560.9,486.9 1564.7,483.8 1568.6,489 1572.4,489.1 1576.2,491.9 1580,491.5 1583.9,487.4 1587.7,483 1591.5,485.4 1595.3,488 1599.2,487.8 1603,492.3 1606.8,489.5 1610.6,487.1 1614.4,489.1 1618.3,488.5 1622.1,489.2 1625.9,489.3 1629.7,491.8 1633.6,490.9 1637.4,493.8 1641.2,490.2 1645,488.6 1648.8,489 1652.7,487.2 1656.5,487.8 1660.3,490.3 1664.1,486.5 1668,486.6 1671.8,489.8 1675.6,490.9 1679.4,490.3 1683.3,490.6 1687.1,489.4 1690.9,488.8 1694.7,487.7 1698.5,490.2 1702.4,488 1706.2,489.9 1710,489.3 1713.8,488.9 1717.7,490.5 1721.5,490.4 1725.3,490.8 1729.1,488.9 1732.9,492.3 1736.8,488.8 1740.6,490.2 1744.4,493.2 1748.2,489.6 1752.1,487.6 1755.9,490.7 1759.7,487.4 1763.5,491.3 1767.3,491.5 1771.2,493.1 1775,493.2 1778.8,489.8 1782.6,492.8 1786.5,490.2 1790.3,491.9 1794.1,493.8" stroke="#EF843C"/>
<polyline points="1266.6,492 1270.4,481.6 1274.2,487.6 1278,484.3 1281.9,485.3 1285.7,485.5 1289.5,480.3 1293.3,479.5 1297.2,484.8 1301,484 1304.8,484.3 1308.6,484.1 1312.5,482.3 1316.3,487.2 1320.1,483.1 1323.9,481.1 1327.7,481.4 1331.6,485.1 1335.4,479.8 1339.2,483.4 1343,486.3 1346.9,484.2 1350.7,483.8 1354.5,476.5 1358.3,487 1362.1,484.5 1366,481.6 1369.8,482.7 1373.6,487.9 1377.4,482.5 1381.3,484.9 1385.1,485.1 1388.9,483.6 1392.7,490.5 1396.6,485.9 1400.4,486.3 1404.2,484.7 1408,485.6 1411.8,482.1 1415.7,483.6 1419.5,485.7 1423.3,485.6 1427.1,487 1431,482.5 1434.8,486.2 1438.6,484.3 1442.4,486.2 1446.2,486.7 1450.1,481.4 1453.9,486.4 1457.7,484 1461.5,487.9 1465.4,482.9 1469.2,485.4 1473,488.3 1476.8,483.3 1480.6,487.7 1484.5,487 1488.3,484.6 1492.1,484.1 1495.9,485.1 1499.8,485.9 1503.6,485.8 1507.4,485.4 1511.2,488.4 1515.1,487.7 1518.9,491.6 1522.7,491.2 1526.5,486.4 1530.3,487.2 1534.2,482.2 1538,486.6 1541.8,487.8 1545.6,486.9 1549.5,490.2 1553.3,489.9 1557.1,482.6 1560.9,485.5 1564.7,485.1 1568.6,487.8 1572.4,488.5 1576.2,490.4 1580,490.5 1583.9,485.6 1587.7,481.5 1591.5,483.2 1595.3,487 1599.2,488.2 1603,487.3 1606.8,486.2 1610.6,489.3 1614.4,490.2 1618.3,486.6 1622.1,488.3 1625.9,492.6 1629.7,490 1633.6,491.9 1637.4,488.4 1641.2,486.7 1645,489.1 1648.8,489 1652.7,485.6 1656.5,485.7 1660.3,490.9 1664.1,486.7 1668,489.9 1671.8,490 1675.6,490.1 1679.4,493.2 1683.3,491.8 1687.1,491 1690.9,487.9 1694.7,489 1698.5,490.1 1702.4,489.5 1706.2,486.3 1710,490.5 1713.8,489.9 1717.7,489.3 1721.5,489.6 1725.3,488.4 1729.1,490.6 1732.9,492.3 1736.8,488.3 1740.6,489.5 1744.4,492.4 1748.2,490.6 1752.1,489.2 1755.9,491.2 1759.7,487.9 1763.5,490.5 1767.3,492.7 1771.2,493 1775,491.8 1778.8,488.2 1782.6,493.4 1786.5,489.5 1790.3,494.1 1794.1,493" stroke="#508642"/>
<polyline points="1266.6,487.2 1270.4,487.6 1274.2,488.7 1278,482.8 1281.9,484.9 1285.7,489.2 1289.5,479.8 1293.3,481 1297.2,479.8 1301,485.7 1304.8,487.2 1308.6,486.4 1312.5,486 1316.3,490.3 1320.1,485.8 1323.9,481.9 1327.7,486.6 1331.6,483.6 1335.4,480.7 1339.2,483.7 1343,487.5 1346.9,486.1 1350.7,482.5 1354.5,482.7 1358.3,485.2 1362.1,485.5 1366,482.5 1369.8,481.1 1373.6,487.3 1377.4,487 1381.3,488.3 1385.1,483.8 1388.9,485.8 1392.7,484.8 1396.6,487.7 1400.4,485 1404.2,484 1408,485.8 1411.8,482.9 1415.7,483.7 1419.5,486.7 1423.3,484.7 1427.1,491.7 1431,480.6 1434.8,485.4 1438.6,480.5 1442.4,486 1446.2,488.1 1450.1,483.1 1453.9,484.4 1457.7,486.4 1461.5,488.1 1465.4,484.5 1469.2,484.6 1473,486.9 1476.8,488.4 1480.6,488.3 1484.5,486.7 1488.3,485.9 1492.1,485.3 1495.9,484.5 1499.8,488.5 1503.6,489 1507.4,484.3 1511.2,485.8 1515.1,488.9 1518.9,489 1522.7,490.1 1526.5,489 1530.3,487 1534.2,484.6 1538,488.8 1541.8,485 1545.6,487.4 1549.5,491.7 1553.3,489 1557.1,483.9 1560.9,486.8 1564.7,486.4 1568.6,490 1572.4,486.4 1576.2,492.3 1580,488.1 1583.9,486.9 1587.7,486.3 1591.5,484.1 1595.3,489.8 1599.2,489.6 1603,489.3 1606.8,489.8 1610.6,487 1614.4,490.3 1618.3,488.3 1622.1,487.8 1625.9,492.1 1629.7,491.6 1633.6,493.3 1637.4,492.9 1641.2,487.2 1645,488.9 1648.8,489.2 1652.7,488.5 1656.5,486.6 1660.3,492.1 1664.1,488.1 1668,489.2 1671.8,490.7 1675.6,489 1679.4,492.7 1683.3,492.3 1687.1,488.4 1690.9,488.4 1694.7,489.2 1698.5,490.3 1702.4,487.8 1706.2,487.2 1710,487.5 1713.8,485.8 1717.7,490.9 1721.5,490.6 1725.3,490.2 1729.1,493 1732.9,492.8 1736.8,488.5 1740.6,490 1744.4,492.6 1748.2,489.2 1752.1,487.2 1755.9,490.9 1759.7,488.1 1763.5,489.8 1767.3,491.5 1771.2,493.2 1775,490.4 1778.8,489.5 1782.6,493 1786.5,489.8 1790.3,493.1 1794.1,491.3" stroke="#CCA300"/>
<polyline points="1266.6,480.4 1270.4,476.8 1274.2,483.8 1278,477.4 1281.9,473.9 1285.7,484.1 1289.5,463.9 1293.3,473 1297.2,475 1301,478 1304.8,477.3 1308.6,479.9 1312.5,480 1316.3,480.7 1320.1,473.6 1323.9,473.7 1327.7,476.4 1331.6,477.5 1335.4,469.5 1339.2,473.1 1343,489.7 1346.9,483.9 1350.7,480.1 1354.5,473.7 1358.3,476.9 1362.1,475 1366,477.9 1369.8,475.2 1373.6,478.6 1377.4,474.7 1381.3,482.7 1385.1,475.2 1388.9,475.1 1392.7,483.3 1396.6,482.7 1400.4,479.8 1404.2,478.7 1408,477.5 1411.8,471.3 1415.7,473.3 1419.5,481.4 1423.3,477.8 1427.1,483.1 1431,474.3 1434.8,476.8 1438.6,474.3 1442.4,481.4 1446.2,487.1 1450.1,476.4 1453.9,482.2 1457.7,483.5 1461.5,477.5 1465.4,479.5 1469.2,479.2 1473,486.4 1476.8,478.5 1480.6,482.6 1484.5,483 1488.3,478.2 1492.1,475.7 1495.9,483.8 1499.8,484.3 1503.6,486.7 1507.4,482.8 1511.2,479.7 1515.1,486.2 1518.9,486.6 1522.7,485.6 1526.5,484.6 1530.3,479.7 1534.2,483.5 1538,485.2 1541.8,483.6 1545.6,479.8 1549.5,482.1 1553.3,485.3 1557.1,473.4 1560.9,482.8 1564.7,484.7 1568.6,488.3 1572.4,480 1576.2,488.1 1580,485.6 1583.9,482 1587.7,479.8 1591.5,476.8 1595.3,481.5 1599.2,479.8 1603,485.9 1606.8,488.8 1610.6,481 1614.4,486.8 1618.3,482.7 1622.1,483.6 1625.9,489.2 1629.7,485.7 1633.6,488.8 1637.4,490.3 1641.2,481.7 1645,486.3 1648.8,482.3 1652.7,480.4 1656.5,481.6 1660.3,484.9 1664.1,481.2 1668,484.6 1671.8,483.7 1675.6,484.9 1679.4,487.7 1683.3,489.7 1687.1,486.2 1690.9,483.8 1694.7,488 1698.5,487.1 1702.4,484.9 1706.2,481.5 1710,485.2 1713.8,482.5 1717.7,484.3 1721.5,486.6 1725.3,488.6 1729.1,487 1732.9,486.2 1736.8,483.9 1740.6,485 1744.4,488 1748.2,485.7 1752.1,483.8 1755.9,487.4 1759.7,485.3 1763.5,488 1767.3,488 1771.2,488.7 1775,488.9 1778.8,484.7 1782.6,489.4 1786.5,487.9 1790.3,491 1794.1,490.3" stroke="#E24D42"/>
<polyline points="1266.6,484.5 1270.4,478.7 1274.2,483.6 1278,474.3 1281.9,475.1 1285.7,487.5 1289.5,470.7 1293.3,475 1297.2,467.3 1301,482.4 1304.8,480.3 1308.6,479 1312.5,479.4 1316.3,481.7 1320.1,470.7 1323.9,474.7 1327.7,472.2 1331.6,474.8 1335.4,474.4 1339.2,469.5 1343,480.9 1346.9,477.6 1350.7,479.9 1354.5,469.7 1358.3,475.5 1362.1,479 1366,472 1369.8,472.4 1373.6,478.9 1377.4,478.9 1381.3,477.6 1385.1,472 1388.9,477.4 1392.7,480.3 1396.6,471.9 1400.4,484 1404.2,478.4 1408,479.3 1411.8,473.3 1415.7,469.8 1419.5,478.3 1423.3,482.6 1427.1,484.7 1431,471.1 1434.8,478.5 1438.6,474.5 1442.4,479.3 1446.2,490.3 1450.1,473.8 1453.9,478.4 1457.7,478.4 1461.5,482.7 1465.4,480.3 1469.2,480.1 1473,485 1476.8,477.8 1480.6,481.9 1484.5,478.2 1488.3,472.5 1492.1,479.1 1495.9,483.3 1499.8,482.3 1503.6,482.5 1507.4,476.5 1511.2,477.7 1515.1,486.8 1518.9,485.3 1522.7,485.9 1526.5,483.8 1530.3,481.6 1534.2,479.4 1538,481.8 1541.8,482.7 1545.6,481 1549.5,484.7 1553.3,486.1 1557.1,473 1560.9,485.6 1564.7,481.3 1568.6,482.4 1572.4,485.9 1576.2,486.3 1580,481.2 1583.9,481.7 1587.7,476.5 1591.5,481.4 1595.3,479.8 1599.2,482.8 1603,484.7 1606.8,481.5 1610.6,481.3 1614.4,483 1618.3,480.5 1622.1,488.7 1625.9,487.9 1629.7,486.7 1633.6,491.4 1637.4,486 1641.2,482.1 1645,484.1 1648.8,485.9 1652.7,481.6 1656.5,480.7 1660.3,486.3 1664.1,481.7 1668,487.4 1671.8,482.4 1675.6,486.2 1679.4,492.3 1683.3,489.5 1687.1,487.6 1690.9,483.2 1694.7,487.9 1698.5,485.6 1702.4,485.3 1706.2,478.4 1710,482.7 1713.8,479.4 1717.7,488.2 1721.5,485.8 1725.3,487.3 1729.1,485.9 1732.9,486.5 1736.8,485.7 1740.6,488.3 1744.4,490.6 1748.2,488.5 1752.1,484.1 1755.9,487.8 1759.7,486.8 1763.5,487.7 1767.3,487.7 1771.2,491.1 1775,489.1 1778.8,484.5 1782.6,490 1786.5,486.4 1790.3,488.6 1794.1,487.9" stroke="#1F78C1"/>
<polyline points="1266.6,484.8 1270.4,473 1274.2,476.6 1278,478.4 1281.9,477.2 1285.7,479.6 1289.5,474.2 1293.3,471.5 1297.2,473.5 1301,483.8 1304.8,480.5 1308.6,484.8 1312.5,481.2 1316.3,488.2 1320.1,469.7 1323.9,471.9 1327.7,472.1 1331.6,478.3 1335.4,469.5 1339.2,472 1343,480.7 1346.9,478.6 1350.7,480.8 1354.5,472.1 1358.3,479.4 1362.1,481.8 1366,483.5 1369.8,473.9 1373.6,475.9 1377.4,484.4 1381.3,476.1 1385.1,472.2 1388.9,481.1 1392.7,485.8 1396.6,477.4 1400.4,478.4 1404.2,479 1408,480.6 1411.8,473.7 1415.7,480.4 1419.5,480.6 1423.3,477.4 1427.1,483.7 1431,472.9 1434.8,476.7 1438.6,473.5 1442.4,480.5 1446.2,488.2 1450.1,477.4 1453.9,480.3 1457.7,477.6 1461.5,477.1 1465.4,478.2 1469.2,481.2 1473,488 1476.8,479.3 1480.6,479.6 1484.5,482.6 1488.3,476.8 1492.1,480.1 1495.9,480.4 1499.8,486.3 1503.6,482.6 1507.4,480.4 1511.2,478.4 1515.1,486.4 1518.9,481.5 1522.7,483.8 1526.5,482.4 1530.3,478.2 1534.2,479.6 1538,486.2 1541.8,483 1545.6,483.3 1549.5,483.1 1553.3,483.7 1557.1,476.1 1560.9,480.1 1564.7,484.9 1568.6,483.6 1572.4,487.3 1576.2,487.7 1580,486.3 1583.9,480.5 1587.7,475.1 1591.5,483.3 1595.3,481.2 1599.2,483.8 1603,489.5 1606.8,483.7 1610.6,482.9 1614.4,487.3 1618.3,483.9 1622.1,482 1625.9,489.6 1629.7,491.5 1633.6,490.7 1637.4,489.7 1641.2,483.7 1645,485.5 1648.8,486.7 1652.7,481.5 1656.5,482.9 1660.3,488.6 1664.1,484 1668,485 1671.8,484 1675.6,483.9 1679.4,489.6 1683.3,488.2 1687.1,486.2 1690.9,481.3 1694.7,487.9 1698.5,485.8 1702.4,483 1706.2,484.6 1710,484 1713.8,483.2 1717.7,487.8 1721.5,486.5 1725.3,484.5 1729.1,485.6 1732.9,488.4 1736.8,483.4 1740.6,483.3 1744.4,490.8 1748.2,486.2 1752.1,482.3 1755.9,486.6 1759.7,484.2 1763.5,488 1767.3,487.8 1771.2,487.7 1775,489 1778.8,484.8 1782.6,490.1 1786.5,486.5 1790.3,490.1 1794.1,490.9" stroke="#BA43A9"/>
<polyline points="1266.6,477.3 1270.4,471.3 1274.2,475.8 1278,478.2 1281.9,469.7 1285.7,483.9 1289.5,469.3 1293.3,463.9 1297.2,474.6 1301,477.3 1304.8,477 1308.6,478.7 1312.5,480.6 1316.3,479.2 1320.1,475.8 1323.9,470.7 1327.7,469.4 1331.6,481.8 1335.4,471.5 1339.2,474.6 1343,486.2 1346.9,483.5 1350.7,475.7 1354.5,471.5 1358.3,481.3 1362.1,478 1366,476.5 1369.8,476.8 1373.6,480.1 1377.4,473.3 1381.3,475.1 1385.1,479.4 1388.9,482.5 1392.7,481.9 1396.6,478.8 1400.4,480.2 1404.2,477.2 1408,473.7 1411.8,478.3 1415.7,478.6 1419.5,482.8 1423.3,475.7 1427.1,483.5 1431,477.5 1434.8,474.4 1438.6,470.9 1442.4,479.8 1446.2,485.8 1450.1,473.4 1453.9,474.9 1457.7,478.4 1461.5,477.8 1465.4,477.4 1469.2,478.5 1473,487.4 1476.8,476.1 1480.6,482.1 1484.5,482.5 1488.3,472 1492.1,474.9 1495.9,478.6 1499.8,489.9 1503.6,479.4 1507.4,480.2 1511.2,482.6 1515.1,487 1518.9,480.9 1522.7,483.4 1526.5,482.7 1530.3,481.1 1534.2,477.3 1538,484.1 1541.8,476.7 1545.6,483.1 1549.5,487.2 1553.3,482.8 1557.1,475.1 1560.9,479.8 1564.7,477.1 1568.6,478 1572.4,482.8 1576.2,488.3 1580,487.1 1583.9,478.3 1587.7,473.8 1591.5,478.5 1595.3,477.3 1599.2,482.1 1603,481.1 1606.8,482.9 1610.6,483.6 1614.4,486.5 1618.3,484.1 1622.1,489.4 1625.9,487.3 1629.7,485.2 1633.6,483.9 1637.4,488.2 1641.2,481.8 1645,486.3 1648.8,481.4 1652.7,480.1 1656.5,481.5 1660.3,483.6 1664.1,479.8 1668,486.5 1671.8,482.8 1675.6,483.1 1679.4,488.8 1683.3,488 1687.1,482.1 1690.9,480.5 1694.7,482.2 1698.5,487.6 1702.4,484 1706.2,479.7 1710,485.1 1713.8,483.2 1717.7,489.2 1721.5,483 1725.3,483.1 1729.1,485.5 1732.9,486.6 1736.8,482.9 1740.6,486.5 1744.4,487.1 1748.2,486.6 1752.1,480 1755.9,486.5 1759.7,485.2 1763.5,485.2 1767.3,488.2 1771.2,487.7 1775,488.3 1778.8,486.8 1782.6,488.4 1786.5,486.7 1790.3,487.7 1794.1,490.8" stroke="#705DA0"/>
<polyline points="1266.6,477 1270.4,476.5 1274.2,475.6 1278,473.9 1281.9,472.2 1285.7,471.9 1289.5,471.6 1293.3,471.7 1297.2,471.6 1301,471 1304.8,471.7 1308.6,471.2 1312.5,471.1 1316.3,472.1 1320.1,471.9 1323.9,471.6 1327.7,471.7 1331.6,471.3 1335.4,472.2 1339.2,471.1 1343,471.1 1346.9,471.5 1350.7,472 1354.5,471.4 1358.3,471.6 1362.1,471.2 1366,471.4 1369.8,471.1 1373.6,471.6 1377.4,470.8 1381.3,472.4 1385.1,471.8 1388.9,471.2 1392.7,472 1396.6,471.1 1400.4,471.9 1404.2,471.4 1408,471.8 1411.8,471.6 1415.7,471.3 1419.5,471.5 1423.3,471.6 1427.1,470.5 1431,471.4 1434.8,471.8 1438.6,471 1442.4,471.1 1446.2,470.9 1450.1,470.7 1453.9,471.8 1457.7,471 1461.5,470.9 1465.4,471.4 1469.2,471.3 1473,472.7 1476.8,471.6 1480.6,470.7 1484.5,472.2 1488.3,471.6 1492.1,471.3 1495.9,471.2 1499.8,470.7 1503.6,472.2 1507.4,471.4 1511.2,471 1515.1,472 1518.9,471.4 1522.7,470.6 1526.5,470.9 1530.3,471.2 1534.2,472.5 1538,471.5 1541.8,471.2 1545.6,471.5 1549.5,471.4 1553.3,470.1 1557.1,471.5 1560.9,471.8 1564.7,471.3 1568.6,471.5 1572.4,471.5 1576.2,471.4 1580,471.1 1583.9,471.3 1587.7,471.9 1591.5,471.5 1595.3,471.2 1599.2,471.6 1603,470.9 1606.8,471.1 1610.6,471.8 1614.4,471.3 1618.3,470.6 1622.1,470.8 1625.9,471.4 1629.7,471 1633.6,471.7 1637.4,472 1641.2,471.2 1645,471.3 1648.8,471.2 1652.7,471.4 1656.5,471.3 1660.3,471.6 1664.1,471.2 1668,471.1 1671.8,471.4 1675.6,471.1 1679.4,472.2 1683.3,471.7 1687.1,470.8 1690.9,470.7 1694.7,471.3 1698.5,471.5 1702.4,471.9 1706.2,471.3 1710,471.1 1713.8,472 1717.7,471.2 1721.5,471.2 1725.3,471.2 1729.1,471.9 1732.9,471.2 1736.8,472 1740.6,470.8 1744.4,471.4 1748.2,471.9 1752.1,470.8 1755.9,470.9 1759.7,471.7 1763.5,470.5 1767.3,471.8 1771.2,471.3 1775,470.9 1778.8,472.4 1782.6,471 1786.5,471.4 1790.3,471.4 1794.1,472.2 1797.9,497.5" stroke="#584477"/>
<polyline points="1266.6,466.1 1270.4,463.3 1274.2,455.4 1278,448.7 1281.9,457.1 1285.7,447 1289.5,433.5 1293.3,453.7 1297.2,438.6 1301,450.4 1304.8,430.2 1308.6,441.9 1312.5,436.9 1316.3,440.3 1320.1,440.3 1323.9,445.3 1327.7,415.9 1331.6,436.9 1335.4,457.9 1339.2,443.6 1343,428.5 1346.9,413.3 1350.7,436.9 1354.5,450.4 1358.3,447 1362.1,458.8 1366,447 1369.8,452.1 1373.6,466.4 1377.4,465.5 1381.3,455.4 1385.1,436.9 1388.9,431.9 1392.7,438.6 1396.6,431.9 1400.4,460.5 1404.2,448.7 1408,472.2 1411.8,468.9 1415.7,463.8 1419.5,461.3 1423.3,462.1 1427.1,455.4 1431,434.4 1434.8,452.1 1438.6,461.3 1442.4,441.1 1446.2,453.7 1450.1,462.1 1453.9,462.1 1457.7,450.4 1461.5,457.1 1465.4,457.9 1469.2,473.9 1473,463.8 1476.8,458.8 1480.6,442.8 1484.5,472.2 1488.3,455.4 1492.1,463.8 1495.9,441.9 1499.8,487.4 1503.6,467.3 1507.4,464.4 1511.2,462.1 1515.1,476 1518.9,484.5 1522.7,463.1 1526.5,481.3 1530.3,464.4 1534.2,465.9 1538,456.8 1541.8,452.3 1545.6,464.1 1549.5,472.5 1553.3,478.2 1557.1,474.8 1560.9,467.4 1564.7,486.3 1568.6,467.3 1572.4,468.1 1576.2,462.4 1580,471.2 1583.9,467.4 1587.7,474.8 1591.5,472.5 1595.3,483.9 1599.2,467.6 1603,455.3 1606.8,467.4 1610.6,465.7 1614.4,477.4 1618.3,456.8 1622.1,475.7 1625.9,462.4 1629.7,468.4 1633.6,477.5 1637.4,460.8 1641.2,469.4 1645,468.1 1648.8,466 1652.7,470.1 1656.5,473.3 1660.3,466.6 1664.1,473.8 1668,470.3 1671.8,476.3 1675.6,483 1679.4,476.7 1683.3,475.5 1687.1,471.7 1690.9,463 1694.7,485 1698.5,471.5 1702.4,489.1 1706.2,480.6 1710,476.8 1713.8,489.7 1717.7,486.9 1721.5,472.2 1725.3,447 1729.1,468.9 1732.9,477.3 1736.8,461.3 1740.6,473.9 1744.4,455.4 1748.2,472.2 1752.1,490.8 1755.9,480.3 1759.7,472 1763.5,478.4 1767.3,476.4 1771.2,482.4 1775,486.6 1778.8,487.4 1782.6,482.4 1786.5,488.2 1790.3,485.7 1794.1,475.6" stroke="#6D1F62"/>
<polyline points="1266.6,497.2 1270.4,497.2 1274.2,497.2 1278,497.2 1281.9,497.2 1285.7,497.2 1289.5,497.2 1293.3,497.2 1297.2,497.2 1301,497.2 1304.8,497.2 1308.6,497.2 1312.5,497.2 1316.3,497.2 1320.1,497.2 1323.9,497.2 1327.7,497.2 1331.6,497.2 1335.4,497.2 1339.2,497.2 1343,497.2 1346.9,497.2 1350.7,497.2 1354.5,497.2 1358.3,497.2 1362.1,497.2 1366,497.2 1369.8,497.2 1373.6,497.2 1377.4,497.2 1381.3,497.2 1385.1,497.2 1388.9,497.2 1392.7,497.2 1396.6,497.2 1400.4,497.2 1404.2,497.2 1408,497.2 1411.8,497.2 1415.7,497.2 1419.5,497.2 1423.3,497.2 1427.1,497.2 1431,497.2 1434.8,497.2 1438.6,497.2 1442.4,497.2 1446.2,497.2 1450.1,497.2 1453.9,497.2 1457.7,497.2 1461.5,497.2 1465.4,497.2 1469.2,497.2 1473,497.2 1476.8,497.2 1480.6,497.2 1484.5,497.2 1488.3,497.2 1492.1,497.2 1495.9,497.2 1499.8,497.2 1503.6,497.2 1507.4,497.2 1511.2,497.2 1515.1,497.2 1518.9,497.2 1522.7,497.2 1526.5,497.2 1530.3,497.2 1534.2,497.2 1538,497.2 1541.8,497.2 1545.6,497.2 1549.5,497.2 1553.3,497.2 1557.1,497.2 1560.9,497.2 1564.7,497.2 1568.6,497.2 1572.4,497.2 1576.2,497.2 1580,497.2 1583.9,497.2 1587.7,497.2 1591.5,497.2 1595.3,497.2 1599.2,497.2 1603,497.2 1606.8,497.2 1610.6,497.2 1614.4,497.2 1618.3,497.2 1622.1,497.2 1625.9,497.2 1629.7,497.2 1633.6,497.2 1637.4,497.2 1641.2,497.2 1645,497.2 1648.8,497.2 1652.7,497.2 1656.5,497.2 1660.3,497.2 1664.1,497.2 1668,497.2 1671.8,497.2 1675.6,497.2 1679.4,497.2 1683.3,497.2 1687.1,497.2 1690.9,497.2 1694.7,497.2 1698.5,497.2 1702.4,497.2 1706.2,497.2 1710,497.2 1713.8,497.2 1717.7,497.2 1721.5,497.2 1725.3,497.2 1729.1,497.2 1732.9,497.2 1736.8,497.2 1740.6,497.2 1744.4,497.2 1748.2,497.2 1752.1,497.2 1755.9,497.2 1759.7,497.2 1763.5,497.2 1767.3,497.2 1771.2,497.2 1775,497.2 1778.8,497.2 1782.6,497.2 1786.5,497.2 1790.3,497.2 1794.1,497.2 1797.9,497.2" stroke="#F4D598" stroke-width="1.6"/>
</g>
<clipPath id="lg6"><rect x="1219" y="525" width="603" height="70.2"/></clipPath><g clip-path="url(#lg6)">
<rect x="1238" y="537" width="14" height="4" rx="1" fill="#E24D42"/>
<text x="1266.2" y="541" textLength="27" lengthAdjust="spacingAndGlyphs">sdb-r</text>
<text x="1305.7" y="541" textLength="74.4" lengthAdjust="spacingAndGlyphs">Avg: 362 kB/s</text>
<text x="1388.1" y="541" textLength="88.6" lengthAdjust="spacingAndGlyphs">Total: 49.9 MB/s</text>
<rect x="1488" y="537" width="14" height="4" rx="1" fill="#1F78C1"/>
<text x="1516" y="541" textLength="26.3" lengthAdjust="spacingAndGlyphs">sdc-r</text>
<text x="1555.2" y="541" textLength="74.4" lengthAdjust="spacingAndGlyphs">Avg: 363 kB/s</text>
<text x="1637.5" y="541" textLength="88.6" lengthAdjust="spacingAndGlyphs">Total: 50.1 MB/s</text>
<rect x="1238" y="558" width="14" height="4" rx="1" fill="#BA43A9"/>
<text x="1266.2" y="562" textLength="27.1" lengthAdjust="spacingAndGlyphs">sdd-r</text>
<text x="1305.7" y="562" textLength="74.4" lengthAdjust="spacingAndGlyphs">Avg: 364 kB/s</text>
<text x="1388.1" y="562" textLength="88.6" lengthAdjust="spacingAndGlyphs">Total: 50.3 MB/s</text>
<rect x="1488" y="558" width="14" height="4" rx="1" fill="#705DA0"/>
<text x="1516" y="562" textLength="26.4" lengthAdjust="spacingAndGlyphs">sde-r</text>
<text x="1555.2" y="562" textLength="74.4" lengthAdjust="spacingAndGlyphs">Avg: 444 kB/s</text>
<text x="1637.5" y="562" textLength="88.6" lengthAdjust="spacingAndGlyphs">Total: 61.3 MB/s</text>
<rect x="1238" y="579" width="14" height="4" rx="1" fill="#508642"/>
<text x="1266.2" y="583" textLength="31.9" lengthAdjust="spacingAndGlyphs">ac1-w</text>
<text x="1310.7" y="583" textLength="77.5" lengthAdjust="spacingAndGlyphs">Avg: 2.47 kB/s</text>
<text x="1395.8" y="583" textLength="81.3" lengthAdjust="spacingAndGlyphs">Total: 341 kB/s</text>
<rect x="1488" y="579" width="14" height="4" rx="1" fill="#CCA300"/>
<text x="1516" y="583" textLength="31.9" lengthAdjust="spacingAndGlyphs">ac2-w</text>
<text x="1560.8" y="583" textLength="77.5" lengthAdjust="spacingAndGlyphs">Avg: 2.48 kB/s</text>
<text x="1646.4" y="583" textLength="81.3" lengthAdjust="spacingAndGlyphs">Total: 342 kB/s</text>
</g>
<rect x="1364.9" y="593.6" width="1.2" height="1" fill="#ccccdc" fill-opacity="0.55"/>
<rect x="1420.9" y="593.6" width="1.2" height="1" fill="#ccccdc" fill-opacity="0.55"/>
<rect x="1453.9" y="593.6" width="1.2" height="1" fill="#ccccdc" fill-opacity="0.55"/>
<rect x="1593" y="593.6" width="1.2" height="1" fill="#ccccdc" fill-opacity="0.55"/>
<rect x="1649" y="593.6" width="1.2" height="1" fill="#ccccdc" fill-opacity="0.55"/>
<rect x="1668.4" y="593.6" width="1.2" height="1" fill="#ccccdc" fill-opacity="0.55"/>
<rect x="-6.5" y="611.5" width="604" height="333" rx="2.5" fill="#181b1f" stroke="#25272c"/>
<text x="295.5" y="632.4" text-anchor="middle" font-size="13.4" textLength="246.2" lengthAdjust="spacingAndGlyphs" stroke="#ccccdc" stroke-width="0.45">GET &amp; HEAD Account/Container/Object</text>
<rect x="125" y="662" width="1" height="182" fill="rgba(255,255,255,0.165)"/>
<rect x="243" y="662" width="1" height="182" fill="rgba(255,255,255,0.165)"/>
<rect x="362" y="662" width="1" height="182" fill="rgba(255,255,255,0.165)"/>
<rect x="480" y="662" width="1" height="182" fill="rgba(255,255,255,0.165)"/>
<rect x="29" y="662" width="544" height="1" fill="rgba(255,255,255,0.165)"/>
<rect x="29" y="707" width="544" height="1" fill="rgba(255,255,255,0.165)"/>
<rect x="29" y="752" width="544" height="1" fill="rgba(255,255,255,0.165)"/>
<rect x="29" y="797" width="544" height="1" fill="rgba(255,255,255,0.165)"/>
<rect x="29" y="843" width="544" height="1" fill="rgba(255,255,255,0.165)"/>
<text x="23.6" y="666.5" text-anchor="end" font-size="11.8" textLength="20.2" lengthAdjust="spacingAndGlyphs">400</text>
<text x="23.6" y="711.5" text-anchor="end" font-size="11.8" textLength="20.2" lengthAdjust="spacingAndGlyphs">300</text>
<text x="23.6" y="756.5" text-anchor="end" font-size="11.8" textLength="20.2" lengthAdjust="spacingAndGlyphs">200</text>
<text x="23.6" y="801.5" text-anchor="end" font-size="11.8" textLength="20.2" lengthAdjust="spacingAndGlyphs">100</text>
<text x="23.6" y="847.5" text-anchor="end" font-size="11.8" textLength="6.7" lengthAdjust="spacingAndGlyphs">0</text>
<text x="125.5" y="862.1" text-anchor="middle" font-size="11.8" textLength="29.9" lengthAdjust="spacingAndGlyphs">14:20</text>
<text x="243.5" y="862.1" text-anchor="middle" font-size="11.8" textLength="29.9" lengthAdjust="spacingAndGlyphs">14:25</text>
<text x="362.5" y="862.1" text-anchor="middle" font-size="11.8" textLength="29.9" lengthAdjust="spacingAndGlyphs">14:30</text>
<text x="480.5" y="862.1" text-anchor="middle" font-size="11.8" textLength="29.9" lengthAdjust="spacingAndGlyphs">14:35</text>
<clipPath id="c7"><rect x="29" y="661" width="545" height="183"/></clipPath>
<g clip-path="url(#c7)" fill="none" stroke-width="1" stroke-linejoin="round">
<polygon points="22.4,843.4 26.3,843.4 30.3,843.3 34.2,843.5 38.2,843.4 42.1,843.5 46.1,843.4 50,843.5 54,843.4 57.9,843.5 61.9,843.5 65.8,843.4 69.8,843.4 73.8,843.4 77.7,843.2 81.7,843.4 85.6,843.4 89.6,843.5 93.5,843.5 97.5,843.4 101.4,843.5 105.4,843.5 109.3,843.2 113.3,843.4 117.2,843.5 121.2,843.4 125.2,843.4 129.1,843.3 133.1,843.4 137,843.3 141,843.2 144.9,843.4 148.9,843.3 152.8,843.2 156.8,843.4 160.7,843.4 164.7,843.3 168.6,843.5 172.6,843.4 176.5,843.5 180.5,843.3 184.5,843.3 188.4,843.3 192.4,843.5 196.3,843.1 200.3,843.5 204.2,843.4 208.2,843.4 212.1,843.3 216.1,843.4 220,843.3 224,843.4 227.9,843.4 231.9,843.4 235.8,843.4 239.8,843.3 243.8,843.3 247.7,843.5 251.7,843.4 255.6,843.4 259.6,843.2 263.5,843.4 267.5,843.4 271.4,843.5 275.4,843.4 279.3,843.5 283.3,843.4 287.2,843.4 291.2,843.4 295.2,843.3 299.1,843.4 303.1,843.4 307,843.3 311,843.4 314.9,843.4 318.9,843.4 322.8,843.4 326.8,843.3 330.7,843.4 334.7,843.3 338.6,843.4 342.6,843.3 346.5,843.4 350.5,843.5 354.5,843.3 358.4,843.4 362.4,843.4 366.3,843.4 370.3,843.3 374.2,843.3 378.2,843.4 382.1,843.4 386.1,843.5 390,843.4 394,843.2 397.9,843.4 401.9,843.4 405.8,843.3 409.8,843.4 413.8,843.4 417.7,843.4 421.7,843.4 425.6,843.3 429.6,843.4 433.5,843.4 437.5,843.5 441.4,843.4 445.4,843.3 449.3,843.5 453.3,843.5 457.2,843.4 461.2,843.4 465.2,843.3 469.1,843.5 473.1,843.5 477,843.4 481,843.5 484.9,843.4 488.9,843.4 492.8,843.5 496.8,843.5 500.7,843.3 504.7,843.3 508.6,843.3 512.6,843.3 516.5,843.2 520.5,843.5 524.5,843.4 528.4,843.4 532.4,843.4 536.3,843.3 540.3,843.4 544.2,843.5 548.2,843.4 552.1,843.5 556.1,843.5 560,843.4 564,843.5 567.9,843.4 567.9,843.5 22.4,843.5" fill="#7EB26D" fill-opacity="0.1" stroke="none"/>
<polyline points="22.4,843.4 26.3,843.4 30.3,843.3 34.2,843.5 38.2,843.4 42.1,843.5 46.1,843.4 50,843.5 54,843.4 57.9,843.5 61.9,843.5 65.8,843.4 69.8,843.4 73.8,843.4 77.7,843.2 81.7,843.4 85.6,843.4 89.6,843.5 93.5,843.5 97.5,843.4 101.4,843.5 105.4,843.5 109.3,843.2 113.3,843.4 117.2,843.5 121.2,843.4 125.2,843.4 129.1,843.3 133.1,843.4 137,843.3 141,843.2 144.9,843.4 148.9,843.3 152.8,843.2 156.8,843.4 160.7,843.4 164.7,843.3 168.6,843.5 172.6,843.4 176.5,843.5 180.5,843.3 184.5,843.3 188.4,843.3 192.4,843.5 196.3,843.1 200.3,843.5 204.2,843.4 208.2,843.4 212.1,843.3 216.1,843.4 220,843.3 224,843.4 227.9,843.4 231.9,843.4 235.8,843.4 239.8,843.3 243.8,843.3 247.7,843.5 251.7,843.4 255.6,843.4 259.6,843.2 263.5,843.4 267.5,843.4 271.4,843.5 275.4,843.4 279.3,843.5 283.3,843.4 287.2,843.4 291.2,843.4 295.2,843.3 299.1,843.4 303.1,843.4 307,843.3 311,843.4 314.9,843.4 318.9,843.4 322.8,843.4 326.8,843.3 330.7,843.4 334.7,843.3 338.6,843.4 342.6,843.3 346.5,843.4 350.5,843.5 354.5,843.3 358.4,843.4 362.4,843.4 366.3,843.4 370.3,843.3 374.2,843.3 378.2,843.4 382.1,843.4 386.1,843.5 390,843.4 394,843.2 397.9,843.4 401.9,843.4 405.8,843.3 409.8,843.4 413.8,843.4 417.7,843.4 421.7,843.4 425.6,843.3 429.6,843.4 433.5,843.4 437.5,843.5 441.4,843.4 445.4,843.3 449.3,843.5 453.3,843.5 457.2,843.4 461.2,843.4 465.2,843.3 469.1,843.5 473.1,843.5 477,843.4 481,843.5 484.9,843.4 488.9,843.4 492.8,843.5 496.8,843.5 500.7,843.3 504.7,843.3 508.6,843.3 512.6,843.3 516.5,843.2 520.5,843.5 524.5,843.4 528.4,843.4 532.4,843.4 536.3,843.3 540.3,843.4 544.2,843.5 548.2,843.4 552.1,843.5 556.1,843.5 560,843.4 564,843.5 567.9,843.4" stroke="#7EB26D"/>
<polygon points="22.4,843.4 26.3,843.4 30.3,843.3 34.2,843.4 38.2,843.4 42.1,843.4 46.1,843.4 50,843.4 54,843.4 57.9,843.4 61.9,843.4 65.8,843.4 69.8,843.4 73.8,843.4 77.7,843.1 81.7,843.3 85.6,843.4 89.6,843.5 93.5,843.5 97.5,843.4 101.4,843.4 105.4,843.5 109.3,843.2 113.3,843.4 117.2,843.4 121.2,843.4 125.2,843.4 129.1,843.2 133.1,843.3 137,843.2 141,843.2 144.9,843.3 148.9,843.3 152.8,843.1 156.8,843.4 160.7,843.3 164.7,843.3 168.6,843.5 172.6,843.4 176.5,843.5 180.5,843.2 184.5,843.2 188.4,843.3 192.4,843.4 196.3,843.1 200.3,843.4 204.2,843.4 208.2,843.4 212.1,843.2 216.1,843.4 220,843.3 224,843.4 227.9,843.4 231.9,843.4 235.8,843.3 239.8,843.3 243.8,843.3 247.7,843.4 251.7,843.4 255.6,843.3 259.6,843.2 263.5,843.3 267.5,843.4 271.4,843.5 275.4,843.4 279.3,843.5 283.3,843.3 287.2,843.4 291.2,843.4 295.2,843.3 299.1,843.3 303.1,843.4 307,843.3 311,843.4 314.9,843.4 318.9,843.3 322.8,843.4 326.8,843.3 330.7,843.4 334.7,843.3 338.6,843.4 342.6,843.2 346.5,843.3 350.5,843.5 354.5,843.3 358.4,843.3 362.4,843.4 366.3,843.4 370.3,843.3 374.2,843.3 378.2,843.3 382.1,843.4 386.1,843.4 390,843.4 394,843.2 397.9,843.3 401.9,843.4 405.8,843.3 409.8,843.4 413.8,843.4 417.7,843.4 421.7,843.4 425.6,843.3 429.6,843.3 433.5,843.4 437.5,843.4 441.4,843.3 445.4,843.2 449.3,843.4 453.3,843.4 457.2,843.3 461.2,843.4 465.2,843.3 469.1,843.4 473.1,843.5 477,843.4 481,843.4 484.9,843.4 488.9,843.4 492.8,843.5 496.8,843.4 500.7,843.3 504.7,843.2 508.6,843.3 512.6,843.3 516.5,843.2 520.5,843.5 524.5,843.4 528.4,843.4 532.4,843.4 536.3,843.2 540.3,843.3 544.2,843.5 548.2,843.4 552.1,843.4 556.1,843.4 560,843.4 564,843.4 567.9,843.4 567.9,843.4 564,843.5 560,843.4 556.1,843.5 552.1,843.5 548.2,843.4 544.2,843.5 540.3,843.4 536.3,843.3 532.4,843.4 528.4,843.4 524.5,843.4 520.5,843.5 516.5,843.2 512.6,843.3 508.6,843.3 504.7,843.3 500.7,843.3 496.8,843.5 492.8,843.5 488.9,843.4 484.9,843.4 481,843.5 477,843.4 473.1,843.5 469.1,843.5 465.2,843.3 461.2,843.4 457.2,843.4 453.3,843.5 449.3,843.5 445.4,843.3 441.4,843.4 437.5,843.5 433.5,843.4 429.6,843.4 425.6,843.3 421.7,843.4 417.7,843.4 413.8,843.4 409.8,843.4 405.8,843.3 401.9,843.4 397.9,843.4 394,843.2 390,843.4 386.1,843.5 382.1,843.4 378.2,843.4 374.2,843.3 370.3,843.3 366.3,843.4 362.4,843.4 358.4,843.4 354.5,843.3 350.5,843.5 346.5,843.4 342.6,843.3 338.6,843.4 334.7,843.3 330.7,843.4 326.8,843.3 322.8,843.4 318.9,843.4 314.9,843.4 311,843.4 307,843.3 303.1,843.4 299.1,843.4 295.2,843.3 291.2,843.4 287.2,843.4 283.3,843.4 279.3,843.5 275.4,843.4 271.4,843.5 267.5,843.4 263.5,843.4 259.6,843.2 255.6,843.4 251.7,843.4 247.7,843.5 243.8,843.3 239.8,843.3 235.8,843.4 231.9,843.4 227.9,843.4 224,843.4 220,843.3 216.1,843.4 212.1,843.3 208.2,843.4 204.2,843.4 200.3,843.5 196.3,843.1 192.4,843.5 188.4,843.3 184.5,843.3 180.5,843.3 176.5,843.5 172.6,843.4 168.6,843.5 164.7,843.3 160.7,843.4 156.8,843.4 152.8,843.2 148.9,843.3 144.9,843.4 141,843.2 137,843.3 133.1,843.4 129.1,843.3 125.2,843.4 121.2,843.4 117.2,843.5 113.3,843.4 109.3,843.2 105.4,843.5 101.4,843.5 97.5,843.4 93.5,843.5 89.6,843.5 85.6,843.4 81.7,843.4 77.7,843.2 73.8,843.4 69.8,843.4 65.8,843.4 61.9,843.5 57.9,843.5 54,843.4 50,843.5 46.1,843.4 42.1,843.5 38.2,843.4 34.2,843.5 30.3,843.3 26.3,843.4 22.4,843.4" fill="#EAB839" fill-opacity="0.1" stroke="none"/>
<polyline points="22.4,843.4 26.3,843.4 30.3,843.3 34.2,843.4 38.2,843.4 42.1,843.4 46.1,843.4 50,843.4 54,843.4 57.9,843.4 61.9,843.4 65.8,843.4 69.8,843.4 73.8,843.4 77.7,843.1 81.7,843.3 85.6,843.4 89.6,843.5 93.5,843.5 97.5,843.4 101.4,843.4 105.4,843.5 109.3,843.2 113.3,843.4 117.2,843.4 121.2,843.4 125.2,843.4 129.1,843.2 133.1,843.3 137,843.2 141,843.2 144.9,843.3 148.9,843.3 152.8,843.1 156.8,843.4 160.7,843.3 164.7,843.3 168.6,843.5 172.6,843.4 176.5,843.5 180.5,843.2 184.5,843.2 188.4,843.3 192.4,843.4 196.3,843.1 200.3,843.4 204.2,843.4 208.2,843.4 212.1,843.2 216.1,843.4 220,843.3 224,843.4 227.9,843.4 231.9,843.4 235.8,843.3 239.8,843.3 243.8,843.3 247.7,843.4 251.7,843.4 255.6,843.3 259.6,843.2 263.5,843.3 267.5,843.4 271.4,843.5 275.4,843.4 279.3,843.5 283.3,843.3 287.2,843.4 291.2,843.4 295.2,843.3 299.1,843.3 303.1,843.4 307,843.3 311,843.4 314.9,843.4 318.9,843.3 322.8,843.4 326.8,843.3 330.7,843.4 334.7,843.3 338.6,843.4 342.6,843.2 346.5,843.3 350.5,843.5 354.5,843.3 358.4,843.3 362.4,843.4 366.3,843.4 370.3,843.3 374.2,843.3 378.2,843.3 382.1,843.4 386.1,843.4 390,843.4 394,843.2 397.9,843.3 401.9,843.4 405.8,843.3 409.8,843.4 413.8,843.4 417.7,843.4 421.7,843.4 425.6,843.3 429.6,843.3 433.5,843.4 437.5,843.4 441.4,843.3 445.4,843.2 449.3,843.4 453.3,843.4 457.2,843.3 461.2,843.4 465.2,843.3 469.1,843.4 473.1,843.5 477,843.4 481,843.4 484.9,843.4 488.9,843.4 492.8,843.5 496.8,843.4 500.7,843.3 504.7,843.2 508.6,843.3 512.6,843.3 516.5,843.2 520.5,843.5 524.5,843.4 528.4,843.4 532.4,843.4 536.3,843.2 540.3,843.3 544.2,843.5 548.2,843.4 552.1,843.4 556.1,843.4 560,843.4 564,843.4 567.9,843.4" stroke="#EAB839"/>
<polygon points="22.4,724.9 26.3,719.5 30.3,714.1 34.2,706.4 38.2,708.2 42.1,681.7 46.1,678.7 50,681.3 54,694.4 57.9,678.7 61.9,677.2 65.8,677.5 69.8,673.8 73.8,679.9 77.7,677.8 81.7,673.8 85.6,683.9 89.6,673 93.5,673 97.5,677.6 101.4,672.4 105.4,677.2 109.3,688.6 113.3,675.7 117.2,679.7 121.2,679.2 125.2,680.4 129.1,674.5 133.1,678.4 137,686.8 141,678.6 144.9,677.4 148.9,686.9 152.8,684.5 156.8,684 160.7,685.8 164.7,679.1 168.6,675.8 172.6,671.5 176.5,674.8 180.5,675.7 184.5,675 188.4,674 192.4,683.6 196.3,677.1 200.3,678.9 204.2,681.5 208.2,684.1 212.1,683.4 216.1,681.9 220,687.8 224,678.3 227.9,680.3 231.9,679.8 235.8,678.9 239.8,677.5 243.8,683.7 247.7,680.7 251.7,689.8 255.6,693.5 259.6,691.8 263.5,674.3 267.5,691 271.4,678.1 275.4,674.4 279.3,682.5 283.3,673.8 287.2,673 291.2,676.2 295.2,674.8 299.1,678.3 303.1,681.9 307,678.4 311,680.9 314.9,683.7 318.9,683.6 322.8,674.7 326.8,681.1 330.7,679.3 334.7,681.4 338.6,678.9 342.6,679.9 346.5,680.4 350.5,683.1 354.5,683.7 358.4,681.4 362.4,678.3 366.3,674.7 370.3,676.7 374.2,675.2 378.2,677.8 382.1,679 386.1,683.1 390,678.6 394,685.8 397.9,679.5 401.9,675.3 405.8,677.8 409.8,676.2 413.8,679.7 417.7,683 421.7,679.9 425.6,679.6 429.6,675.8 433.5,674.3 437.5,680.6 441.4,679.3 445.4,678.6 449.3,679.2 453.3,682.2 457.2,677.8 461.2,677.2 465.2,677.1 469.1,681.9 473.1,678.2 477,683.6 481,675.9 484.9,681.1 488.9,678.6 492.8,679.1 496.8,679.5 500.7,681.1 504.7,683.4 508.6,674 512.6,676.9 516.5,676.9 520.5,673.2 524.5,677.6 528.4,676.2 532.4,677.2 536.3,674.9 540.3,676.2 544.2,676.5 548.2,677.9 552.1,676.5 556.1,674.7 560,683.9 564,677.3 567.9,678.3 567.9,843.4 564,843.4 560,843.4 556.1,843.4 552.1,843.4 548.2,843.4 544.2,843.5 540.3,843.3 536.3,843.2 532.4,843.4 528.4,843.4 524.5,843.4 520.5,843.5 516.5,843.2 512.6,843.3 508.6,843.3 504.7,843.2 500.7,843.3 496.8,843.4 492.8,843.5 488.9,843.4 484.9,843.4 481,843.4 477,843.4 473.1,843.5 469.1,843.4 465.2,843.3 461.2,843.4 457.2,843.3 453.3,843.4 449.3,843.4 445.4,843.2 441.4,843.3 437.5,843.4 433.5,843.4 429.6,843.3 425.6,843.3 421.7,843.4 417.7,843.4 413.8,843.4 409.8,843.4 405.8,843.3 401.9,843.4 397.9,843.3 394,843.2 390,843.4 386.1,843.4 382.1,843.4 378.2,843.3 374.2,843.3 370.3,843.3 366.3,843.4 362.4,843.4 358.4,843.3 354.5,843.3 350.5,843.5 346.5,843.3 342.6,843.2 338.6,843.4 334.7,843.3 330.7,843.4 326.8,843.3 322.8,843.4 318.9,843.3 314.9,843.4 311,843.4 307,843.3 303.1,843.4 299.1,843.3 295.2,843.3 291.2,843.4 287.2,843.4 283.3,843.3 279.3,843.5 275.4,843.4 271.4,843.5 267.5,843.4 263.5,843.3 259.6,843.2 255.6,843.3 251.7,843.4 247.7,843.4 243.8,843.3 239.8,843.3 235.8,843.3 231.9,843.4 227.9,843.4 224,843.4 220,843.3 216.1,843.4 212.1,843.2 208.2,843.4 204.2,843.4 200.3,843.4 196.3,843.1 192.4,843.4 188.4,843.3 184.5,843.2 180.5,843.2 176.5,843.5 172.6,843.4 168.6,843.5 164.7,843.3 160.7,843.3 156.8,843.4 152.8,843.1 148.9,843.3 144.9,843.3 141,843.2 137,843.2 133.1,843.3 129.1,843.2 125.2,843.4 121.2,843.4 117.2,843.4 113.3,843.4 109.3,843.2 105.4,843.5 101.4,843.4 97.5,843.4 93.5,843.5 89.6,843.5 85.6,843.4 81.7,843.3 77.7,843.1 73.8,843.4 69.8,843.4 65.8,843.4 61.9,843.4 57.9,843.4 54,843.4 50,843.4 46.1,843.4 42.1,843.4 38.2,843.4 34.2,843.4 30.3,843.3 26.3,843.4 22.4,843.4" fill="#6ED0E0" fill-opacity="0.1" stroke="none"/>
<polyline points="22.4,724.9 26.3,719.5 30.3,714.1 34.2,706.4 38.2,708.2 42.1,681.7 46.1,678.7 50,681.3 54,694.4 57.9,678.7 61.9,677.2 65.8,677.5 69.8,673.8 73.8,679.9 77.7,677.8 81.7,673.8 85.6,683.9 89.6,673 93.5,673 97.5,677.6 101.4,672.4 105.4,677.2 109.3,688.6 113.3,675.7 117.2,679.7 121.2,679.2 125.2,680.4 129.1,674.5 133.1,678.4 137,686.8 141,678.6 144.9,677.4 148.9,686.9 152.8,684.5 156.8,684 160.7,685.8 164.7,679.1 168.6,675.8 172.6,671.5 176.5,674.8 180.5,675.7 184.5,675 188.4,674 192.4,683.6 196.3,677.1 200.3,678.9 204.2,681.5 208.2,684.1 212.1,683.4 216.1,681.9 220,687.8 224,678.3 227.9,680.3 231.9,679.8 235.8,678.9 239.8,677.5 243.8,683.7 247.7,680.7 251.7,689.8 255.6,693.5 259.6,691.8 263.5,674.3 267.5,691 271.4,678.1 275.4,674.4 279.3,682.5 283.3,673.8 287.2,673 291.2,676.2 295.2,674.8 299.1,678.3 303.1,681.9 307,678.4 311,680.9 314.9,683.7 318.9,683.6 322.8,674.7 326.8,681.1 330.7,679.3 334.7,681.4 338.6,678.9 342.6,679.9 346.5,680.4 350.5,683.1 354.5,683.7 358.4,681.4 362.4,678.3 366.3,674.7 370.3,676.7 374.2,675.2 378.2,677.8 382.1,679 386.1,683.1 390,678.6 394,685.8 397.9,679.5 401.9,675.3 405.8,677.8 409.8,676.2 413.8,679.7 417.7,683 421.7,679.9 425.6,679.6 429.6,675.8 433.5,674.3 437.5,680.6 441.4,679.3 445.4,678.6 449.3,679.2 453.3,682.2 457.2,677.8 461.2,677.2 465.2,677.1 469.1,681.9 473.1,678.2 477,683.6 481,675.9 484.9,681.1 488.9,678.6 492.8,679.1 496.8,679.5 500.7,681.1 504.7,683.4 508.6,674 512.6,676.9 516.5,676.9 520.5,673.2 524.5,677.6 528.4,676.2 532.4,677.2 536.3,674.9 540.3,676.2 544.2,676.5 548.2,677.9 552.1,676.5 556.1,674.7 560,683.9 564,677.3 567.9,678.3" stroke="#6ED0E0"/>
<polyline points="22.4,843.5 26.3,843.4 30.3,843.4 34.2,843.5 38.2,843.5 42.1,843.5 46.1,843.4 50,843.5 54,843.4 57.9,843.5 61.9,843.5 65.8,843.5 69.8,843.5 73.8,843.5 77.7,843.3 81.7,843.4 85.6,843.5 89.6,843.5 93.5,843.5 97.5,843.5 101.4,843.5 105.4,843.5 109.3,843.4 113.3,843.5 117.2,843.5 121.2,843.5 125.2,843.5 129.1,843.4 133.1,843.4 137,843.4 141,843.4 144.9,843.4 148.9,843.4 152.8,843.3 156.8,843.5 160.7,843.4 164.7,843.4 168.6,843.5 172.6,843.4 176.5,843.5 180.5,843.4 184.5,843.4 188.4,843.4 192.4,843.5 196.3,843.3 200.3,843.5 204.2,843.5 208.2,843.5 212.1,843.4 216.1,843.4 220,843.4 224,843.5 227.9,843.5 231.9,843.4 235.8,843.4 239.8,843.4 243.8,843.4 247.7,843.5 251.7,843.5 255.6,843.4 259.6,843.4 263.5,843.4 267.5,843.5 271.4,843.5 275.4,843.5 279.3,843.5 283.3,843.5 287.2,843.5 291.2,843.5 295.2,843.4 299.1,843.4 303.1,843.4 307,843.4 311,843.4 314.9,843.5 318.9,843.4 322.8,843.4 326.8,843.4 330.7,843.5 334.7,843.4 338.6,843.5 342.6,843.4 346.5,843.5 350.5,843.5 354.5,843.4 358.4,843.4 362.4,843.4 366.3,843.5 370.3,843.4 374.2,843.4 378.2,843.4 382.1,843.5 386.1,843.5 390,843.5 394,843.4 397.9,843.4 401.9,843.5 405.8,843.4 409.8,843.5 413.8,843.5 417.7,843.4 421.7,843.5 425.6,843.4 429.6,843.4 433.5,843.5 437.5,843.5 441.4,843.4 445.4,843.4 449.3,843.5 453.3,843.5 457.2,843.4 461.2,843.5 465.2,843.4 469.1,843.5 473.1,843.5 477,843.5 481,843.5 484.9,843.4 488.9,843.5 492.8,843.5 496.8,843.5 500.7,843.4 504.7,843.4 508.6,843.4 512.6,843.4 516.5,843.4 520.5,843.5 524.5,843.5 528.4,843.4 532.4,843.5 536.3,843.4 540.3,843.4 544.2,843.5 548.2,843.4 552.1,843.5 556.1,843.5 560,843.4 564,843.5 567.9,843.5" stroke="#EAB839"/>
</g>
<rect x="12" y="883" width="14" height="4" rx="1" fill="#7EB26D"/>
<text x="40.1" y="887" textLength="73.2" lengthAdjust="spacingAndGlyphs">head account</text>
<text x="126.3" y="887" textLength="52.6" lengthAdjust="spacingAndGlyphs">Max: 1.10</text>
<text x="185.5" y="887" textLength="57" lengthAdjust="spacingAndGlyphs">Avg: 0.183</text>
<text x="249.5" y="887" textLength="57" lengthAdjust="spacingAndGlyphs">Total: 25.2</text>
<rect x="12" y="904" width="14" height="4" rx="1" fill="#EAB839"/>
<text x="40.1" y="908" textLength="80.2" lengthAdjust="spacingAndGlyphs">head container</text>
<text x="133.2" y="908" textLength="59.5" lengthAdjust="spacingAndGlyphs">Max: 0.400</text>
<text x="199.8" y="908" textLength="63.9" lengthAdjust="spacingAndGlyphs">Avg: 0.0239</text>
<text x="270.4" y="908" textLength="57" lengthAdjust="spacingAndGlyphs">Total: 3.30</text>
<rect x="12" y="925" width="14" height="4" rx="1" fill="#6ED0E0"/>
<text x="40.1" y="929" textLength="53" lengthAdjust="spacingAndGlyphs">get object</text>
<text x="106.2" y="929" textLength="49.5" lengthAdjust="spacingAndGlyphs">Max: 383</text>
<text x="162.5" y="929" textLength="47.1" lengthAdjust="spacingAndGlyphs">Avg: 363</text>
<text x="216.3" y="929" textLength="67.8" lengthAdjust="spacingAndGlyphs">Total: 50.1 K</text>
<rect x="606.5" y="611.5" width="604" height="333" rx="2.5" fill="#181b1f" stroke="#25272c"/>
<text x="908.5" y="632.4" text-anchor="middle" font-size="13.4" textLength="76.6" lengthAdjust="spacingAndGlyphs" stroke="#ccccdc" stroke-width="0.45">system.load</text>
<rect x="732" y="662" width="1" height="203" fill="rgba(255,255,255,0.165)"/>
<rect x="852" y="662" width="1" height="203" fill="rgba(255,255,255,0.165)"/>
<rect x="972" y="662" width="1" height="203" fill="rgba(255,255,255,0.165)"/>
<rect x="1092" y="662" width="1" height="203" fill="rgba(255,255,255,0.165)"/>
<rect x="635" y="662" width="551" height="1" fill="rgba(255,255,255,0.165)"/>
<rect x="635" y="712" width="551" height="1" fill="rgba(255,255,255,0.165)"/>
<rect x="635" y="763" width="551" height="1" fill="rgba(255,255,255,0.165)"/>
<rect x="635" y="813" width="551" height="1" fill="rgba(255,255,255,0.165)"/>
<rect x="635" y="864" width="551" height="1" fill="rgba(255,255,255,0.165)"/>
<text x="629.6" y="666.5" text-anchor="end" font-size="11.8" textLength="13.5" lengthAdjust="spacingAndGlyphs">80</text>
<text x="629.6" y="716.5" text-anchor="end" font-size="11.8" textLength="13.5" lengthAdjust="spacingAndGlyphs">60</text>
<text x="629.6" y="767.5" text-anchor="end" font-size="11.8" textLength="13.5" lengthAdjust="spacingAndGlyphs">40</text>
<text x="629.6" y="817.5" text-anchor="end" font-size="11.8" textLength="13.5" lengthAdjust="spacingAndGlyphs">20</text>
<text x="629.6" y="868.5" text-anchor="end" font-size="11.8" textLength="6.7" lengthAdjust="spacingAndGlyphs">0</text>
<text x="732.5" y="883.1" text-anchor="middle" font-size="11.8" textLength="29.9" lengthAdjust="spacingAndGlyphs">14:20</text>
<text x="852.5" y="883.1" text-anchor="middle" font-size="11.8" textLength="29.9" lengthAdjust="spacingAndGlyphs">14:25</text>
<text x="972.5" y="883.1" text-anchor="middle" font-size="11.8" textLength="29.9" lengthAdjust="spacingAndGlyphs">14:30</text>
<text x="1092.5" y="883.1" text-anchor="middle" font-size="11.8" textLength="29.9" lengthAdjust="spacingAndGlyphs">14:35</text>
<clipPath id="c8"><rect x="635" y="661" width="552" height="204"/></clipPath>
<g clip-path="url(#c8)" fill="none" stroke-width="1" stroke-linejoin="round">
<polygon points="628.3,831.1 632.3,831 636.3,830.9 640.3,828.1 644.3,825.3 648.3,822.4 652.3,819.5 656.3,816.6 660.3,815 664.3,814 668.3,813 672.3,813.4 676.3,814.9 680.3,815.6 684.3,815.2 688.3,815.7 692.3,815.4 696.3,815 700.4,815 704.4,815 708.4,814.3 712.4,814 716.4,814.2 720.4,813.8 724.4,813.6 728.4,814 732.4,813.2 736.4,814.2 740.4,814.8 744.4,815.5 748.4,815.1 752.4,815.1 756.4,814.6 760.4,814.1 764.4,813.9 768.4,814.1 772.4,814 776.4,814.6 780.4,814.5 784.4,814.9 788.4,815.1 792.5,815.3 796.5,815.5 800.5,815.7 804.5,815.9 808.5,816 812.5,815.8 816.5,815.9 820.5,816.2 824.5,816.2 828.5,816.2 832.5,816.1 836.5,816 840.5,815.6 844.5,815.2 848.5,814.5 852.5,814.4 856.5,815.1 860.5,814.8 864.5,815.2 868.5,815.4 872.5,815.6 876.5,815.5 880.5,816 884.6,815.9 888.6,816.3 892.6,816.7 896.6,816.9 900.6,816.4 904.6,816 908.6,815.7 912.6,815.2 916.6,815.3 920.6,815.2 924.6,815.2 928.6,815.2 932.6,815.2 936.6,815.3 940.6,814.7 944.6,815.3 948.6,815.6 952.6,816.2 956.6,817 960.6,818 964.6,818.3 968.6,817.9 972.6,817.7 976.7,817.1 980.7,816.7 984.7,816.3 988.7,815.7 992.7,816.8 996.7,817.2 1000.7,817 1004.7,816.5 1008.7,816.1 1012.7,815.7 1016.7,815.7 1020.7,815.4 1024.7,815.1 1028.7,815 1032.7,814.9 1036.7,814.9 1040.7,815.6 1044.7,816.4 1048.7,817.7 1052.7,818.1 1056.7,817.9 1060.7,817.7 1064.7,817.7 1068.8,817.4 1072.8,816.4 1076.8,816.1 1080.8,815.8 1084.8,814.5 1088.8,814.7 1092.8,815 1096.8,815 1100.8,815.3 1104.8,814.4 1108.8,814.4 1112.8,814.1 1116.8,812.7 1120.8,810.9 1124.8,809.1 1128.8,808.5 1132.8,807.4 1136.8,806.1 1140.8,804.9 1144.8,804.2 1148.8,803.7 1152.8,802.8 1156.8,802.7 1160.9,802.9 1164.9,803.3 1168.9,804 1172.9,804.8 1176.9,806.8 1180.9,808.4 1180.9,864.5 628.3,864.5" fill="#7EB26D" fill-opacity="0.1" stroke="none"/>
<polyline points="628.3,831.1 632.3,831 636.3,830.9 640.3,828.1 644.3,825.3 648.3,822.4 652.3,819.5 656.3,816.6 660.3,815 664.3,814 668.3,813 672.3,813.4 676.3,814.9 680.3,815.6 684.3,815.2 688.3,815.7 692.3,815.4 696.3,815 700.4,815 704.4,815 708.4,814.3 712.4,814 716.4,814.2 720.4,813.8 724.4,813.6 728.4,814 732.4,813.2 736.4,814.2 740.4,814.8 744.4,815.5 748.4,815.1 752.4,815.1 756.4,814.6 760.4,814.1 764.4,813.9 768.4,814.1 772.4,814 776.4,814.6 780.4,814.5 784.4,814.9 788.4,815.1 792.5,815.3 796.5,815.5 800.5,815.7 804.5,815.9 808.5,816 812.5,815.8 816.5,815.9 820.5,816.2 824.5,816.2 828.5,816.2 832.5,816.1 836.5,816 840.5,815.6 844.5,815.2 848.5,814.5 852.5,814.4 856.5,815.1 860.5,814.8 864.5,815.2 868.5,815.4 872.5,815.6 876.5,815.5 880.5,816 884.6,815.9 888.6,816.3 892.6,816.7 896.6,816.9 900.6,816.4 904.6,816 908.6,815.7 912.6,815.2 916.6,815.3 920.6,815.2 924.6,815.2 928.6,815.2 932.6,815.2 936.6,815.3 940.6,814.7 944.6,815.3 948.6,815.6 952.6,816.2 956.6,817 960.6,818 964.6,818.3 968.6,817.9 972.6,817.7 976.7,817.1 980.7,816.7 984.7,816.3 988.7,815.7 992.7,816.8 996.7,817.2 1000.7,817 1004.7,816.5 1008.7,816.1 1012.7,815.7 1016.7,815.7 1020.7,815.4 1024.7,815.1 1028.7,815 1032.7,814.9 1036.7,814.9 1040.7,815.6 1044.7,816.4 1048.7,817.7 1052.7,818.1 1056.7,817.9 1060.7,817.7 1064.7,817.7 1068.8,817.4 1072.8,816.4 1076.8,816.1 1080.8,815.8 1084.8,814.5 1088.8,814.7 1092.8,815 1096.8,815 1100.8,815.3 1104.8,814.4 1108.8,814.4 1112.8,814.1 1116.8,812.7 1120.8,810.9 1124.8,809.1 1128.8,808.5 1132.8,807.4 1136.8,806.1 1140.8,804.9 1144.8,804.2 1148.8,803.7 1152.8,802.8 1156.8,802.7 1160.9,802.9 1164.9,803.3 1168.9,804 1172.9,804.8 1176.9,806.8 1180.9,808.4" stroke="#7EB26D"/>
<polygon points="628.3,776.4 632.3,776.4 636.3,776.6 640.3,773.5 644.3,770.8 648.3,767.1 652.3,763.8 656.3,760.8 660.3,759.5 664.3,758.9 668.3,757.7 672.3,758.2 676.3,759.7 680.3,761.1 684.3,760.9 688.3,761.4 692.3,761.4 696.3,761.9 700.4,761.8 704.4,761.4 708.4,761.4 712.4,761.4 716.4,761.1 720.4,761.1 724.4,760.8 728.4,761.5 732.4,761 736.4,761.5 740.4,762.7 744.4,763.4 748.4,762.7 752.4,762.7 756.4,762.4 760.4,761.8 764.4,761.6 768.4,761.6 772.4,762.2 776.4,762.3 780.4,762.3 784.4,762.7 788.4,763.5 792.5,763.4 796.5,763.7 800.5,764.2 804.5,763.9 808.5,764.6 812.5,764.1 816.5,764.6 820.5,764.3 824.5,764.7 828.5,765.2 832.5,765.2 836.5,765.2 840.5,764.7 844.5,763.9 848.5,763.6 852.5,763 856.5,763.1 860.5,763.5 864.5,764 868.5,764.3 872.5,764.2 876.5,764.4 880.5,765.1 884.6,765.8 888.6,765.7 892.6,766.6 896.6,766.5 900.6,766.4 904.6,766.5 908.6,765.9 912.6,765.6 916.6,764.9 920.6,764.3 924.6,764.6 928.6,764.6 932.6,764.6 936.6,765.1 940.6,765.4 944.6,765 948.6,765.9 952.6,766.8 956.6,767.7 960.6,768.5 964.6,769.1 968.6,768.4 972.6,767.8 976.7,767.7 980.7,767.6 984.7,767.1 988.7,766.9 992.7,768 996.7,768.3 1000.7,767.5 1004.7,767.5 1008.7,767.6 1012.7,767 1016.7,767.2 1020.7,766.7 1024.7,765.8 1028.7,766 1032.7,766.7 1036.7,767.2 1040.7,767.2 1044.7,768 1048.7,769 1052.7,768.9 1056.7,768.9 1060.7,769.2 1064.7,768.5 1068.8,768.2 1072.8,767.9 1076.8,767.5 1080.8,766.7 1084.8,766.4 1088.8,766 1092.8,766.1 1096.8,765.8 1100.8,765.9 1104.8,765.4 1108.8,765 1112.8,764.3 1116.8,762.4 1120.8,759.5 1124.8,758.5 1128.8,757 1132.8,755.1 1136.8,753.3 1140.8,752 1144.8,751.1 1148.8,750.6 1152.8,749.6 1156.8,748.4 1160.9,748.2 1164.9,748.9 1168.9,749.4 1172.9,749.9 1176.9,752 1180.9,753.9 1180.9,808.4 1176.9,806.8 1172.9,804.8 1168.9,804 1164.9,803.3 1160.9,802.9 1156.8,802.7 1152.8,802.8 1148.8,803.7 1144.8,804.2 1140.8,804.9 1136.8,806.1 1132.8,807.4 1128.8,808.5 1124.8,809.1 1120.8,810.9 1116.8,812.7 1112.8,814.1 1108.8,814.4 1104.8,814.4 1100.8,815.3 1096.8,815 1092.8,815 1088.8,814.7 1084.8,814.5 1080.8,815.8 1076.8,816.1 1072.8,816.4 1068.8,817.4 1064.7,817.7 1060.7,817.7 1056.7,817.9 1052.7,818.1 1048.7,817.7 1044.7,816.4 1040.7,815.6 1036.7,814.9 1032.7,814.9 1028.7,815 1024.7,815.1 1020.7,815.4 1016.7,815.7 1012.7,815.7 1008.7,816.1 1004.7,816.5 1000.7,817 996.7,817.2 992.7,816.8 988.7,815.7 984.7,816.3 980.7,816.7 976.7,817.1 972.6,817.7 968.6,817.9 964.6,818.3 960.6,818 956.6,817 952.6,816.2 948.6,815.6 944.6,815.3 940.6,814.7 936.6,815.3 932.6,815.2 928.6,815.2 924.6,815.2 920.6,815.2 916.6,815.3 912.6,815.2 908.6,815.7 904.6,816 900.6,816.4 896.6,816.9 892.6,816.7 888.6,816.3 884.6,815.9 880.5,816 876.5,815.5 872.5,815.6 868.5,815.4 864.5,815.2 860.5,814.8 856.5,815.1 852.5,814.4 848.5,814.5 844.5,815.2 840.5,815.6 836.5,816 832.5,816.1 828.5,816.2 824.5,816.2 820.5,816.2 816.5,815.9 812.5,815.8 808.5,816 804.5,815.9 800.5,815.7 796.5,815.5 792.5,815.3 788.4,815.1 784.4,814.9 780.4,814.5 776.4,814.6 772.4,814 768.4,814.1 764.4,813.9 760.4,814.1 756.4,814.6 752.4,815.1 748.4,815.1 744.4,815.5 740.4,814.8 736.4,814.2 732.4,813.2 728.4,814 724.4,813.6 720.4,813.8 716.4,814.2 712.4,814 708.4,814.3 704.4,815 700.4,815 696.3,815 692.3,815.4 688.3,815.7 684.3,815.2 680.3,815.6 676.3,814.9 672.3,813.4 668.3,813 664.3,814 660.3,815 656.3,816.6 652.3,819.5 648.3,822.4 644.3,825.3 640.3,828.1 636.3,830.9 632.3,831 628.3,831.1" fill="#EAB839" fill-opacity="0.1" stroke="none"/>
<polyline points="628.3,776.4 632.3,776.4 636.3,776.6 640.3,773.5 644.3,770.8 648.3,767.1 652.3,763.8 656.3,760.8 660.3,759.5 664.3,758.9 668.3,757.7 672.3,758.2 676.3,759.7 680.3,761.1 684.3,760.9 688.3,761.4 692.3,761.4 696.3,761.9 700.4,761.8 704.4,761.4 708.4,761.4 712.4,761.4 716.4,761.1 720.4,761.1 724.4,760.8 728.4,761.5 732.4,761 736.4,761.5 740.4,762.7 744.4,763.4 748.4,762.7 752.4,762.7 756.4,762.4 760.4,761.8 764.4,761.6 768.4,761.6 772.4,762.2 776.4,762.3 780.4,762.3 784.4,762.7 788.4,763.5 792.5,763.4 796.5,763.7 800.5,764.2 804.5,763.9 808.5,764.6 812.5,764.1 816.5,764.6 820.5,764.3 824.5,764.7 828.5,765.2 832.5,765.2 836.5,765.2 840.5,764.7 844.5,763.9 848.5,763.6 852.5,763 856.5,763.1 860.5,763.5 864.5,764 868.5,764.3 872.5,764.2 876.5,764.4 880.5,765.1 884.6,765.8 888.6,765.7 892.6,766.6 896.6,766.5 900.6,766.4 904.6,766.5 908.6,765.9 912.6,765.6 916.6,764.9 920.6,764.3 924.6,764.6 928.6,764.6 932.6,764.6 936.6,765.1 940.6,765.4 944.6,765 948.6,765.9 952.6,766.8 956.6,767.7 960.6,768.5 964.6,769.1 968.6,768.4 972.6,767.8 976.7,767.7 980.7,767.6 984.7,767.1 988.7,766.9 992.7,768 996.7,768.3 1000.7,767.5 1004.7,767.5 1008.7,767.6 1012.7,767 1016.7,767.2 1020.7,766.7 1024.7,765.8 1028.7,766 1032.7,766.7 1036.7,767.2 1040.7,767.2 1044.7,768 1048.7,769 1052.7,768.9 1056.7,768.9 1060.7,769.2 1064.7,768.5 1068.8,768.2 1072.8,767.9 1076.8,767.5 1080.8,766.7 1084.8,766.4 1088.8,766 1092.8,766.1 1096.8,765.8 1100.8,765.9 1104.8,765.4 1108.8,765 1112.8,764.3 1116.8,762.4 1120.8,759.5 1124.8,758.5 1128.8,757 1132.8,755.1 1136.8,753.3 1140.8,752 1144.8,751.1 1148.8,750.6 1152.8,749.6 1156.8,748.4 1160.9,748.2 1164.9,748.9 1168.9,749.4 1172.9,749.9 1176.9,752 1180.9,753.9" stroke="#EAB839"/>
<polygon points="628.3,700.6 632.3,700.4 636.3,700.2 640.3,698 644.3,695.4 648.3,692.4 652.3,689.8 656.3,687.1 660.3,685.7 664.3,685 668.3,684.1 672.3,684.6 676.3,686.6 680.3,688.2 684.3,688.6 688.3,688.7 692.3,689.5 696.3,689.8 700.4,690.1 704.4,689.8 708.4,690 712.4,690.3 716.4,690.3 720.4,690.5 724.4,690.8 728.4,690.6 732.4,690.7 736.4,691.3 740.4,692.3 744.4,693.2 748.4,693.2 752.4,693.5 756.4,693 760.4,692.9 764.4,692.7 768.4,693.1 772.4,693.7 776.4,694.2 780.4,694.3 784.4,694.5 788.4,695.2 792.5,695.5 796.5,695.7 800.5,696.5 804.5,697 808.5,697.6 812.5,697.6 816.5,698.1 820.5,698.7 824.5,699.4 828.5,699.6 832.5,699.7 836.5,700.3 840.5,700 844.5,699.1 848.5,698.7 852.5,698 856.5,698.4 860.5,699.2 864.5,699.9 868.5,700.2 872.5,700.8 876.5,701.4 880.5,702 884.6,702.5 888.6,703.4 892.6,704 896.6,704.1 900.6,703.7 904.6,703.3 908.6,703.6 912.6,703.2 916.6,703 920.6,703 924.6,702.8 928.6,702.9 932.6,702.9 936.6,703.7 940.6,703.8 944.6,704.1 948.6,704.9 952.6,705.4 956.6,706.2 960.6,707.5 964.6,708 968.6,707.7 972.6,707.8 976.7,707.2 980.7,707.1 984.7,706.9 988.7,706.6 992.7,707.7 996.7,709 1000.7,708.9 1004.7,708.2 1008.7,708.3 1012.7,708.1 1016.7,708.1 1020.7,707.4 1024.7,707.1 1028.7,707.3 1032.7,707.5 1036.7,707.8 1040.7,708.7 1044.7,710 1048.7,710.9 1052.7,711.3 1056.7,711.1 1060.7,711.6 1064.7,711.8 1068.8,711.3 1072.8,710.2 1076.8,710 1080.8,709.1 1084.8,708.3 1088.8,708.6 1092.8,708.9 1096.8,709.8 1100.8,709.9 1104.8,709.6 1108.8,708.8 1112.8,708.2 1116.8,706.6 1120.8,703.4 1124.8,701.5 1128.8,700 1132.8,698.4 1136.8,697 1140.8,695.3 1144.8,693.7 1148.8,693.2 1152.8,692.1 1156.8,691.3 1160.9,691.2 1164.9,691.5 1168.9,692 1172.9,693.1 1176.9,695.1 1180.9,696.4 1180.9,753.9 1176.9,752 1172.9,749.9 1168.9,749.4 1164.9,748.9 1160.9,748.2 1156.8,748.4 1152.8,749.6 1148.8,750.6 1144.8,751.1 1140.8,752 1136.8,753.3 1132.8,755.1 1128.8,757 1124.8,758.5 1120.8,759.5 1116.8,762.4 1112.8,764.3 1108.8,765 1104.8,765.4 1100.8,765.9 1096.8,765.8 1092.8,766.1 1088.8,766 1084.8,766.4 1080.8,766.7 1076.8,767.5 1072.8,767.9 1068.8,768.2 1064.7,768.5 1060.7,769.2 1056.7,768.9 1052.7,768.9 1048.7,769 1044.7,768 1040.7,767.2 1036.7,767.2 1032.7,766.7 1028.7,766 1024.7,765.8 1020.7,766.7 1016.7,767.2 1012.7,767 1008.7,767.6 1004.7,767.5 1000.7,767.5 996.7,768.3 992.7,768 988.7,766.9 984.7,767.1 980.7,767.6 976.7,767.7 972.6,767.8 968.6,768.4 964.6,769.1 960.6,768.5 956.6,767.7 952.6,766.8 948.6,765.9 944.6,765 940.6,765.4 936.6,765.1 932.6,764.6 928.6,764.6 924.6,764.6 920.6,764.3 916.6,764.9 912.6,765.6 908.6,765.9 904.6,766.5 900.6,766.4 896.6,766.5 892.6,766.6 888.6,765.7 884.6,765.8 880.5,765.1 876.5,764.4 872.5,764.2 868.5,764.3 864.5,764 860.5,763.5 856.5,763.1 852.5,763 848.5,763.6 844.5,763.9 840.5,764.7 836.5,765.2 832.5,765.2 828.5,765.2 824.5,764.7 820.5,764.3 816.5,764.6 812.5,764.1 808.5,764.6 804.5,763.9 800.5,764.2 796.5,763.7 792.5,763.4 788.4,763.5 784.4,762.7 780.4,762.3 776.4,762.3 772.4,762.2 768.4,761.6 764.4,761.6 760.4,761.8 756.4,762.4 752.4,762.7 748.4,762.7 744.4,763.4 740.4,762.7 736.4,761.5 732.4,761 728.4,761.5 724.4,760.8 720.4,761.1 716.4,761.1 712.4,761.4 708.4,761.4 704.4,761.4 700.4,761.8 696.3,761.9 692.3,761.4 688.3,761.4 684.3,760.9 680.3,761.1 676.3,759.7 672.3,758.2 668.3,757.7 664.3,758.9 660.3,759.5 656.3,760.8 652.3,763.8 648.3,767.1 644.3,770.8 640.3,773.5 636.3,776.6 632.3,776.4 628.3,776.4" fill="#6ED0E0" fill-opacity="0.1" stroke="none"/>
<polyline points="628.3,700.6 632.3,700.4 636.3,700.2 640.3,698 644.3,695.4 648.3,692.4 652.3,689.8 656.3,687.1 660.3,685.7 664.3,685 668.3,684.1 672.3,684.6 676.3,686.6 680.3,688.2 684.3,688.6 688.3,688.7 692.3,689.5 696.3,689.8 700.4,690.1 704.4,689.8 708.4,690 712.4,690.3 716.4,690.3 720.4,690.5 724.4,690.8 728.4,690.6 732.4,690.7 736.4,691.3 740.4,692.3 744.4,693.2 748.4,693.2 752.4,693.5 756.4,693 760.4,692.9 764.4,692.7 768.4,693.1 772.4,693.7 776.4,694.2 780.4,694.3 784.4,694.5 788.4,695.2 792.5,695.5 796.5,695.7 800.5,696.5 804.5,697 808.5,697.6 812.5,697.6 816.5,698.1 820.5,698.7 824.5,699.4 828.5,699.6 832.5,699.7 836.5,700.3 840.5,700 844.5,699.1 848.5,698.7 852.5,698 856.5,698.4 860.5,699.2 864.5,699.9 868.5,700.2 872.5,700.8 876.5,701.4 880.5,702 884.6,702.5 888.6,703.4 892.6,704 896.6,704.1 900.6,703.7 904.6,703.3 908.6,703.6 912.6,703.2 916.6,703 920.6,703 924.6,702.8 928.6,702.9 932.6,702.9 936.6,703.7 940.6,703.8 944.6,704.1 948.6,704.9 952.6,705.4 956.6,706.2 960.6,707.5 964.6,708 968.6,707.7 972.6,707.8 976.7,707.2 980.7,707.1 984.7,706.9 988.7,706.6 992.7,707.7 996.7,709 1000.7,708.9 1004.7,708.2 1008.7,708.3 1012.7,708.1 1016.7,708.1 1020.7,707.4 1024.7,707.1 1028.7,707.3 1032.7,707.5 1036.7,707.8 1040.7,708.7 1044.7,710 1048.7,710.9 1052.7,711.3 1056.7,711.1 1060.7,711.6 1064.7,711.8 1068.8,711.3 1072.8,710.2 1076.8,710 1080.8,709.1 1084.8,708.3 1088.8,708.6 1092.8,708.9 1096.8,709.8 1100.8,709.9 1104.8,709.6 1108.8,708.8 1112.8,708.2 1116.8,706.6 1120.8,703.4 1124.8,701.5 1128.8,700 1132.8,698.4 1136.8,697 1140.8,695.3 1144.8,693.7 1148.8,693.2 1152.8,692.1 1156.8,691.3 1160.9,691.2 1164.9,691.5 1168.9,692 1172.9,693.1 1176.9,695.1 1180.9,696.4" stroke="#6ED0E0"/>
</g>
<rect x="625" y="904" width="14" height="4" rx="1" fill="#7EB26D"/>
<text x="652.8" y="908" textLength="30.4" lengthAdjust="spacingAndGlyphs">load1</text>
<text x="695.5" y="908" textLength="52.6" lengthAdjust="spacingAndGlyphs">Max: 24.6</text>
<text x="755.2" y="908" textLength="50.1" lengthAdjust="spacingAndGlyphs">Avg: 19.8</text>
<text x="812.3" y="908" textLength="67.8" lengthAdjust="spacingAndGlyphs">Total: 2.71 K</text>
<rect x="890" y="904" width="14" height="4" rx="1" fill="#EAB839"/>
<text x="918.4" y="908" textLength="30.4" lengthAdjust="spacingAndGlyphs">load5</text>
<text x="960.5" y="908" textLength="52.6" lengthAdjust="spacingAndGlyphs">Max: 21.8</text>
<text x="1020.4" y="908" textLength="50.1" lengthAdjust="spacingAndGlyphs">Avg: 20.3</text>
<text x="1077.3" y="908" textLength="67.8" lengthAdjust="spacingAndGlyphs">Total: 2.77 K</text>
<rect x="625" y="925" width="14" height="4" rx="1" fill="#6ED0E0"/>
<text x="652.8" y="929" textLength="37.3" lengthAdjust="spacingAndGlyphs">load15</text>
<text x="702.3" y="929" textLength="52.6" lengthAdjust="spacingAndGlyphs">Max: 30.0</text>
<text x="762.2" y="929" textLength="50.1" lengthAdjust="spacingAndGlyphs">Avg: 25.1</text>
<text x="818.8" y="929" textLength="67.8" lengthAdjust="spacingAndGlyphs">Total: 3.45 K</text>
<rect x="1219.5" y="611.5" width="604" height="333" rx="2.5" fill="#181b1f" stroke="#25272c"/>
<text x="1521.5" y="632.4" text-anchor="middle" font-size="13.4" textLength="152.1" lengthAdjust="spacingAndGlyphs" stroke="#ccccdc" stroke-width="0.45">system.processes_state</text>
<rect x="1345" y="662" width="1" height="224" fill="rgba(255,255,255,0.165)"/>
<rect x="1465" y="662" width="1" height="224" fill="rgba(255,255,255,0.165)"/>
<rect x="1585" y="662" width="1" height="224" fill="rgba(255,255,255,0.165)"/>
<rect x="1705" y="662" width="1" height="224" fill="rgba(255,255,255,0.165)"/>
<rect x="1248" y="662" width="551" height="1" fill="rgba(255,255,255,0.165)"/>
<rect x="1248" y="717" width="551" height="1" fill="rgba(255,255,255,0.165)"/>
<rect x="1248" y="773" width="551" height="1" fill="rgba(255,255,255,0.165)"/>
<rect x="1248" y="829" width="551" height="1" fill="rgba(255,255,255,0.165)"/>
<rect x="1248" y="885" width="551" height="1" fill="rgba(255,255,255,0.165)"/>
<text x="1242.6" y="666.5" text-anchor="end" font-size="11.8" textLength="13.5" lengthAdjust="spacingAndGlyphs">20</text>
<text x="1242.6" y="721.5" text-anchor="end" font-size="11.8" textLength="13.5" lengthAdjust="spacingAndGlyphs">15</text>
<text x="1242.6" y="777.5" text-anchor="end" font-size="11.8" textLength="13.5" lengthAdjust="spacingAndGlyphs">10</text>
<text x="1242.6" y="833.5" text-anchor="end" font-size="11.8" textLength="6.7" lengthAdjust="spacingAndGlyphs">5</text>
<text x="1242.6" y="889.5" text-anchor="end" font-size="11.8" textLength="6.7" lengthAdjust="spacingAndGlyphs">0</text>
<text x="1345.5" y="904.1" text-anchor="middle" font-size="11.8" textLength="29.9" lengthAdjust="spacingAndGlyphs">14:20</text>
<text x="1465.5" y="904.1" text-anchor="middle" font-size="11.8" textLength="29.9" lengthAdjust="spacingAndGlyphs">14:25</text>
<text x="1585.5" y="904.1" text-anchor="middle" font-size="11.8" textLength="29.9" lengthAdjust="spacingAndGlyphs">14:30</text>
<text x="1705.5" y="904.1" text-anchor="middle" font-size="11.8" textLength="29.9" lengthAdjust="spacingAndGlyphs">14:35</text>
<clipPath id="c9"><rect x="1248" y="661" width="552" height="225"/></clipPath>
<g clip-path="url(#c9)" fill="none" stroke-width="1" stroke-linejoin="round">
<polygon points="1241.3,756.2 1245.3,772.9 1249.3,750.6 1253.3,750.6 1257.3,738.8 1261.3,740.2 1265.3,751.5 1269.3,748.9 1273.3,740.5 1277.3,751.7 1281.3,739.8 1285.3,746.8 1289.3,772.9 1293.3,746 1297.3,751.8 1301.3,754.8 1305.3,739.1 1309.3,750.4 1313.4,737.4 1317.4,730.3 1321.4,742.4 1325.4,763.8 1329.4,753.5 1333.4,732.6 1337.4,747.5 1341.4,754.4 1345.4,745.3 1349.4,737.8 1353.4,740.9 1357.4,736 1361.4,754.6 1365.4,747.7 1369.4,747.4 1373.4,744.4 1377.4,770.7 1381.4,747.2 1385.4,761.2 1389.4,726.5 1393.4,724.4 1397.4,722.9 1401.4,733.9 1405.5,750.3 1409.5,732 1413.5,746.7 1417.5,736.4 1421.5,755.6 1425.5,751.6 1429.5,738.2 1433.5,721.7 1437.5,744.4 1441.5,718.2 1445.5,718.2 1449.5,760.4 1453.5,744.5 1457.5,756.2 1461.5,745.9 1465.5,750.9 1469.5,745 1473.5,731.9 1477.5,732.2 1481.5,740.8 1485.5,744.1 1489.5,742.6 1493.5,742.5 1497.6,736.8 1501.6,744 1505.6,737.7 1509.6,760.7 1513.6,734 1517.6,721.9 1521.6,741.8 1525.6,762 1529.6,727 1533.6,748.3 1537.6,772.9 1541.6,746.8 1545.6,736.4 1549.6,739.2 1553.6,728.3 1557.6,736.2 1561.6,742.5 1565.6,769.1 1569.6,758.2 1573.6,741.8 1577.6,735.5 1581.6,757.1 1585.6,751.8 1589.7,738.1 1593.7,768.3 1597.7,768.8 1601.7,747 1605.7,740.9 1609.7,750.1 1613.7,772.9 1617.7,743.8 1621.7,760.9 1625.7,735.8 1629.7,745.3 1633.7,740.7 1637.7,735.9 1641.7,750.7 1645.7,733.6 1649.7,728.3 1653.7,709.3 1657.7,738.3 1661.7,727.2 1665.7,741.7 1669.7,719.4 1673.7,756.6 1677.7,745 1681.8,750.8 1685.8,751.1 1689.8,742.9 1693.8,730.6 1697.8,748.1 1701.8,742.5 1705.8,762.7 1709.8,742.7 1713.8,729.4 1717.8,733.8 1721.8,738 1725.8,750.7 1729.8,756.4 1733.8,745.2 1737.8,761 1741.8,759.7 1745.8,732.1 1749.8,755.7 1753.8,721.2 1757.8,762.2 1761.8,738.6 1765.8,758.9 1769.8,741.8 1773.9,757.2 1777.9,743.5 1781.9,746 1785.9,749.8 1789.9,737.5 1793.9,724.9 1793.9,885.5 1241.3,885.5" fill="#7EB26D" fill-opacity="0.1" stroke="none"/>
<polyline points="1241.3,756.2 1245.3,772.9 1249.3,750.6 1253.3,750.6 1257.3,738.8 1261.3,740.2 1265.3,751.5 1269.3,748.9 1273.3,740.5 1277.3,751.7 1281.3,739.8 1285.3,746.8 1289.3,772.9 1293.3,746 1297.3,751.8 1301.3,754.8 1305.3,739.1 1309.3,750.4 1313.4,737.4 1317.4,730.3 1321.4,742.4 1325.4,763.8 1329.4,753.5 1333.4,732.6 1337.4,747.5 1341.4,754.4 1345.4,745.3 1349.4,737.8 1353.4,740.9 1357.4,736 1361.4,754.6 1365.4,747.7 1369.4,747.4 1373.4,744.4 1377.4,770.7 1381.4,747.2 1385.4,761.2 1389.4,726.5 1393.4,724.4 1397.4,722.9 1401.4,733.9 1405.5,750.3 1409.5,732 1413.5,746.7 1417.5,736.4 1421.5,755.6 1425.5,751.6 1429.5,738.2 1433.5,721.7 1437.5,744.4 1441.5,718.2 1445.5,718.2 1449.5,760.4 1453.5,744.5 1457.5,756.2 1461.5,745.9 1465.5,750.9 1469.5,745 1473.5,731.9 1477.5,732.2 1481.5,740.8 1485.5,744.1 1489.5,742.6 1493.5,742.5 1497.6,736.8 1501.6,744 1505.6,737.7 1509.6,760.7 1513.6,734 1517.6,721.9 1521.6,741.8 1525.6,762 1529.6,727 1533.6,748.3 1537.6,772.9 1541.6,746.8 1545.6,736.4 1549.6,739.2 1553.6,728.3 1557.6,736.2 1561.6,742.5 1565.6,769.1 1569.6,758.2 1573.6,741.8 1577.6,735.5 1581.6,757.1 1585.6,751.8 1589.7,738.1 1593.7,768.3 1597.7,768.8 1601.7,747 1605.7,740.9 1609.7,750.1 1613.7,772.9 1617.7,743.8 1621.7,760.9 1625.7,735.8 1629.7,745.3 1633.7,740.7 1637.7,735.9 1641.7,750.7 1645.7,733.6 1649.7,728.3 1653.7,709.3 1657.7,738.3 1661.7,727.2 1665.7,741.7 1669.7,719.4 1673.7,756.6 1677.7,745 1681.8,750.8 1685.8,751.1 1689.8,742.9 1693.8,730.6 1697.8,748.1 1701.8,742.5 1705.8,762.7 1709.8,742.7 1713.8,729.4 1717.8,733.8 1721.8,738 1725.8,750.7 1729.8,756.4 1733.8,745.2 1737.8,761 1741.8,759.7 1745.8,732.1 1749.8,755.7 1753.8,721.2 1757.8,762.2 1761.8,738.6 1765.8,758.9 1769.8,741.8 1773.9,757.2 1777.9,743.5 1781.9,746 1785.9,749.8 1789.9,737.5 1793.9,724.9" stroke="#7EB26D"/>
<polygon points="1241.3,878.8 1245.3,888.8 1249.3,878.8 1253.3,873.2 1257.3,883.8 1261.3,840.5 1265.3,874.2 1269.3,860.4 1273.3,863.2 1277.3,874.4 1281.3,895.9 1285.3,869.4 1289.3,906.7 1293.3,879.8 1297.3,874.4 1301.3,877.5 1305.3,872.9 1309.3,873 1313.4,860 1317.4,853 1321.4,853.9 1325.4,875.3 1329.4,876.1 1333.4,855.3 1337.4,859 1341.4,877.1 1345.4,868 1349.4,860.5 1353.4,874.7 1357.4,858.6 1361.4,877.3 1365.4,859.2 1369.4,858.9 1373.4,867.1 1377.4,882.2 1381.4,869.8 1385.4,883.8 1389.4,838 1393.4,858.2 1397.4,845.5 1401.4,845.4 1405.5,873 1409.5,854.6 1413.5,891.6 1417.5,847.9 1421.5,878.2 1425.5,874.2 1429.5,872 1433.5,844.3 1437.5,844.8 1441.5,852 1445.5,829.8 1449.5,883 1453.5,856 1457.5,867.7 1461.5,868.5 1465.5,884.7 1469.5,878.8 1473.5,854.5 1477.5,854.9 1481.5,863.5 1485.5,866.7 1489.5,865.3 1493.5,876.3 1497.6,859.5 1501.6,866.7 1505.6,860.4 1509.6,883.3 1513.6,845.5 1517.6,855.7 1521.6,864.4 1525.6,895.8 1529.6,849.6 1533.6,882.1 1537.6,873.2 1541.6,891.8 1545.6,859 1549.6,850.7 1553.6,851 1557.6,881.1 1561.6,865.1 1565.6,880.6 1569.6,880.8 1573.6,875.6 1577.6,847 1581.6,879.7 1585.6,874.5 1589.7,883.1 1593.7,890.9 1597.7,902.6 1601.7,869.6 1605.7,852.4 1609.7,883.9 1613.7,906.7 1617.7,855.3 1621.7,894.7 1625.7,869.6 1629.7,868 1633.7,835.3 1637.7,858.6 1641.7,873.4 1645.7,856.2 1649.7,850.9 1653.7,824.2 1657.7,857.6 1661.7,855.4 1665.7,869.9 1669.7,832 1673.7,879.2 1677.7,856.5 1681.8,884.6 1685.8,896 1689.8,876.7 1693.8,842.1 1697.8,881.9 1701.8,865.1 1705.8,885.3 1709.8,865.3 1713.8,852 1717.8,867.6 1721.8,860.7 1725.8,873.4 1729.8,879.1 1733.8,867.9 1737.8,894.8 1741.8,893.5 1745.8,843.6 1749.8,878.3 1753.8,843.9 1757.8,884.8 1761.8,861.2 1765.8,881.6 1769.8,853.3 1773.9,868.7 1777.9,877.3 1781.9,868.7 1785.9,872.4 1789.9,860.2 1793.9,847.5 1793.9,724.9 1789.9,737.5 1785.9,749.8 1781.9,746 1777.9,743.5 1773.9,757.2 1769.8,741.8 1765.8,758.9 1761.8,738.6 1757.8,762.2 1753.8,721.2 1749.8,755.7 1745.8,732.1 1741.8,759.7 1737.8,761 1733.8,745.2 1729.8,756.4 1725.8,750.7 1721.8,738 1717.8,733.8 1713.8,729.4 1709.8,742.7 1705.8,762.7 1701.8,742.5 1697.8,748.1 1693.8,730.6 1689.8,742.9 1685.8,751.1 1681.8,750.8 1677.7,745 1673.7,756.6 1669.7,719.4 1665.7,741.7 1661.7,727.2 1657.7,738.3 1653.7,709.3 1649.7,728.3 1645.7,733.6 1641.7,750.7 1637.7,735.9 1633.7,740.7 1629.7,745.3 1625.7,735.8 1621.7,760.9 1617.7,743.8 1613.7,772.9 1609.7,750.1 1605.7,740.9 1601.7,747 1597.7,768.8 1593.7,768.3 1589.7,738.1 1585.6,751.8 1581.6,757.1 1577.6,735.5 1573.6,741.8 1569.6,758.2 1565.6,769.1 1561.6,742.5 1557.6,736.2 1553.6,728.3 1549.6,739.2 1545.6,736.4 1541.6,746.8 1537.6,772.9 1533.6,748.3 1529.6,727 1525.6,762 1521.6,741.8 1517.6,721.9 1513.6,734 1509.6,760.7 1505.6,737.7 1501.6,744 1497.6,736.8 1493.5,742.5 1489.5,742.6 1485.5,744.1 1481.5,740.8 1477.5,732.2 1473.5,731.9 1469.5,745 1465.5,750.9 1461.5,745.9 1457.5,756.2 1453.5,744.5 1449.5,760.4 1445.5,718.2 1441.5,718.2 1437.5,744.4 1433.5,721.7 1429.5,738.2 1425.5,751.6 1421.5,755.6 1417.5,736.4 1413.5,746.7 1409.5,732 1405.5,750.3 1401.4,733.9 1397.4,722.9 1393.4,724.4 1389.4,726.5 1385.4,761.2 1381.4,747.2 1377.4,770.7 1373.4,744.4 1369.4,747.4 1365.4,747.7 1361.4,754.6 1357.4,736 1353.4,740.9 1349.4,737.8 1345.4,745.3 1341.4,754.4 1337.4,747.5 1333.4,732.6 1329.4,753.5 1325.4,763.8 1321.4,742.4 1317.4,730.3 1313.4,737.4 1309.3,750.4 1305.3,739.1 1301.3,754.8 1297.3,751.8 1293.3,746 1289.3,772.9 1285.3,746.8 1281.3,739.8 1277.3,751.7 1273.3,740.5 1269.3,748.9 1265.3,751.5 1261.3,740.2 1257.3,738.8 1253.3,750.6 1249.3,750.6 1245.3,772.9 1241.3,756.2" fill="#EAB839" fill-opacity="0.1" stroke="none"/>
<polyline points="1241.3,878.8 1245.3,888.8 1249.3,878.8 1253.3,873.2 1257.3,883.8 1261.3,840.5 1265.3,874.2 1269.3,860.4 1273.3,863.2 1277.3,874.4 1281.3,895.9 1285.3,869.4 1289.3,906.7 1293.3,879.8 1297.3,874.4 1301.3,877.5 1305.3,872.9 1309.3,873 1313.4,860 1317.4,853 1321.4,853.9 1325.4,875.3 1329.4,876.1 1333.4,855.3 1337.4,859 1341.4,877.1 1345.4,868 1349.4,860.5 1353.4,874.7 1357.4,858.6 1361.4,877.3 1365.4,859.2 1369.4,858.9 1373.4,867.1 1377.4,882.2 1381.4,869.8 1385.4,883.8 1389.4,838 1393.4,858.2 1397.4,845.5 1401.4,845.4 1405.5,873 1409.5,854.6 1413.5,891.6 1417.5,847.9 1421.5,878.2 1425.5,874.2 1429.5,872 1433.5,844.3 1437.5,844.8 1441.5,852 1445.5,829.8 1449.5,883 1453.5,856 1457.5,867.7 1461.5,868.5 1465.5,884.7 1469.5,878.8 1473.5,854.5 1477.5,854.9 1481.5,863.5 1485.5,866.7 1489.5,865.3 1493.5,876.3 1497.6,859.5 1501.6,866.7 1505.6,860.4 1509.6,883.3 1513.6,845.5 1517.6,855.7 1521.6,864.4 1525.6,895.8 1529.6,849.6 1533.6,882.1 1537.6,873.2 1541.6,891.8 1545.6,859 1549.6,850.7 1553.6,851 1557.6,881.1 1561.6,865.1 1565.6,880.6 1569.6,880.8 1573.6,875.6 1577.6,847 1581.6,879.7 1585.6,874.5 1589.7,883.1 1593.7,890.9 1597.7,902.6 1601.7,869.6 1605.7,852.4 1609.7,883.9 1613.7,906.7 1617.7,855.3 1621.7,894.7 1625.7,869.6 1629.7,868 1633.7,835.3 1637.7,858.6 1641.7,873.4 1645.7,856.2 1649.7,850.9 1653.7,824.2 1657.7,857.6 1661.7,855.4 1665.7,869.9 1669.7,832 1673.7,879.2 1677.7,856.5 1681.8,884.6 1685.8,896 1689.8,876.7 1693.8,842.1 1697.8,881.9 1701.8,865.1 1705.8,885.3 1709.8,865.3 1713.8,852 1717.8,867.6 1721.8,860.7 1725.8,873.4 1729.8,879.1 1733.8,867.9 1737.8,894.8 1741.8,893.5 1745.8,843.6 1749.8,878.3 1753.8,843.9 1757.8,884.8 1761.8,861.2 1765.8,881.6 1769.8,853.3 1773.9,868.7 1777.9,877.3 1781.9,868.7 1785.9,872.4 1789.9,860.2 1793.9,847.5" stroke="#EAB839"/>
</g>
<rect x="1238" y="925" width="14" height="4" rx="1" fill="#7EB26D"/>
<text x="1266.1" y="929" textLength="41.1" lengthAdjust="spacingAndGlyphs">running</text>
<text x="1319.1" y="929" textLength="52.6" lengthAdjust="spacingAndGlyphs">Max: 15.8</text>
<text x="1379" y="929" textLength="50.1" lengthAdjust="spacingAndGlyphs">Avg: 12.7</text>
<text x="1435.9" y="929" textLength="67.8" lengthAdjust="spacingAndGlyphs">Total: 1.75 K</text>
<rect x="1514" y="925" width="14" height="4" rx="1" fill="#EAB839"/>
<text x="1541.8" y="929" textLength="41.9" lengthAdjust="spacingAndGlyphs">blocked</text>
<text x="1596.4" y="929" textLength="45.8" lengthAdjust="spacingAndGlyphs">Max: -10</text>
<text x="1649.7" y="929" textLength="53.3" lengthAdjust="spacingAndGlyphs">Avg: -11.1</text>
<text x="1709.6" y="929" textLength="70.9" lengthAdjust="spacingAndGlyphs">Total: -1.53 K</text>
<path d="M1816 941h4v-4" fill="none" stroke="#646464" stroke-width="2"/>
</svg></body></html>
